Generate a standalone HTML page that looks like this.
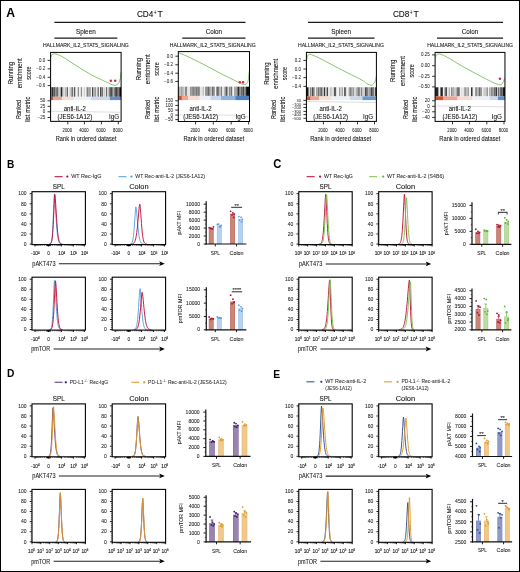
<!DOCTYPE html>
<html><head><meta charset="utf-8"><style>
html,body{margin:0;padding:0;background:#fff;}
body{width:520px;height:572px;overflow:hidden;position:relative;}
svg{display:block;font-family:"Liberation Sans", sans-serif;will-change:transform;}
#frame{position:absolute;left:0;top:0;width:520px;height:572px;box-sizing:border-box;border:1px solid #000;pointer-events:none;}
</style></head><body>
<svg width="520" height="572" viewBox="0 0 520 572" font-family="Liberation Sans, sans-serif">
<rect x="0.00" y="0.00" width="520.00" height="572.00" fill="#fff"/>
<text x="6.20" y="16.59" font-size="12.2" font-weight="bold" fill="#000">A</text>
<line x1="54.40" y1="22.30" x2="245.50" y2="22.30" stroke="#1a1a1a" stroke-width="1.25"/>
<line x1="308.00" y1="22.30" x2="503.00" y2="22.30" stroke="#1a1a1a" stroke-width="1.25"/>
<text x="136.90" y="17.43" font-size="9.40" fill="#111" textLength="16.40" lengthAdjust="spacingAndGlyphs" stroke="#111" stroke-width="0.11">CD4</text>
<text x="155.20" y="14.88" font-size="7.20" text-anchor="middle" fill="#111" textLength="2.80" lengthAdjust="spacingAndGlyphs" stroke="#111" stroke-width="0.09">+</text>
<text x="157.40" y="17.43" font-size="9.40" fill="#111" textLength="5.30" lengthAdjust="spacingAndGlyphs" stroke="#111" stroke-width="0.11">T</text>
<text x="392.90" y="17.43" font-size="9.40" fill="#111" textLength="16.40" lengthAdjust="spacingAndGlyphs" stroke="#111" stroke-width="0.11">CD8</text>
<text x="411.10" y="14.88" font-size="7.20" text-anchor="middle" fill="#111" textLength="2.80" lengthAdjust="spacingAndGlyphs" stroke="#111" stroke-width="0.09">+</text>
<text x="413.40" y="17.43" font-size="9.40" fill="#111" textLength="5.30" lengthAdjust="spacingAndGlyphs" stroke="#111" stroke-width="0.11">T</text>
<text x="85.85" y="46.78" font-size="4.60" text-anchor="middle" fill="#111" textLength="85.90" lengthAdjust="spacingAndGlyphs" stroke="#111" stroke-width="0.06">HALLMARK_IL2_STAT5_SIGNALING</text>
<line x1="54.40" y1="38.10" x2="117.30" y2="38.10" stroke="#1a1a1a" stroke-width="1.15"/>
<text x="85.85" y="33.54" font-size="6.50" text-anchor="middle" fill="#111" textLength="19.80" lengthAdjust="spacingAndGlyphs" stroke="#111" stroke-width="0.08">Spleen</text>
<rect x="50.60" y="87.20" width="0.85" height="9.60" fill="rgb(19,19,19)"/>
<rect x="51.42" y="87.20" width="0.85" height="9.60" fill="rgb(107,107,107)"/>
<rect x="52.23" y="87.20" width="0.85" height="9.60" fill="rgb(0,0,0)"/>
<rect x="53.05" y="87.20" width="0.85" height="9.60" fill="rgb(111,111,111)"/>
<rect x="53.87" y="87.20" width="0.85" height="9.60" fill="rgb(17,17,17)"/>
<rect x="54.68" y="87.20" width="0.85" height="9.60" fill="rgb(106,106,106)"/>
<rect x="55.50" y="87.20" width="1.53" height="9.60" fill="rgb(127,127,127)"/>
<rect x="57.00" y="87.20" width="1.03" height="9.60" fill="rgb(107,107,107)"/>
<rect x="58.00" y="87.20" width="1.03" height="9.60" fill="rgb(185,185,185)"/>
<rect x="59.00" y="87.20" width="1.73" height="9.60" fill="rgb(204,204,204)"/>
<rect x="60.70" y="87.20" width="1.43" height="9.60" fill="rgb(38,38,38)"/>
<rect x="62.10" y="87.20" width="0.83" height="9.60" fill="rgb(140,140,140)"/>
<rect x="62.90" y="87.20" width="0.83" height="9.60" fill="rgb(225,225,225)"/>
<rect x="63.70" y="87.20" width="0.83" height="9.60" fill="rgb(161,161,161)"/>
<rect x="64.50" y="87.20" width="1.13" height="9.60" fill="rgb(242,242,242)"/>
<rect x="65.60" y="87.20" width="0.83" height="9.60" fill="rgb(89,89,89)"/>
<rect x="66.40" y="87.20" width="0.83" height="9.60" fill="rgb(190,190,190)"/>
<rect x="67.20" y="87.20" width="0.83" height="9.60" fill="rgb(68,68,68)"/>
<rect x="68.00" y="87.20" width="1.43" height="9.60" fill="rgb(242,242,242)"/>
<rect x="69.40" y="87.20" width="1.03" height="9.60" fill="rgb(204,204,204)"/>
<rect x="70.40" y="87.20" width="0.43" height="9.60" fill="rgb(242,242,242)"/>
<rect x="70.80" y="87.20" width="0.73" height="9.60" fill="rgb(60,60,60)"/>
<rect x="71.50" y="87.20" width="0.73" height="9.60" fill="rgb(179,179,179)"/>
<rect x="72.20" y="87.20" width="0.73" height="9.60" fill="rgb(49,49,49)"/>
<rect x="72.90" y="87.20" width="1.03" height="9.60" fill="rgb(242,242,242)"/>
<rect x="73.90" y="87.20" width="0.88" height="9.60" fill="rgb(24,24,24)"/>
<rect x="74.75" y="87.20" width="0.88" height="9.60" fill="rgb(128,128,128)"/>
<rect x="75.60" y="87.20" width="2.13" height="9.60" fill="rgb(242,242,242)"/>
<rect x="77.70" y="87.20" width="1.43" height="9.60" fill="rgb(140,140,140)"/>
<rect x="79.10" y="87.20" width="1.73" height="9.60" fill="rgb(242,242,242)"/>
<rect x="80.80" y="87.20" width="1.43" height="9.60" fill="rgb(140,140,140)"/>
<rect x="82.20" y="87.20" width="1.73" height="9.60" fill="rgb(242,242,242)"/>
<rect x="83.90" y="87.20" width="0.73" height="9.60" fill="rgb(153,153,153)"/>
<rect x="84.60" y="87.20" width="1.83" height="9.60" fill="rgb(242,242,242)"/>
<rect x="86.40" y="87.20" width="0.93" height="9.60" fill="rgb(153,153,153)"/>
<rect x="87.30" y="87.20" width="1.13" height="9.60" fill="rgb(89,89,89)"/>
<rect x="88.40" y="87.20" width="1.23" height="9.60" fill="rgb(165,165,165)"/>
<rect x="89.60" y="87.20" width="1.13" height="9.60" fill="rgb(102,102,102)"/>
<rect x="90.70" y="87.20" width="1.43" height="9.60" fill="rgb(242,242,242)"/>
<rect x="92.10" y="87.20" width="0.93" height="9.60" fill="rgb(51,51,51)"/>
<rect x="93.00" y="87.20" width="0.93" height="9.60" fill="rgb(161,161,161)"/>
<rect x="93.90" y="87.20" width="0.73" height="9.60" fill="rgb(242,242,242)"/>
<rect x="94.60" y="87.20" width="0.93" height="9.60" fill="rgb(75,75,75)"/>
<rect x="95.50" y="87.20" width="0.93" height="9.60" fill="rgb(146,146,146)"/>
<rect x="96.40" y="87.20" width="1.13" height="9.60" fill="rgb(242,242,242)"/>
<rect x="97.50" y="87.20" width="1.43" height="9.60" fill="rgb(102,102,102)"/>
<rect x="98.90" y="87.20" width="1.13" height="9.60" fill="rgb(242,242,242)"/>
<rect x="100.00" y="87.20" width="0.96" height="9.60" fill="rgb(61,61,61)"/>
<rect x="100.93" y="87.20" width="0.96" height="9.60" fill="rgb(147,147,147)"/>
<rect x="101.87" y="87.20" width="0.96" height="9.60" fill="rgb(53,53,53)"/>
<rect x="102.80" y="87.20" width="0.73" height="9.60" fill="rgb(229,229,229)"/>
<rect x="103.50" y="87.20" width="2.13" height="9.60" fill="rgb(204,204,204)"/>
<rect x="105.60" y="87.20" width="0.43" height="9.60" fill="rgb(242,242,242)"/>
<rect x="106.00" y="87.20" width="1.03" height="9.60" fill="rgb(102,102,102)"/>
<rect x="107.00" y="87.20" width="0.83" height="9.60" fill="rgb(242,242,242)"/>
<rect x="107.80" y="87.20" width="0.73" height="9.60" fill="rgb(126,126,126)"/>
<rect x="108.50" y="87.20" width="0.73" height="9.60" fill="rgb(200,200,200)"/>
<rect x="109.20" y="87.20" width="0.73" height="9.60" fill="rgb(109,109,109)"/>
<rect x="109.90" y="87.20" width="0.75" height="9.60" fill="rgb(3,3,3)"/>
<rect x="110.62" y="87.20" width="0.75" height="9.60" fill="rgb(108,108,108)"/>
<rect x="111.35" y="87.20" width="0.75" height="9.60" fill="rgb(12,12,12)"/>
<rect x="112.08" y="87.20" width="0.75" height="9.60" fill="rgb(109,109,109)"/>
<rect x="112.80" y="87.20" width="0.73" height="9.60" fill="rgb(87,87,87)"/>
<rect x="113.50" y="87.20" width="0.73" height="9.60" fill="rgb(187,187,187)"/>
<rect x="114.20" y="87.20" width="0.73" height="9.60" fill="rgb(103,103,103)"/>
<rect x="114.90" y="87.20" width="0.74" height="9.60" fill="rgb(0,0,0)"/>
<rect x="115.61" y="87.20" width="0.74" height="9.60" fill="rgb(89,89,89)"/>
<rect x="116.33" y="87.20" width="0.74" height="9.60" fill="rgb(3,3,3)"/>
<rect x="117.04" y="87.20" width="0.74" height="9.60" fill="rgb(101,101,101)"/>
<rect x="117.76" y="87.20" width="0.74" height="9.60" fill="rgb(25,25,25)"/>
<rect x="118.47" y="87.20" width="0.74" height="9.60" fill="rgb(120,120,120)"/>
<rect x="119.19" y="87.20" width="0.74" height="9.60" fill="rgb(26,26,26)"/>
<rect x="119.90" y="87.20" width="1.23" height="9.60" fill="rgb(12,12,12)"/>
<rect x="50.60" y="96.80" width="2.87" height="3.30" fill="#d4502e"/>
<rect x="53.42" y="96.80" width="8.51" height="3.30" fill="#eaa58f"/>
<rect x="61.88" y="96.80" width="12.04" height="3.30" fill="#f6ddd2"/>
<rect x="73.87" y="96.80" width="16.97" height="3.30" fill="#eef0f8"/>
<rect x="90.78" y="96.80" width="19.09" height="3.30" fill="#c9d9ee"/>
<rect x="109.82" y="96.80" width="11.33" height="3.30" fill="#5d8fcc"/>
<path d="M50.70,57.50 C50.92,57.05 51.42,55.40 52.00,54.80 C52.58,54.20 53.37,53.98 54.20,53.90 C55.03,53.82 55.38,53.68 57.00,54.30 C58.62,54.92 60.45,55.55 63.90,57.60 C67.35,59.65 73.10,63.72 77.70,66.60 C82.30,69.48 86.88,72.40 91.50,74.90 C96.12,77.40 102.15,80.05 105.40,81.60 C108.65,83.15 109.50,83.58 111.00,84.20 C112.50,84.82 113.40,85.23 114.40,85.30 C115.40,85.37 116.27,85.02 117.00,84.60 C117.73,84.18 118.27,83.73 118.80,82.80 C119.33,81.87 119.83,80.72 120.20,79.00 C120.57,77.28 120.87,73.58 121.00,72.50" stroke="#74b852" fill="none" stroke-width="0.85"/>
<circle cx="110.80" cy="80.70" r="1.25" fill="#c82a52"/>
<circle cx="115.20" cy="80.70" r="1.25" fill="#c82a52"/>
<path d="M51,111.2 Q70,111.6 90,111.8 T120,112.4" stroke="#c8c8c8" fill="none" stroke-width="0.6"/>
<rect x="50.60" y="52.40" width="70.50" height="68.95" fill="none" stroke="#000" stroke-width="1.0"/>
<path d="M47.60,60.40H50.60M47.60,68.90H50.60M47.60,77.30H50.60M47.60,85.60H50.60M47.60,100.80H50.60M47.60,106.30H50.60M47.60,111.80H50.60M47.60,117.50H50.60M67.80,121.35V124.35M84.40,121.35V124.35M101.40,121.35V124.35M118.30,121.35V124.35" stroke="#111" fill="none" stroke-width="0.85"/>
<text x="45.20" y="61.95" font-size="4.50" text-anchor="end" fill="#2a2a2a" stroke="#2a2a2a" stroke-width="0.04">0.0</text>
<text x="45.20" y="70.45" font-size="4.50" text-anchor="end" fill="#2a2a2a" stroke="#2a2a2a" stroke-width="0.04">−0.2</text>
<text x="45.20" y="78.85" font-size="4.50" text-anchor="end" fill="#2a2a2a" stroke="#2a2a2a" stroke-width="0.04">−0.4</text>
<text x="45.20" y="87.15" font-size="4.50" text-anchor="end" fill="#2a2a2a" stroke="#2a2a2a" stroke-width="0.04">−0.6</text>
<text x="45.20" y="102.35" font-size="4.50" text-anchor="end" fill="#2a2a2a" stroke="#2a2a2a" stroke-width="0.04">50</text>
<text x="45.20" y="107.85" font-size="4.50" text-anchor="end" fill="#2a2a2a" stroke="#2a2a2a" stroke-width="0.04">25</text>
<text x="45.20" y="113.35" font-size="4.50" text-anchor="end" fill="#2a2a2a" stroke="#2a2a2a" stroke-width="0.04">0</text>
<text x="45.20" y="119.05" font-size="4.50" text-anchor="end" fill="#2a2a2a" stroke="#2a2a2a" stroke-width="0.04">−25</text>
<text x="67.30" y="131.69" font-size="4.90" text-anchor="middle" fill="#1a1a1a" textLength="9.40" lengthAdjust="spacingAndGlyphs" stroke="#1a1a1a" stroke-width="0.06">2000</text>
<text x="83.90" y="131.69" font-size="4.90" text-anchor="middle" fill="#1a1a1a" textLength="9.40" lengthAdjust="spacingAndGlyphs" stroke="#1a1a1a" stroke-width="0.06">4000</text>
<text x="100.90" y="131.69" font-size="4.90" text-anchor="middle" fill="#1a1a1a" textLength="9.40" lengthAdjust="spacingAndGlyphs" stroke="#1a1a1a" stroke-width="0.06">6000</text>
<text x="117.80" y="131.69" font-size="4.90" text-anchor="middle" fill="#1a1a1a" textLength="9.40" lengthAdjust="spacingAndGlyphs" stroke="#1a1a1a" stroke-width="0.06">8000</text>
<text x="74.80" y="110.74" font-size="6.80" text-anchor="middle" fill="#111" textLength="22.30" lengthAdjust="spacingAndGlyphs" stroke="#111" stroke-width="0.08">anti-IL-2</text>
<text x="74.80" y="118.64" font-size="6.80" text-anchor="middle" fill="#111" textLength="34.80" lengthAdjust="spacingAndGlyphs" stroke="#111" stroke-width="0.08">(JES6-1A12)</text>
<text x="114.10" y="118.94" font-size="6.80" text-anchor="middle" fill="#111" textLength="10.20" lengthAdjust="spacingAndGlyphs" stroke="#111" stroke-width="0.08">IgG</text>
<text x="86.20" y="141.41" font-size="7.00" text-anchor="middle" fill="#111" textLength="60.90" lengthAdjust="spacingAndGlyphs" stroke="#111" stroke-width="0.08">Rank in ordered dataset</text>
<text transform="translate(10.50,73.10) rotate(-90)" x="0" y="2.20" font-size="6.40" text-anchor="middle" fill="#111" textLength="22.30" lengthAdjust="spacingAndGlyphs" stroke="#111" stroke-width="0.08">Running</text>
<text transform="translate(19.70,73.30) rotate(-90)" x="0" y="2.20" font-size="6.40" text-anchor="middle" fill="#111" textLength="30.00" lengthAdjust="spacingAndGlyphs" stroke="#111" stroke-width="0.08">enrichment</text>
<text transform="translate(28.90,73.10) rotate(-90)" x="0" y="2.20" font-size="6.40" text-anchor="middle" fill="#111" textLength="13.50" lengthAdjust="spacingAndGlyphs" stroke="#111" stroke-width="0.08">score</text>
<text transform="translate(19.00,109.40) rotate(-90)" x="0" y="2.20" font-size="6.40" text-anchor="middle" fill="#111" textLength="19.20" lengthAdjust="spacingAndGlyphs" stroke="#111" stroke-width="0.08">Ranked</text>
<text transform="translate(28.20,109.20) rotate(-90)" x="0" y="2.20" font-size="6.40" text-anchor="middle" fill="#111" textLength="25.20" lengthAdjust="spacingAndGlyphs" stroke="#111" stroke-width="0.08">list metric</text>
<text x="212.80" y="46.78" font-size="4.60" text-anchor="middle" fill="#111" textLength="85.90" lengthAdjust="spacingAndGlyphs" stroke="#111" stroke-width="0.06">HALLMARK_IL2_STAT5_SIGNALING</text>
<line x1="182.30" y1="38.10" x2="245.50" y2="38.10" stroke="#1a1a1a" stroke-width="1.15"/>
<text x="213.90" y="33.54" font-size="6.50" text-anchor="middle" fill="#111" textLength="16.30" lengthAdjust="spacingAndGlyphs" stroke="#111" stroke-width="0.08">Colon</text>
<rect x="178.30" y="86.70" width="0.75" height="9.20" fill="rgb(108,108,108)"/>
<rect x="179.03" y="86.70" width="0.75" height="9.20" fill="rgb(192,192,192)"/>
<rect x="179.75" y="86.70" width="0.75" height="9.20" fill="rgb(100,100,100)"/>
<rect x="180.47" y="86.70" width="0.75" height="9.20" fill="rgb(213,213,213)"/>
<rect x="181.20" y="86.70" width="0.75" height="9.20" fill="rgb(127,127,127)"/>
<rect x="181.93" y="86.70" width="0.75" height="9.20" fill="rgb(204,204,204)"/>
<rect x="182.65" y="86.70" width="0.75" height="9.20" fill="rgb(116,116,116)"/>
<rect x="183.38" y="86.70" width="0.75" height="9.20" fill="rgb(186,186,186)"/>
<rect x="184.10" y="86.70" width="1.43" height="9.20" fill="rgb(216,216,216)"/>
<rect x="185.50" y="86.70" width="0.93" height="9.20" fill="rgb(35,35,35)"/>
<rect x="186.40" y="86.70" width="0.93" height="9.20" fill="rgb(131,131,131)"/>
<rect x="187.30" y="86.70" width="3.23" height="9.20" fill="rgb(229,229,229)"/>
<rect x="190.50" y="86.70" width="0.75" height="9.20" fill="rgb(66,66,66)"/>
<rect x="191.22" y="86.70" width="0.75" height="9.20" fill="rgb(154,154,154)"/>
<rect x="191.94" y="86.70" width="0.75" height="9.20" fill="rgb(83,83,83)"/>
<rect x="192.65" y="86.70" width="0.75" height="9.20" fill="rgb(163,163,163)"/>
<rect x="193.37" y="86.70" width="0.75" height="9.20" fill="rgb(82,82,82)"/>
<rect x="194.09" y="86.70" width="0.75" height="9.20" fill="rgb(144,144,144)"/>
<rect x="194.81" y="86.70" width="0.75" height="9.20" fill="rgb(86,86,86)"/>
<rect x="195.53" y="86.70" width="0.75" height="9.20" fill="rgb(147,147,147)"/>
<rect x="196.25" y="86.70" width="0.75" height="9.20" fill="rgb(86,86,86)"/>
<rect x="196.96" y="86.70" width="0.75" height="9.20" fill="rgb(153,153,153)"/>
<rect x="197.68" y="86.70" width="0.75" height="9.20" fill="rgb(75,75,75)"/>
<rect x="198.40" y="86.70" width="1.43" height="9.20" fill="rgb(102,102,102)"/>
<rect x="199.80" y="86.70" width="2.83" height="9.20" fill="rgb(229,229,229)"/>
<rect x="202.60" y="86.70" width="1.43" height="9.20" fill="rgb(191,191,191)"/>
<rect x="204.00" y="86.70" width="1.53" height="9.20" fill="rgb(242,242,242)"/>
<rect x="205.50" y="86.70" width="0.74" height="9.20" fill="rgb(59,59,59)"/>
<rect x="206.21" y="86.70" width="0.74" height="9.20" fill="rgb(133,133,133)"/>
<rect x="206.93" y="86.70" width="0.74" height="9.20" fill="rgb(75,75,75)"/>
<rect x="207.64" y="86.70" width="0.74" height="9.20" fill="rgb(165,165,165)"/>
<rect x="208.36" y="86.70" width="0.74" height="9.20" fill="rgb(39,39,39)"/>
<rect x="209.07" y="86.70" width="0.74" height="9.20" fill="rgb(147,147,147)"/>
<rect x="209.79" y="86.70" width="0.74" height="9.20" fill="rgb(72,72,72)"/>
<rect x="210.50" y="86.70" width="1.43" height="9.20" fill="rgb(204,204,204)"/>
<rect x="211.90" y="86.70" width="0.86" height="9.20" fill="rgb(48,48,48)"/>
<rect x="212.73" y="86.70" width="0.86" height="9.20" fill="rgb(142,142,142)"/>
<rect x="213.57" y="86.70" width="0.86" height="9.20" fill="rgb(84,84,84)"/>
<rect x="214.40" y="86.70" width="0.86" height="9.20" fill="rgb(148,148,148)"/>
<rect x="215.23" y="86.70" width="0.86" height="9.20" fill="rgb(252,252,252)"/>
<rect x="216.07" y="86.70" width="0.86" height="9.20" fill="rgb(152,152,152)"/>
<rect x="216.90" y="86.70" width="0.86" height="9.20" fill="rgb(38,38,38)"/>
<rect x="217.73" y="86.70" width="0.86" height="9.20" fill="rgb(148,148,148)"/>
<rect x="218.57" y="86.70" width="0.86" height="9.20" fill="rgb(35,35,35)"/>
<rect x="219.40" y="86.70" width="1.43" height="9.20" fill="rgb(204,204,204)"/>
<rect x="220.80" y="86.70" width="1.13" height="9.20" fill="rgb(102,102,102)"/>
<rect x="221.90" y="86.70" width="2.83" height="9.20" fill="rgb(229,229,229)"/>
<rect x="224.70" y="86.70" width="0.83" height="9.20" fill="rgb(61,61,61)"/>
<rect x="225.50" y="86.70" width="0.83" height="9.20" fill="rgb(148,148,148)"/>
<rect x="226.30" y="86.70" width="0.83" height="9.20" fill="rgb(30,30,30)"/>
<rect x="227.10" y="86.70" width="0.83" height="9.20" fill="rgb(139,139,139)"/>
<rect x="227.90" y="86.70" width="1.53" height="9.20" fill="rgb(216,216,216)"/>
<rect x="229.40" y="86.70" width="0.83" height="9.20" fill="rgb(72,72,72)"/>
<rect x="230.20" y="86.70" width="0.83" height="9.20" fill="rgb(156,156,156)"/>
<rect x="231.00" y="86.70" width="0.83" height="9.20" fill="rgb(69,69,69)"/>
<rect x="231.80" y="86.70" width="0.83" height="9.20" fill="rgb(165,165,165)"/>
<rect x="232.60" y="86.70" width="1.83" height="9.20" fill="rgb(242,242,242)"/>
<rect x="234.40" y="86.70" width="0.73" height="9.20" fill="rgb(113,113,113)"/>
<rect x="235.10" y="86.70" width="0.73" height="9.20" fill="rgb(176,176,176)"/>
<rect x="235.80" y="86.70" width="0.73" height="9.20" fill="rgb(75,75,75)"/>
<rect x="236.50" y="86.70" width="0.73" height="9.20" fill="rgb(166,166,166)"/>
<rect x="237.20" y="86.70" width="0.73" height="9.20" fill="rgb(87,87,87)"/>
<rect x="237.90" y="86.70" width="1.08" height="9.20" fill="rgb(36,36,36)"/>
<rect x="238.95" y="86.70" width="1.08" height="9.20" fill="rgb(127,127,127)"/>
<rect x="240.00" y="86.70" width="1.53" height="9.20" fill="rgb(153,153,153)"/>
<rect x="241.50" y="86.70" width="0.83" height="9.20" fill="rgb(10,10,10)"/>
<rect x="242.30" y="86.70" width="0.83" height="9.20" fill="rgb(102,102,102)"/>
<rect x="243.10" y="86.70" width="0.83" height="9.20" fill="rgb(33,33,33)"/>
<rect x="243.90" y="86.70" width="0.83" height="9.20" fill="rgb(120,120,120)"/>
<rect x="244.70" y="86.70" width="1.43" height="9.20" fill="rgb(127,127,127)"/>
<rect x="246.10" y="86.70" width="3.43" height="9.20" fill="rgb(12,12,12)"/>
<rect x="178.30" y="95.90" width="3.61" height="4.20" fill="#d4502e"/>
<rect x="181.86" y="95.90" width="6.46" height="4.20" fill="#eba592"/>
<rect x="188.27" y="95.90" width="11.44" height="4.20" fill="#f6ddd4"/>
<rect x="199.66" y="95.90" width="10.73" height="4.20" fill="#eef0f8"/>
<rect x="210.34" y="95.90" width="10.73" height="4.20" fill="#c8d8ee"/>
<rect x="221.02" y="95.90" width="14.29" height="4.20" fill="#8fb2de"/>
<rect x="235.26" y="95.90" width="14.29" height="4.20" fill="#4d7fc2"/>
<path d="M178.60,52.80 C179.65,53.22 182.68,54.33 184.90,55.30 C187.12,56.27 188.43,56.90 191.90,58.60 C195.37,60.30 201.10,63.12 205.70,65.50 C210.30,67.88 214.88,70.52 219.50,72.90 C224.12,75.28 229.93,78.08 233.40,79.80 C236.87,81.52 238.68,82.43 240.30,83.20 C241.92,83.97 242.17,84.23 243.10,84.40 C244.03,84.57 245.08,84.73 245.90,84.20 C246.72,83.67 247.43,83.43 248.00,81.20 C248.57,78.97 249.08,72.53 249.30,70.80" stroke="#74b852" fill="none" stroke-width="0.85"/>
<circle cx="239.80" cy="82.20" r="1.25" fill="#c82a52"/>
<circle cx="243.10" cy="82.20" r="1.25" fill="#c82a52"/>
<path d="M179,115 L235,115.2 Q245,115.5 249,117" stroke="#c8c8c8" fill="none" stroke-width="0.6"/>
<rect x="178.30" y="51.60" width="71.20" height="69.90" fill="none" stroke="#000" stroke-width="1.0"/>
<path d="M175.30,56.20H178.30M175.30,64.80H178.30M175.30,73.20H178.30M175.30,81.40H178.30M175.30,100.80H178.30M175.30,105.40H178.30M175.30,110.10H178.30M175.30,115.10H178.30M175.30,119.60H178.30M195.60,121.50V124.50M213.30,121.50V124.50M231.20,121.50V124.50M248.60,121.50V124.50" stroke="#111" fill="none" stroke-width="0.85"/>
<text x="172.90" y="57.75" font-size="4.50" text-anchor="end" fill="#2a2a2a" stroke="#2a2a2a" stroke-width="0.04">0.0</text>
<text x="172.90" y="66.35" font-size="4.50" text-anchor="end" fill="#2a2a2a" stroke="#2a2a2a" stroke-width="0.04">−0.2</text>
<text x="172.90" y="74.75" font-size="4.50" text-anchor="end" fill="#2a2a2a" stroke="#2a2a2a" stroke-width="0.04">−0.4</text>
<text x="172.90" y="82.95" font-size="4.50" text-anchor="end" fill="#2a2a2a" stroke="#2a2a2a" stroke-width="0.04">−0.6</text>
<text x="172.90" y="102.35" font-size="4.50" text-anchor="end" fill="#2a2a2a" stroke="#2a2a2a" stroke-width="0.04">150</text>
<text x="172.90" y="106.95" font-size="4.50" text-anchor="end" fill="#2a2a2a" stroke="#2a2a2a" stroke-width="0.04">100</text>
<text x="172.90" y="111.65" font-size="4.50" text-anchor="end" fill="#2a2a2a" stroke="#2a2a2a" stroke-width="0.04">50</text>
<text x="172.90" y="116.65" font-size="4.50" text-anchor="end" fill="#2a2a2a" stroke="#2a2a2a" stroke-width="0.04">0</text>
<text x="172.90" y="121.15" font-size="4.50" text-anchor="end" fill="#2a2a2a" stroke="#2a2a2a" stroke-width="0.04">−50</text>
<text x="195.10" y="131.69" font-size="4.90" text-anchor="middle" fill="#1a1a1a" textLength="9.40" lengthAdjust="spacingAndGlyphs" stroke="#1a1a1a" stroke-width="0.06">2000</text>
<text x="212.80" y="131.69" font-size="4.90" text-anchor="middle" fill="#1a1a1a" textLength="9.40" lengthAdjust="spacingAndGlyphs" stroke="#1a1a1a" stroke-width="0.06">4000</text>
<text x="230.70" y="131.69" font-size="4.90" text-anchor="middle" fill="#1a1a1a" textLength="9.40" lengthAdjust="spacingAndGlyphs" stroke="#1a1a1a" stroke-width="0.06">6000</text>
<text x="248.10" y="131.69" font-size="4.90" text-anchor="middle" fill="#1a1a1a" textLength="9.40" lengthAdjust="spacingAndGlyphs" stroke="#1a1a1a" stroke-width="0.06">8000</text>
<text x="200.60" y="110.74" font-size="6.80" text-anchor="middle" fill="#111" textLength="22.30" lengthAdjust="spacingAndGlyphs" stroke="#111" stroke-width="0.08">anti-IL-2</text>
<text x="200.60" y="118.64" font-size="6.80" text-anchor="middle" fill="#111" textLength="34.80" lengthAdjust="spacingAndGlyphs" stroke="#111" stroke-width="0.08">(JES6-1A12)</text>
<text x="240.70" y="118.94" font-size="6.80" text-anchor="middle" fill="#111" textLength="10.20" lengthAdjust="spacingAndGlyphs" stroke="#111" stroke-width="0.08">IgG</text>
<text x="213.90" y="141.41" font-size="7.00" text-anchor="middle" fill="#111" textLength="60.90" lengthAdjust="spacingAndGlyphs" stroke="#111" stroke-width="0.08">Rank in ordered dataset</text>
<text transform="translate(138.50,69.00) rotate(-90)" x="0" y="2.20" font-size="6.40" text-anchor="middle" fill="#111" textLength="22.30" lengthAdjust="spacingAndGlyphs" stroke="#111" stroke-width="0.08">Running</text>
<text transform="translate(147.70,69.20) rotate(-90)" x="0" y="2.20" font-size="6.40" text-anchor="middle" fill="#111" textLength="30.00" lengthAdjust="spacingAndGlyphs" stroke="#111" stroke-width="0.08">enrichment</text>
<text transform="translate(156.90,69.00) rotate(-90)" x="0" y="2.20" font-size="6.40" text-anchor="middle" fill="#111" textLength="13.50" lengthAdjust="spacingAndGlyphs" stroke="#111" stroke-width="0.08">score</text>
<text transform="translate(147.70,109.40) rotate(-90)" x="0" y="2.20" font-size="6.40" text-anchor="middle" fill="#111" textLength="19.20" lengthAdjust="spacingAndGlyphs" stroke="#111" stroke-width="0.08">Ranked</text>
<text transform="translate(156.90,109.20) rotate(-90)" x="0" y="2.20" font-size="6.40" text-anchor="middle" fill="#111" textLength="25.20" lengthAdjust="spacingAndGlyphs" stroke="#111" stroke-width="0.08">list metric</text>
<text x="341.00" y="46.78" font-size="4.60" text-anchor="middle" fill="#111" textLength="85.90" lengthAdjust="spacingAndGlyphs" stroke="#111" stroke-width="0.06">HALLMARK_IL2_STAT5_SIGNALING</text>
<line x1="308.00" y1="38.10" x2="374.50" y2="38.10" stroke="#1a1a1a" stroke-width="1.15"/>
<text x="341.25" y="33.54" font-size="6.50" text-anchor="middle" fill="#111" textLength="19.80" lengthAdjust="spacingAndGlyphs" stroke="#111" stroke-width="0.08">Spleen</text>
<rect x="306.40" y="87.30" width="2.23" height="9.10" fill="rgb(25,25,25)"/>
<rect x="308.60" y="87.30" width="0.88" height="9.10" fill="rgb(155,155,155)"/>
<rect x="309.45" y="87.30" width="0.88" height="9.10" fill="rgb(229,229,229)"/>
<rect x="310.30" y="87.30" width="0.93" height="9.10" fill="rgb(86,86,86)"/>
<rect x="311.20" y="87.30" width="0.93" height="9.10" fill="rgb(171,171,171)"/>
<rect x="312.10" y="87.30" width="0.86" height="9.10" fill="rgb(43,43,43)"/>
<rect x="312.93" y="87.30" width="0.86" height="9.10" fill="rgb(133,133,133)"/>
<rect x="313.77" y="87.30" width="0.86" height="9.10" fill="rgb(44,44,44)"/>
<rect x="314.60" y="87.30" width="1.83" height="9.10" fill="rgb(242,242,242)"/>
<rect x="316.40" y="87.30" width="0.73" height="9.10" fill="rgb(105,105,105)"/>
<rect x="317.10" y="87.30" width="0.73" height="9.10" fill="rgb(176,176,176)"/>
<rect x="317.80" y="87.30" width="0.73" height="9.10" fill="rgb(109,109,109)"/>
<rect x="318.50" y="87.30" width="0.75" height="9.10" fill="rgb(54,54,54)"/>
<rect x="319.22" y="87.30" width="0.75" height="9.10" fill="rgb(159,159,159)"/>
<rect x="319.93" y="87.30" width="0.75" height="9.10" fill="rgb(64,64,64)"/>
<rect x="320.65" y="87.30" width="0.75" height="9.10" fill="rgb(150,150,150)"/>
<rect x="321.37" y="87.30" width="0.75" height="9.10" fill="rgb(42,42,42)"/>
<rect x="322.08" y="87.30" width="0.75" height="9.10" fill="rgb(143,143,143)"/>
<rect x="322.80" y="87.30" width="1.13" height="9.10" fill="rgb(204,204,204)"/>
<rect x="323.90" y="87.30" width="1.43" height="9.10" fill="rgb(50,50,50)"/>
<rect x="325.30" y="87.30" width="1.43" height="9.10" fill="rgb(204,204,204)"/>
<rect x="326.70" y="87.30" width="1.43" height="9.10" fill="rgb(76,76,76)"/>
<rect x="328.10" y="87.30" width="2.53" height="9.10" fill="rgb(229,229,229)"/>
<rect x="330.60" y="87.30" width="0.93" height="9.10" fill="rgb(139,139,139)"/>
<rect x="331.50" y="87.30" width="0.93" height="9.10" fill="rgb(220,220,220)"/>
<rect x="332.40" y="87.30" width="1.83" height="9.10" fill="rgb(216,216,216)"/>
<rect x="334.20" y="87.30" width="0.73" height="9.10" fill="rgb(32,32,32)"/>
<rect x="334.90" y="87.30" width="0.73" height="9.10" fill="rgb(94,94,94)"/>
<rect x="335.60" y="87.30" width="0.73" height="9.10" fill="rgb(5,5,5)"/>
<rect x="336.30" y="87.30" width="2.93" height="9.10" fill="rgb(242,242,242)"/>
<rect x="339.20" y="87.30" width="0.81" height="9.10" fill="rgb(132,132,132)"/>
<rect x="339.98" y="87.30" width="0.81" height="9.10" fill="rgb(223,223,223)"/>
<rect x="340.76" y="87.30" width="0.81" height="9.10" fill="rgb(135,135,135)"/>
<rect x="341.54" y="87.30" width="0.81" height="9.10" fill="rgb(218,218,218)"/>
<rect x="342.32" y="87.30" width="0.81" height="9.10" fill="rgb(133,133,133)"/>
<rect x="343.10" y="87.30" width="1.13" height="9.10" fill="rgb(242,242,242)"/>
<rect x="344.20" y="87.30" width="0.73" height="9.10" fill="rgb(40,40,40)"/>
<rect x="344.90" y="87.30" width="0.73" height="9.10" fill="rgb(108,108,108)"/>
<rect x="345.60" y="87.30" width="0.73" height="9.10" fill="rgb(31,31,31)"/>
<rect x="346.30" y="87.30" width="2.53" height="9.10" fill="rgb(242,242,242)"/>
<rect x="348.80" y="87.30" width="0.74" height="9.10" fill="rgb(71,71,71)"/>
<rect x="349.51" y="87.30" width="0.74" height="9.10" fill="rgb(170,170,170)"/>
<rect x="350.23" y="87.30" width="0.74" height="9.10" fill="rgb(84,84,84)"/>
<rect x="350.94" y="87.30" width="0.74" height="9.10" fill="rgb(178,178,178)"/>
<rect x="351.66" y="87.30" width="0.74" height="9.10" fill="rgb(84,84,84)"/>
<rect x="352.37" y="87.30" width="0.74" height="9.10" fill="rgb(180,180,180)"/>
<rect x="353.09" y="87.30" width="0.74" height="9.10" fill="rgb(97,97,97)"/>
<rect x="353.80" y="87.30" width="2.93" height="9.10" fill="rgb(216,216,216)"/>
<rect x="356.70" y="87.30" width="0.73" height="9.10" fill="rgb(68,68,68)"/>
<rect x="357.40" y="87.30" width="0.73" height="9.10" fill="rgb(161,161,161)"/>
<rect x="358.10" y="87.30" width="0.73" height="9.10" fill="rgb(61,61,61)"/>
<rect x="358.80" y="87.30" width="0.73" height="9.10" fill="rgb(165,165,165)"/>
<rect x="359.50" y="87.30" width="0.73" height="9.10" fill="rgb(79,79,79)"/>
<rect x="360.20" y="87.30" width="1.13" height="9.10" fill="rgb(204,204,204)"/>
<rect x="361.30" y="87.30" width="0.93" height="9.10" fill="rgb(84,84,84)"/>
<rect x="362.20" y="87.30" width="0.93" height="9.10" fill="rgb(201,201,201)"/>
<rect x="363.10" y="87.30" width="2.13" height="9.10" fill="rgb(204,204,204)"/>
<rect x="365.20" y="87.30" width="0.73" height="9.10" fill="rgb(10,10,10)"/>
<rect x="365.90" y="87.30" width="0.73" height="9.10" fill="rgb(111,111,111)"/>
<rect x="366.60" y="87.30" width="0.73" height="9.10" fill="rgb(31,31,31)"/>
<rect x="367.30" y="87.30" width="0.81" height="9.10" fill="rgb(106,106,106)"/>
<rect x="368.08" y="87.30" width="0.81" height="9.10" fill="rgb(185,185,185)"/>
<rect x="368.86" y="87.30" width="0.81" height="9.10" fill="rgb(104,104,104)"/>
<rect x="369.64" y="87.30" width="0.81" height="9.10" fill="rgb(187,187,187)"/>
<rect x="370.42" y="87.30" width="0.81" height="9.10" fill="rgb(90,90,90)"/>
<rect x="371.20" y="87.30" width="0.76" height="9.10" fill="rgb(22,22,22)"/>
<rect x="371.93" y="87.30" width="0.76" height="9.10" fill="rgb(124,124,124)"/>
<rect x="372.67" y="87.30" width="0.76" height="9.10" fill="rgb(18,18,18)"/>
<rect x="373.40" y="87.30" width="0.93" height="9.10" fill="rgb(105,105,105)"/>
<rect x="374.30" y="87.30" width="0.93" height="9.10" fill="rgb(196,196,196)"/>
<rect x="375.20" y="87.30" width="1.23" height="9.10" fill="rgb(25,25,25)"/>
<rect x="306.40" y="96.40" width="4.25" height="3.70" fill="#d4502e"/>
<rect x="310.60" y="96.40" width="8.45" height="3.70" fill="#eaa58f"/>
<rect x="319.00" y="96.40" width="11.95" height="3.70" fill="#f6ddd2"/>
<rect x="330.90" y="96.40" width="18.95" height="3.70" fill="#eef0f8"/>
<rect x="349.80" y="96.40" width="12.65" height="3.70" fill="#c9d9ee"/>
<rect x="362.40" y="96.40" width="14.05" height="3.70" fill="#6a98d0"/>
<path d="M306.60,60.50 C306.75,59.75 307.10,57.03 307.50,56.00 C307.90,54.97 308.42,54.55 309.00,54.30 C309.58,54.05 310.35,54.33 311.00,54.50 C311.65,54.67 311.42,54.67 312.90,55.30 C314.38,55.93 316.43,56.57 319.90,58.30 C323.37,60.03 329.08,63.27 333.70,65.70 C338.32,68.13 342.98,70.55 347.60,72.90 C352.22,75.25 358.18,78.02 361.40,79.80 C364.62,81.58 365.28,82.68 366.90,83.60 C368.52,84.52 370.05,85.23 371.10,85.30 C372.15,85.37 372.62,84.47 373.20,84.00 C373.78,83.53 374.15,83.33 374.60,82.50 C375.05,81.67 375.62,80.08 375.90,79.00 C376.18,77.92 376.23,76.50 376.30,76.00" stroke="#74b852" fill="none" stroke-width="0.85"/>
<path d="M307,101.5 L376,102.5" stroke="#c8c8c8" fill="none" stroke-width="0.6"/>
<rect x="306.40" y="52.40" width="70.00" height="69.00" fill="none" stroke="#000" stroke-width="1.0"/>
<path d="M303.40,60.40H306.40M303.40,69.00H306.40M303.40,77.60H306.40M303.40,86.40H306.40M303.40,100.40H306.40M303.40,104.30H306.40M303.40,107.50H306.40M303.40,111.40H306.40M303.40,114.60H306.40M303.40,118.30H306.40M323.40,121.40V124.40M340.40,121.40V124.40M357.50,121.40V124.40M374.50,121.40V124.40" stroke="#111" fill="none" stroke-width="0.85"/>
<text x="301.00" y="61.95" font-size="4.50" text-anchor="end" fill="#2a2a2a" stroke="#2a2a2a" stroke-width="0.04">0.2</text>
<text x="301.00" y="70.55" font-size="4.50" text-anchor="end" fill="#2a2a2a" stroke="#2a2a2a" stroke-width="0.04">0.0</text>
<text x="301.00" y="79.15" font-size="4.50" text-anchor="end" fill="#2a2a2a" stroke="#2a2a2a" stroke-width="0.04">−0.2</text>
<text x="301.00" y="87.95" font-size="4.50" text-anchor="end" fill="#2a2a2a" stroke="#2a2a2a" stroke-width="0.04">−0.4</text>
<text x="300.80" y="101.74" font-size="3.90" text-anchor="end" fill="#444" stroke="#444" stroke-width="0.05">30</text>
<text x="300.80" y="105.64" font-size="3.90" text-anchor="end" fill="#444" stroke="#444" stroke-width="0.05">−100</text>
<text x="300.80" y="108.84" font-size="3.90" text-anchor="end" fill="#444" stroke="#444" stroke-width="0.05">−200</text>
<text x="300.80" y="112.74" font-size="3.90" text-anchor="end" fill="#444" stroke="#444" stroke-width="0.05">−300</text>
<text x="300.80" y="115.94" font-size="3.90" text-anchor="end" fill="#444" stroke="#444" stroke-width="0.05">−400</text>
<text x="300.80" y="119.64" font-size="3.90" text-anchor="end" fill="#444" stroke="#444" stroke-width="0.05">−500</text>
<text x="322.90" y="131.69" font-size="4.90" text-anchor="middle" fill="#1a1a1a" textLength="9.40" lengthAdjust="spacingAndGlyphs" stroke="#1a1a1a" stroke-width="0.06">2000</text>
<text x="339.90" y="131.69" font-size="4.90" text-anchor="middle" fill="#1a1a1a" textLength="9.40" lengthAdjust="spacingAndGlyphs" stroke="#1a1a1a" stroke-width="0.06">4000</text>
<text x="357.00" y="131.69" font-size="4.90" text-anchor="middle" fill="#1a1a1a" textLength="9.40" lengthAdjust="spacingAndGlyphs" stroke="#1a1a1a" stroke-width="0.06">6000</text>
<text x="374.00" y="131.69" font-size="4.90" text-anchor="middle" fill="#1a1a1a" textLength="9.40" lengthAdjust="spacingAndGlyphs" stroke="#1a1a1a" stroke-width="0.06">8000</text>
<text x="330.70" y="110.74" font-size="6.80" text-anchor="middle" fill="#111" textLength="22.30" lengthAdjust="spacingAndGlyphs" stroke="#111" stroke-width="0.08">anti-IL-2</text>
<text x="330.70" y="118.64" font-size="6.80" text-anchor="middle" fill="#111" textLength="34.80" lengthAdjust="spacingAndGlyphs" stroke="#111" stroke-width="0.08">(JES6-1A12)</text>
<text x="368.10" y="118.94" font-size="6.80" text-anchor="middle" fill="#111" textLength="10.20" lengthAdjust="spacingAndGlyphs" stroke="#111" stroke-width="0.08">IgG</text>
<text x="340.70" y="141.41" font-size="7.00" text-anchor="middle" fill="#111" textLength="60.90" lengthAdjust="spacingAndGlyphs" stroke="#111" stroke-width="0.08">Rank in ordered dataset</text>
<text transform="translate(266.50,73.60) rotate(-90)" x="0" y="2.20" font-size="6.40" text-anchor="middle" fill="#111" textLength="22.30" lengthAdjust="spacingAndGlyphs" stroke="#111" stroke-width="0.08">Running</text>
<text transform="translate(275.70,73.80) rotate(-90)" x="0" y="2.20" font-size="6.40" text-anchor="middle" fill="#111" textLength="30.00" lengthAdjust="spacingAndGlyphs" stroke="#111" stroke-width="0.08">enrichment</text>
<text transform="translate(284.90,73.60) rotate(-90)" x="0" y="2.20" font-size="6.40" text-anchor="middle" fill="#111" textLength="13.50" lengthAdjust="spacingAndGlyphs" stroke="#111" stroke-width="0.08">score</text>
<text transform="translate(273.70,109.40) rotate(-90)" x="0" y="2.20" font-size="6.40" text-anchor="middle" fill="#111" textLength="19.20" lengthAdjust="spacingAndGlyphs" stroke="#111" stroke-width="0.08">Ranked</text>
<text transform="translate(282.90,109.20) rotate(-90)" x="0" y="2.20" font-size="6.40" text-anchor="middle" fill="#111" textLength="25.20" lengthAdjust="spacingAndGlyphs" stroke="#111" stroke-width="0.08">list metric</text>
<text x="470.10" y="46.78" font-size="4.60" text-anchor="middle" fill="#111" textLength="85.90" lengthAdjust="spacingAndGlyphs" stroke="#111" stroke-width="0.06">HALLMARK_IL2_STAT5_SIGNALING</text>
<line x1="437.00" y1="38.10" x2="503.00" y2="38.10" stroke="#1a1a1a" stroke-width="1.15"/>
<text x="470.00" y="33.54" font-size="6.50" text-anchor="middle" fill="#111" textLength="16.30" lengthAdjust="spacingAndGlyphs" stroke="#111" stroke-width="0.08">Colon</text>
<rect x="435.10" y="87.30" width="3.53" height="9.10" fill="rgb(38,38,38)"/>
<rect x="438.60" y="87.30" width="1.83" height="9.10" fill="rgb(242,242,242)"/>
<rect x="440.40" y="87.30" width="2.53" height="9.10" fill="rgb(38,38,38)"/>
<rect x="442.90" y="87.30" width="1.83" height="9.10" fill="rgb(242,242,242)"/>
<rect x="444.70" y="87.30" width="0.86" height="9.10" fill="rgb(33,33,33)"/>
<rect x="445.53" y="87.30" width="0.86" height="9.10" fill="rgb(101,101,101)"/>
<rect x="446.37" y="87.30" width="0.86" height="9.10" fill="rgb(11,11,11)"/>
<rect x="447.20" y="87.30" width="1.43" height="9.10" fill="rgb(242,242,242)"/>
<rect x="448.60" y="87.30" width="1.43" height="9.10" fill="rgb(178,178,178)"/>
<rect x="450.00" y="87.30" width="1.43" height="9.10" fill="rgb(242,242,242)"/>
<rect x="451.40" y="87.30" width="0.76" height="9.10" fill="rgb(63,63,63)"/>
<rect x="452.13" y="87.30" width="0.76" height="9.10" fill="rgb(182,182,182)"/>
<rect x="452.87" y="87.30" width="0.76" height="9.10" fill="rgb(91,91,91)"/>
<rect x="453.60" y="87.30" width="3.23" height="9.10" fill="rgb(204,204,204)"/>
<rect x="456.80" y="87.30" width="0.83" height="9.10" fill="rgb(33,33,33)"/>
<rect x="457.60" y="87.30" width="0.83" height="9.10" fill="rgb(128,128,128)"/>
<rect x="458.40" y="87.30" width="0.83" height="9.10" fill="rgb(51,51,51)"/>
<rect x="459.20" y="87.30" width="0.83" height="9.10" fill="rgb(127,127,127)"/>
<rect x="460.00" y="87.30" width="1.43" height="9.10" fill="rgb(242,242,242)"/>
<rect x="461.40" y="87.30" width="1.13" height="9.10" fill="rgb(204,204,204)"/>
<rect x="462.50" y="87.30" width="1.43" height="9.10" fill="rgb(242,242,242)"/>
<rect x="463.90" y="87.30" width="0.74" height="9.10" fill="rgb(111,111,111)"/>
<rect x="464.61" y="87.30" width="0.74" height="9.10" fill="rgb(187,187,187)"/>
<rect x="465.33" y="87.30" width="0.74" height="9.10" fill="rgb(122,122,122)"/>
<rect x="466.04" y="87.30" width="0.74" height="9.10" fill="rgb(210,210,210)"/>
<rect x="466.76" y="87.30" width="0.74" height="9.10" fill="rgb(90,90,90)"/>
<rect x="467.47" y="87.30" width="0.74" height="9.10" fill="rgb(204,204,204)"/>
<rect x="468.19" y="87.30" width="0.74" height="9.10" fill="rgb(116,116,116)"/>
<rect x="468.90" y="87.30" width="2.23" height="9.10" fill="rgb(242,242,242)"/>
<rect x="471.10" y="87.30" width="1.08" height="9.10" fill="rgb(30,30,30)"/>
<rect x="472.15" y="87.30" width="1.08" height="9.10" fill="rgb(129,129,129)"/>
<rect x="473.20" y="87.30" width="1.83" height="9.10" fill="rgb(242,242,242)"/>
<rect x="475.00" y="87.30" width="0.75" height="9.10" fill="rgb(108,108,108)"/>
<rect x="475.72" y="87.30" width="0.75" height="9.10" fill="rgb(184,184,184)"/>
<rect x="476.43" y="87.30" width="0.75" height="9.10" fill="rgb(87,87,87)"/>
<rect x="477.15" y="87.30" width="0.75" height="9.10" fill="rgb(199,199,199)"/>
<rect x="477.87" y="87.30" width="0.75" height="9.10" fill="rgb(88,88,88)"/>
<rect x="478.58" y="87.30" width="0.75" height="9.10" fill="rgb(201,201,201)"/>
<rect x="479.30" y="87.30" width="0.83" height="9.10" fill="rgb(49,49,49)"/>
<rect x="480.10" y="87.30" width="0.83" height="9.10" fill="rgb(152,152,152)"/>
<rect x="480.90" y="87.30" width="0.83" height="9.10" fill="rgb(55,55,55)"/>
<rect x="481.70" y="87.30" width="1.53" height="9.10" fill="rgb(242,242,242)"/>
<rect x="483.20" y="87.30" width="3.53" height="9.10" fill="rgb(204,204,204)"/>
<rect x="486.70" y="87.30" width="1.13" height="9.10" fill="rgb(102,102,102)"/>
<rect x="487.80" y="87.30" width="1.83" height="9.10" fill="rgb(242,242,242)"/>
<rect x="489.60" y="87.30" width="0.74" height="9.10" fill="rgb(74,74,74)"/>
<rect x="490.31" y="87.30" width="0.74" height="9.10" fill="rgb(190,190,190)"/>
<rect x="491.03" y="87.30" width="0.74" height="9.10" fill="rgb(74,74,74)"/>
<rect x="491.74" y="87.30" width="0.74" height="9.10" fill="rgb(188,188,188)"/>
<rect x="492.46" y="87.30" width="0.74" height="9.10" fill="rgb(89,89,89)"/>
<rect x="493.17" y="87.30" width="0.74" height="9.10" fill="rgb(170,170,170)"/>
<rect x="493.89" y="87.30" width="0.74" height="9.10" fill="rgb(86,86,86)"/>
<rect x="494.60" y="87.30" width="0.83" height="9.10" fill="rgb(33,33,33)"/>
<rect x="495.40" y="87.30" width="0.83" height="9.10" fill="rgb(106,106,106)"/>
<rect x="496.20" y="87.30" width="0.83" height="9.10" fill="rgb(12,12,12)"/>
<rect x="497.00" y="87.30" width="1.13" height="9.10" fill="rgb(204,204,204)"/>
<rect x="498.10" y="87.30" width="0.93" height="9.10" fill="rgb(94,94,94)"/>
<rect x="499.00" y="87.30" width="0.93" height="9.10" fill="rgb(189,189,189)"/>
<rect x="499.90" y="87.30" width="0.73" height="9.10" fill="rgb(15,15,15)"/>
<rect x="500.60" y="87.30" width="0.73" height="9.10" fill="rgb(121,121,121)"/>
<rect x="501.30" y="87.30" width="0.73" height="9.10" fill="rgb(43,43,43)"/>
<rect x="502.00" y="87.30" width="0.73" height="9.10" fill="rgb(124,124,124)"/>
<rect x="502.70" y="87.30" width="2.28" height="9.10" fill="rgb(25,25,25)"/>
<rect x="435.10" y="96.40" width="8.43" height="3.70" fill="#d4502e"/>
<rect x="443.48" y="96.40" width="14.02" height="3.70" fill="#eba592"/>
<rect x="457.45" y="96.40" width="14.72" height="3.70" fill="#f6ddd2"/>
<rect x="472.12" y="96.40" width="17.51" height="3.70" fill="#eef0f8"/>
<rect x="489.58" y="96.40" width="8.43" height="3.70" fill="#c9d9ee"/>
<rect x="497.96" y="96.40" width="7.03" height="3.70" fill="#5d8fcc"/>
<path d="M435.40,57.60 C435.55,57.20 435.95,55.78 436.30,55.20 C436.65,54.62 437.08,54.32 437.50,54.10 C437.92,53.88 438.00,53.78 438.80,53.90 C439.60,54.02 440.78,54.18 442.30,54.80 C443.82,55.42 444.67,55.75 447.90,57.60 C451.13,59.45 457.08,63.25 461.70,65.90 C466.32,68.55 470.98,71.03 475.60,73.50 C480.22,75.97 485.95,78.97 489.40,80.70 C492.85,82.43 494.45,83.20 496.30,83.90 C498.15,84.60 499.45,85.02 500.50,84.90 C501.55,84.78 501.92,84.28 502.60,83.20 C503.28,82.12 504.27,79.20 504.60,78.40" stroke="#74b852" fill="none" stroke-width="0.85"/>
<circle cx="499.90" cy="78.70" r="1.25" fill="#c82a52"/>
<path d="M436,106 L504,106.8" stroke="#c8c8c8" fill="none" stroke-width="0.6"/>
<rect x="435.10" y="52.40" width="69.85" height="69.00" fill="none" stroke="#000" stroke-width="1.0"/>
<path d="M432.10,54.90H435.10M432.10,65.70H435.10M432.10,76.30H435.10M432.10,86.90H435.10M432.10,100.80H435.10M432.10,106.30H435.10M432.10,111.80H435.10M432.10,117.40H435.10M452.50,121.40V124.40M469.40,121.40V124.40M486.80,121.40V124.40M504.00,121.40V124.40" stroke="#111" fill="none" stroke-width="0.85"/>
<text x="429.70" y="56.45" font-size="4.50" text-anchor="end" fill="#2a2a2a" stroke="#2a2a2a" stroke-width="0.04">0.25</text>
<text x="429.70" y="67.25" font-size="4.50" text-anchor="end" fill="#2a2a2a" stroke="#2a2a2a" stroke-width="0.04">0.00</text>
<text x="429.70" y="77.85" font-size="4.50" text-anchor="end" fill="#2a2a2a" stroke="#2a2a2a" stroke-width="0.04">−0.25</text>
<text x="429.70" y="88.45" font-size="4.50" text-anchor="end" fill="#2a2a2a" stroke="#2a2a2a" stroke-width="0.04">−0.50</text>
<text x="429.70" y="102.35" font-size="4.50" text-anchor="end" fill="#2a2a2a" stroke="#2a2a2a" stroke-width="0.04">20</text>
<text x="429.70" y="107.85" font-size="4.50" text-anchor="end" fill="#2a2a2a" stroke="#2a2a2a" stroke-width="0.04">0</text>
<text x="429.70" y="113.35" font-size="4.50" text-anchor="end" fill="#2a2a2a" stroke="#2a2a2a" stroke-width="0.04">−20</text>
<text x="429.70" y="118.95" font-size="4.50" text-anchor="end" fill="#2a2a2a" stroke="#2a2a2a" stroke-width="0.04">−40</text>
<text x="452.00" y="131.69" font-size="4.90" text-anchor="middle" fill="#1a1a1a" textLength="9.40" lengthAdjust="spacingAndGlyphs" stroke="#1a1a1a" stroke-width="0.06">2000</text>
<text x="468.90" y="131.69" font-size="4.90" text-anchor="middle" fill="#1a1a1a" textLength="9.40" lengthAdjust="spacingAndGlyphs" stroke="#1a1a1a" stroke-width="0.06">4000</text>
<text x="486.30" y="131.69" font-size="4.90" text-anchor="middle" fill="#1a1a1a" textLength="9.40" lengthAdjust="spacingAndGlyphs" stroke="#1a1a1a" stroke-width="0.06">6000</text>
<text x="503.50" y="131.69" font-size="4.90" text-anchor="middle" fill="#1a1a1a" textLength="9.40" lengthAdjust="spacingAndGlyphs" stroke="#1a1a1a" stroke-width="0.06">8000</text>
<text x="459.80" y="110.74" font-size="6.80" text-anchor="middle" fill="#111" textLength="22.30" lengthAdjust="spacingAndGlyphs" stroke="#111" stroke-width="0.08">anti-IL-2</text>
<text x="459.80" y="118.64" font-size="6.80" text-anchor="middle" fill="#111" textLength="34.80" lengthAdjust="spacingAndGlyphs" stroke="#111" stroke-width="0.08">(JES6-1A12)</text>
<text x="496.80" y="118.94" font-size="6.80" text-anchor="middle" fill="#111" textLength="10.20" lengthAdjust="spacingAndGlyphs" stroke="#111" stroke-width="0.08">IgG</text>
<text x="469.80" y="141.41" font-size="7.00" text-anchor="middle" fill="#111" textLength="60.90" lengthAdjust="spacingAndGlyphs" stroke="#111" stroke-width="0.08">Rank in ordered dataset</text>
<text transform="translate(393.20,70.80) rotate(-90)" x="0" y="2.20" font-size="6.40" text-anchor="middle" fill="#111" textLength="22.30" lengthAdjust="spacingAndGlyphs" stroke="#111" stroke-width="0.08">Running</text>
<text transform="translate(402.40,71.00) rotate(-90)" x="0" y="2.20" font-size="6.40" text-anchor="middle" fill="#111" textLength="30.00" lengthAdjust="spacingAndGlyphs" stroke="#111" stroke-width="0.08">enrichment</text>
<text transform="translate(411.60,70.80) rotate(-90)" x="0" y="2.20" font-size="6.40" text-anchor="middle" fill="#111" textLength="13.50" lengthAdjust="spacingAndGlyphs" stroke="#111" stroke-width="0.08">score</text>
<text transform="translate(405.70,109.40) rotate(-90)" x="0" y="2.20" font-size="6.40" text-anchor="middle" fill="#111" textLength="19.20" lengthAdjust="spacingAndGlyphs" stroke="#111" stroke-width="0.08">Ranked</text>
<text transform="translate(414.90,109.20) rotate(-90)" x="0" y="2.20" font-size="6.40" text-anchor="middle" fill="#111" textLength="25.20" lengthAdjust="spacingAndGlyphs" stroke="#111" stroke-width="0.08">list metric</text>
<text x="7.10" y="167.61" font-size="11.2" font-weight="bold" fill="#000" textLength="7.3" lengthAdjust="spacingAndGlyphs">B</text>
<text x="273.20" y="167.96" font-size="12.0" font-weight="bold" fill="#000" textLength="8.1" lengthAdjust="spacingAndGlyphs">C</text>
<text x="6.90" y="377.41" font-size="11.2" font-weight="bold" fill="#000" textLength="7.4" lengthAdjust="spacingAndGlyphs">D</text>
<text x="273.20" y="377.71" font-size="11.2" font-weight="bold" fill="#000" textLength="6.9" lengthAdjust="spacingAndGlyphs">E</text>
<line x1="54.60" y1="176.60" x2="62.60" y2="176.60" stroke="#c0123c" stroke-width="1.25" stroke-opacity="0.85"/>
<circle cx="67.30" cy="176.60" r="1.15" fill="#b3103a"/>
<text x="71.20" y="178.22" font-size="4.70" fill="#2a2a2a" textLength="30.30" lengthAdjust="spacingAndGlyphs" stroke="#2a2a2a" stroke-width="0.05">WT  Rec-IgG</text>
<line x1="118.50" y1="176.60" x2="126.50" y2="176.60" stroke="#5aa2e4" stroke-width="1.25" stroke-opacity="0.85"/>
<circle cx="131.40" cy="176.60" r="1.15" fill="#5a9ee0"/>
<text x="135.30" y="178.22" font-size="4.70" fill="#2a2a2a" textLength="69.70" lengthAdjust="spacingAndGlyphs" stroke="#2a2a2a" stroke-width="0.05">WT Rec-anti-IL-2 (JES6-1A12)</text>
<line x1="306.60" y1="176.60" x2="314.60" y2="176.60" stroke="#c0123c" stroke-width="1.25" stroke-opacity="0.85"/>
<circle cx="320.10" cy="176.60" r="1.15" fill="#b3103a"/>
<text x="324.00" y="178.22" font-size="4.70" fill="#2a2a2a" textLength="28.90" lengthAdjust="spacingAndGlyphs" stroke="#2a2a2a" stroke-width="0.05">WT Rec-IgG</text>
<line x1="369.20" y1="176.60" x2="377.20" y2="176.60" stroke="#7cc350" stroke-width="1.25" stroke-opacity="0.85"/>
<circle cx="383.20" cy="176.60" r="1.15" fill="#62b040"/>
<text x="387.10" y="178.22" font-size="4.70" fill="#2a2a2a" textLength="56.90" lengthAdjust="spacingAndGlyphs" stroke="#2a2a2a" stroke-width="0.05">WT Rec-anti-IL-2 (S4B6)</text>
<line x1="54.60" y1="382.30" x2="62.60" y2="382.30" stroke="#5b3a8a" stroke-width="1.25" stroke-opacity="0.85"/>
<circle cx="65.80" cy="382.30" r="1.15" fill="#3d1a6a"/>
<text x="69.70" y="383.92" font-size="4.70" fill="#2a2a2a" textLength="38.40" lengthAdjust="spacingAndGlyphs" stroke="#2a2a2a" stroke-width="0.05">PD-L1<tspan font-size="2.9" dy="-1.6">−/−</tspan><tspan dy="1.6"> Rec-IgG</tspan></text>
<line x1="131.40" y1="382.30" x2="139.40" y2="382.30" stroke="#e09a2a" stroke-width="1.25" stroke-opacity="0.85"/>
<circle cx="144.20" cy="382.30" r="1.15" fill="#e0982a"/>
<text x="148.10" y="383.92" font-size="4.70" fill="#2a2a2a" textLength="78.50" lengthAdjust="spacingAndGlyphs" stroke="#2a2a2a" stroke-width="0.05">PD-L1<tspan font-size="2.9" dy="-1.6">−/−</tspan><tspan dy="1.6"> Rec-anti-IL-2 (JES6-1A12)</tspan></text>
<line x1="306.40" y1="381.80" x2="314.40" y2="381.80" stroke="#2f4f9c" stroke-width="1.25" stroke-opacity="0.85"/>
<circle cx="321.30" cy="381.80" r="1.15" fill="#2a4a9a"/>
<text x="325.20" y="383.42" font-size="4.70" fill="#2a2a2a" textLength="41.00" lengthAdjust="spacingAndGlyphs" stroke="#2a2a2a" stroke-width="0.05">WT Rec-anti-IL-2</text>
<text x="325.20" y="389.82" font-size="4.70" fill="#2a2a2a" textLength="26.50" lengthAdjust="spacingAndGlyphs" stroke="#2a2a2a" stroke-width="0.05">(JES6-1A12)</text>
<line x1="383.90" y1="381.80" x2="391.90" y2="381.80" stroke="#e09a2a" stroke-width="1.25" stroke-opacity="0.85"/>
<circle cx="397.60" cy="381.80" r="1.15" fill="#e0982a"/>
<text x="401.50" y="383.42" font-size="4.70" fill="#2a2a2a" textLength="48.70" lengthAdjust="spacingAndGlyphs" stroke="#2a2a2a" stroke-width="0.05">PD-L1<tspan font-size="2.9" dy="-1.6">−/−</tspan><tspan dy="1.6"> Rec-anti-IL-2</tspan></text>
<text x="401.50" y="389.82" font-size="4.70" fill="#2a2a2a" textLength="27.10" lengthAdjust="spacingAndGlyphs" stroke="#2a2a2a" stroke-width="0.05">(JES6-1A12)</text>
<path d="M49.40,244.05 L49.68,244.00 L49.96,243.93 L50.24,243.80 L50.52,243.58 L50.81,243.23 L51.09,242.67 L51.37,241.80 L51.65,240.51 L51.93,238.65 L52.21,236.04 L52.49,232.52 L52.77,227.96 L53.06,222.35 L53.34,215.80 L53.62,208.68 L53.90,201.70 L54.18,195.97 L54.46,193.87 L54.74,196.20 L55.02,199.96 L55.31,204.46 L55.59,209.29 L55.87,214.14 L56.15,218.78 L56.43,223.07 L56.71,226.91 L56.99,230.26 L57.27,233.12 L57.56,235.51 L57.84,237.47 L58.12,239.05 L58.40,240.30 L58.68,241.27 L58.96,242.02 L59.24,242.59 L59.52,243.02 L59.81,243.33 L60.09,243.56 L60.37,243.73 L60.65,243.84 L60.93,243.93 L61.21,243.98 L61.49,244.02 L61.77,244.05" stroke="#5aa2e4" fill="none" stroke-width="0.95" stroke-linejoin="round"/>
<path d="M49.42,244.05 L49.72,244.01 L50.02,243.93 L50.31,243.81 L50.61,243.61 L50.90,243.28 L51.20,242.77 L51.49,241.99 L51.79,240.82 L52.08,239.13 L52.38,236.78 L52.67,233.60 L52.97,229.46 L53.27,224.32 L53.56,218.23 L53.86,211.47 L54.15,204.57 L54.45,198.40 L54.74,194.44 L55.04,195.53 L55.33,198.85 L55.63,203.16 L55.92,207.94 L56.22,212.84 L56.52,217.59 L56.81,222.03 L57.11,226.03 L57.40,229.54 L57.70,232.54 L57.99,235.06 L58.29,237.13 L58.58,238.80 L58.88,240.12 L59.17,241.15 L59.47,241.94 L59.77,242.54 L60.06,242.98 L60.36,243.31 L60.65,243.55 L60.95,243.72 L61.24,243.84 L61.54,243.92 L61.83,243.98 L62.13,244.02 L62.42,244.05" stroke="#c0123c" fill="none" stroke-width="0.95" stroke-linejoin="round"/>
<rect x="32.00" y="191.70" width="53.40" height="52.90" fill="none" stroke="#000" stroke-width="1.1"/>
<text x="26.60" y="245.82" font-size="5.00" text-anchor="end" fill="#1a1a1a" textLength="2.80" lengthAdjust="spacingAndGlyphs" stroke="#1a1a1a" stroke-width="0.06">0</text>
<text x="26.60" y="235.74" font-size="5.00" text-anchor="end" fill="#1a1a1a" textLength="5.60" lengthAdjust="spacingAndGlyphs" stroke="#1a1a1a" stroke-width="0.06">20</text>
<text x="26.60" y="225.66" font-size="5.00" text-anchor="end" fill="#1a1a1a" textLength="5.60" lengthAdjust="spacingAndGlyphs" stroke="#1a1a1a" stroke-width="0.06">40</text>
<text x="26.60" y="215.58" font-size="5.00" text-anchor="end" fill="#1a1a1a" textLength="5.60" lengthAdjust="spacingAndGlyphs" stroke="#1a1a1a" stroke-width="0.06">60</text>
<text x="26.60" y="205.50" font-size="5.00" text-anchor="end" fill="#1a1a1a" textLength="5.60" lengthAdjust="spacingAndGlyphs" stroke="#1a1a1a" stroke-width="0.06">80</text>
<text x="26.60" y="195.42" font-size="5.00" text-anchor="end" fill="#1a1a1a" textLength="8.30" lengthAdjust="spacingAndGlyphs" stroke="#1a1a1a" stroke-width="0.06">100</text>
<rect x="46.42" y="244.60" width="4.27" height="1.50" fill="#000"/>
<path d="M29.70,244.10H32.00M29.70,234.02H32.00M29.70,223.94H32.00M29.70,213.86H32.00M29.70,203.78H32.00M29.70,193.70H32.00M34.94,244.60V246.50M48.55,244.60V246.50M61.37,244.60V246.50M73.39,244.60V246.50M84.33,244.60V246.50" stroke="#000" fill="none" stroke-width="0.9"/>
<path d="M30.70,242.08H32.00M30.70,240.07H32.00M30.70,238.05H32.00M30.70,236.04H32.00M30.70,232.00H32.00M30.70,229.99H32.00M30.70,227.97H32.00M30.70,225.96H32.00M30.70,221.92H32.00M30.70,219.91H32.00M30.70,217.89H32.00M30.70,215.88H32.00M30.70,211.84H32.00M30.70,209.83H32.00M30.70,207.81H32.00M30.70,205.80H32.00M30.70,201.76H32.00M30.70,199.75H32.00M30.70,197.73H32.00M30.70,195.72H32.00M64.99,244.60V245.80M67.10,244.60V245.80M68.60,244.60V245.80M69.77,244.60V245.80M70.72,244.60V245.80M71.52,244.60V245.80M72.22,244.60V245.80M72.84,244.60V245.80M76.68,244.60V245.80M78.61,244.60V245.80M79.98,244.60V245.80M81.04,244.60V245.80M81.90,244.60V245.80M82.64,244.60V245.80M83.27,244.60V245.80M83.83,244.60V245.80M44.45,244.60V245.80M42.06,244.60V245.80M40.36,244.60V245.80M39.04,244.60V245.80M37.96,244.60V245.80M37.05,244.60V245.80M36.26,244.60V245.80M35.56,244.60V245.80M52.41,244.60V245.80M54.67,244.60V245.80M56.27,244.60V245.80M57.51,244.60V245.80M58.53,244.60V245.80M59.38,244.60V245.80M60.13,244.60V245.80M60.78,244.60V245.80" stroke="#111" fill="none" stroke-width="0.55"/>
<text x="31.04" y="255.45" font-size="4.8" fill="#1a1a1a" stroke="#1a1a1a" stroke-width="0.12">-10<tspan font-size="2.9" dy="-1.7">4</tspan></text>
<text x="48.55" y="255.45" font-size="4.80" text-anchor="middle" fill="#1a1a1a" stroke="#1a1a1a" stroke-width="0.06">0</text>
<text x="58.22" y="255.45" font-size="4.8" fill="#1a1a1a" stroke="#1a1a1a" stroke-width="0.12">10<tspan font-size="2.9" dy="-1.7">4</tspan></text>
<text x="70.23" y="255.45" font-size="4.8" fill="#1a1a1a" stroke="#1a1a1a" stroke-width="0.12">10<tspan font-size="2.9" dy="-1.7">5</tspan></text>
<text x="81.08" y="255.45" font-size="4.8" fill="#1a1a1a" stroke="#1a1a1a" stroke-width="0.12">10<tspan font-size="2.9" dy="-1.7">6</tspan></text>
<text x="58.70" y="188.91" font-size="7.00" text-anchor="middle" fill="#111" textLength="12.00" lengthAdjust="spacingAndGlyphs" stroke="#111" stroke-width="0.08">SPL</text>
<path d="M129.65,244.06 L129.97,244.03 L130.30,243.98 L130.62,243.90 L130.95,243.77 L131.27,243.57 L131.59,243.25 L131.92,242.78 L132.24,242.08 L132.56,241.07 L132.89,239.68 L133.21,237.78 L133.54,235.30 L133.86,232.17 L134.18,228.36 L134.51,223.95 L134.83,219.11 L135.16,214.22 L135.48,209.84 L135.80,206.88 L136.13,207.41 L136.45,209.96 L136.78,213.34 L137.10,217.11 L137.42,220.96 L137.75,224.67 L138.07,228.10 L138.39,231.17 L138.72,233.82 L139.04,236.07 L139.37,237.92 L139.69,239.41 L140.01,240.60 L140.34,241.52 L140.66,242.23 L140.99,242.76 L141.31,243.15 L141.63,243.44 L141.96,243.64 L142.28,243.79 L142.60,243.89 L142.93,243.96 L143.25,244.01 L143.58,244.04 L143.90,244.06" stroke="#5aa2e4" fill="none" stroke-width="0.95" stroke-linejoin="round"/>
<path d="M130.93,244.06 L131.29,244.04 L131.65,244.00 L132.02,243.95 L132.38,243.87 L132.74,243.76 L133.11,243.59 L133.47,243.37 L133.83,243.04 L134.20,242.60 L134.56,242.01 L134.93,241.22 L135.29,240.18 L135.65,238.84 L136.02,237.15 L136.38,235.07 L136.74,232.55 L137.11,229.57 L137.47,226.15 L137.83,222.34 L138.20,218.25 L138.56,214.07 L138.93,210.05 L139.29,206.56 L139.65,204.17 L140.02,204.80 L140.38,208.49 L140.74,213.34 L141.11,218.54 L141.47,223.58 L141.83,228.12 L142.20,232.01 L142.56,235.19 L142.93,237.70 L143.29,239.61 L143.65,241.02 L144.02,242.03 L144.38,242.74 L144.74,243.23 L145.11,243.55 L145.47,243.76 L145.83,243.89 L146.20,243.98 L146.56,244.03 L146.93,244.06" stroke="#c0123c" fill="none" stroke-width="0.95" stroke-linejoin="round"/>
<rect x="112.20" y="191.70" width="53.40" height="52.90" fill="none" stroke="#000" stroke-width="1.1"/>
<text x="106.80" y="245.82" font-size="5.00" text-anchor="end" fill="#1a1a1a" textLength="2.80" lengthAdjust="spacingAndGlyphs" stroke="#1a1a1a" stroke-width="0.06">0</text>
<text x="106.80" y="235.74" font-size="5.00" text-anchor="end" fill="#1a1a1a" textLength="5.60" lengthAdjust="spacingAndGlyphs" stroke="#1a1a1a" stroke-width="0.06">20</text>
<text x="106.80" y="225.66" font-size="5.00" text-anchor="end" fill="#1a1a1a" textLength="5.60" lengthAdjust="spacingAndGlyphs" stroke="#1a1a1a" stroke-width="0.06">40</text>
<text x="106.80" y="215.58" font-size="5.00" text-anchor="end" fill="#1a1a1a" textLength="5.60" lengthAdjust="spacingAndGlyphs" stroke="#1a1a1a" stroke-width="0.06">60</text>
<text x="106.80" y="205.50" font-size="5.00" text-anchor="end" fill="#1a1a1a" textLength="5.60" lengthAdjust="spacingAndGlyphs" stroke="#1a1a1a" stroke-width="0.06">80</text>
<text x="106.80" y="195.42" font-size="5.00" text-anchor="end" fill="#1a1a1a" textLength="8.30" lengthAdjust="spacingAndGlyphs" stroke="#1a1a1a" stroke-width="0.06">100</text>
<rect x="126.62" y="244.60" width="4.27" height="1.50" fill="#000"/>
<path d="M109.90,244.10H112.20M109.90,234.02H112.20M109.90,223.94H112.20M109.90,213.86H112.20M109.90,203.78H112.20M109.90,193.70H112.20M115.14,244.60V246.50M128.75,244.60V246.50M141.57,244.60V246.50M153.59,244.60V246.50M164.53,244.60V246.50" stroke="#000" fill="none" stroke-width="0.9"/>
<path d="M110.90,242.08H112.20M110.90,240.07H112.20M110.90,238.05H112.20M110.90,236.04H112.20M110.90,232.00H112.20M110.90,229.99H112.20M110.90,227.97H112.20M110.90,225.96H112.20M110.90,221.92H112.20M110.90,219.91H112.20M110.90,217.89H112.20M110.90,215.88H112.20M110.90,211.84H112.20M110.90,209.83H112.20M110.90,207.81H112.20M110.90,205.80H112.20M110.90,201.76H112.20M110.90,199.75H112.20M110.90,197.73H112.20M110.90,195.72H112.20M145.19,244.60V245.80M147.30,244.60V245.80M148.80,244.60V245.80M149.97,244.60V245.80M150.92,244.60V245.80M151.72,244.60V245.80M152.42,244.60V245.80M153.04,244.60V245.80M156.88,244.60V245.80M158.81,244.60V245.80M160.18,244.60V245.80M161.24,244.60V245.80M162.10,244.60V245.80M162.84,244.60V245.80M163.47,244.60V245.80M164.03,244.60V245.80M124.65,244.60V245.80M122.26,244.60V245.80M120.56,244.60V245.80M119.24,244.60V245.80M118.16,244.60V245.80M117.25,244.60V245.80M116.46,244.60V245.80M115.76,244.60V245.80M132.61,244.60V245.80M134.87,244.60V245.80M136.47,244.60V245.80M137.71,244.60V245.80M138.73,244.60V245.80M139.58,244.60V245.80M140.33,244.60V245.80M140.98,244.60V245.80" stroke="#111" fill="none" stroke-width="0.55"/>
<text x="111.24" y="255.45" font-size="4.8" fill="#1a1a1a" stroke="#1a1a1a" stroke-width="0.12">-10<tspan font-size="2.9" dy="-1.7">4</tspan></text>
<text x="128.75" y="255.45" font-size="4.80" text-anchor="middle" fill="#1a1a1a" stroke="#1a1a1a" stroke-width="0.06">0</text>
<text x="138.42" y="255.45" font-size="4.8" fill="#1a1a1a" stroke="#1a1a1a" stroke-width="0.12">10<tspan font-size="2.9" dy="-1.7">4</tspan></text>
<text x="150.44" y="255.45" font-size="4.8" fill="#1a1a1a" stroke="#1a1a1a" stroke-width="0.12">10<tspan font-size="2.9" dy="-1.7">5</tspan></text>
<text x="161.28" y="255.45" font-size="4.8" fill="#1a1a1a" stroke="#1a1a1a" stroke-width="0.12">10<tspan font-size="2.9" dy="-1.7">6</tspan></text>
<text x="138.90" y="188.91" font-size="7.00" text-anchor="middle" fill="#111" textLength="19.50" lengthAdjust="spacingAndGlyphs" stroke="#111" stroke-width="0.08">Colon</text>
<path d="M49.50,329.55 L49.77,329.51 L50.05,329.44 L50.32,329.32 L50.59,329.12 L50.86,328.80 L51.14,328.30 L51.41,327.54 L51.68,326.40 L51.95,324.77 L52.23,322.49 L52.50,319.40 L52.77,315.39 L53.05,310.38 L53.32,304.43 L53.59,297.77 L53.86,290.90 L54.14,284.62 L54.41,280.26 L54.68,280.69 L54.95,283.84 L55.23,288.08 L55.50,292.85 L55.77,297.77 L56.05,302.58 L56.32,307.08 L56.59,311.15 L56.86,314.73 L57.14,317.80 L57.41,320.37 L57.68,322.49 L57.95,324.19 L58.23,325.54 L58.50,326.59 L58.77,327.40 L59.05,328.01 L59.32,328.47 L59.59,328.80 L59.86,329.04 L60.14,329.21 L60.41,329.34 L60.68,329.42 L60.95,329.48 L61.23,329.52 L61.50,329.55" stroke="#5aa2e4" fill="none" stroke-width="0.95" stroke-linejoin="round"/>
<path d="M49.75,329.55 L50.04,329.51 L50.33,329.45 L50.62,329.35 L50.91,329.20 L51.20,328.95 L51.49,328.58 L51.78,328.02 L52.07,327.19 L52.36,326.02 L52.65,324.40 L52.94,322.20 L53.23,319.30 L53.52,315.63 L53.81,311.12 L54.10,305.81 L54.39,299.87 L54.68,293.64 L54.97,287.67 L55.26,282.81 L55.55,280.82 L55.84,283.24 L56.12,287.27 L56.41,292.10 L56.70,297.21 L56.99,302.26 L57.28,307.01 L57.57,311.29 L57.86,315.03 L58.15,318.21 L58.44,320.84 L58.73,322.97 L59.02,324.66 L59.31,325.97 L59.60,326.98 L59.89,327.73 L60.18,328.28 L60.47,328.69 L60.76,328.97 L61.05,329.18 L61.34,329.32 L61.63,329.41 L61.92,329.48 L62.21,329.52 L62.50,329.55" stroke="#c0123c" fill="none" stroke-width="0.95" stroke-linejoin="round"/>
<rect x="32.00" y="277.20" width="53.40" height="52.90" fill="none" stroke="#000" stroke-width="1.1"/>
<text x="26.60" y="331.32" font-size="5.00" text-anchor="end" fill="#1a1a1a" textLength="2.80" lengthAdjust="spacingAndGlyphs" stroke="#1a1a1a" stroke-width="0.06">0</text>
<text x="26.60" y="321.24" font-size="5.00" text-anchor="end" fill="#1a1a1a" textLength="5.60" lengthAdjust="spacingAndGlyphs" stroke="#1a1a1a" stroke-width="0.06">20</text>
<text x="26.60" y="311.16" font-size="5.00" text-anchor="end" fill="#1a1a1a" textLength="5.60" lengthAdjust="spacingAndGlyphs" stroke="#1a1a1a" stroke-width="0.06">40</text>
<text x="26.60" y="301.08" font-size="5.00" text-anchor="end" fill="#1a1a1a" textLength="5.60" lengthAdjust="spacingAndGlyphs" stroke="#1a1a1a" stroke-width="0.06">60</text>
<text x="26.60" y="291.00" font-size="5.00" text-anchor="end" fill="#1a1a1a" textLength="5.60" lengthAdjust="spacingAndGlyphs" stroke="#1a1a1a" stroke-width="0.06">80</text>
<text x="26.60" y="280.92" font-size="5.00" text-anchor="end" fill="#1a1a1a" textLength="8.30" lengthAdjust="spacingAndGlyphs" stroke="#1a1a1a" stroke-width="0.06">100</text>
<rect x="46.42" y="330.10" width="4.27" height="1.50" fill="#000"/>
<path d="M29.70,329.60H32.00M29.70,319.52H32.00M29.70,309.44H32.00M29.70,299.36H32.00M29.70,289.28H32.00M29.70,279.20H32.00M34.94,330.10V332.00M48.55,330.10V332.00M61.37,330.10V332.00M73.39,330.10V332.00M84.33,330.10V332.00" stroke="#000" fill="none" stroke-width="0.9"/>
<path d="M30.70,327.58H32.00M30.70,325.57H32.00M30.70,323.55H32.00M30.70,321.54H32.00M30.70,317.50H32.00M30.70,315.49H32.00M30.70,313.47H32.00M30.70,311.46H32.00M30.70,307.42H32.00M30.70,305.41H32.00M30.70,303.39H32.00M30.70,301.38H32.00M30.70,297.34H32.00M30.70,295.33H32.00M30.70,293.31H32.00M30.70,291.30H32.00M30.70,287.26H32.00M30.70,285.25H32.00M30.70,283.23H32.00M30.70,281.22H32.00M64.99,330.10V331.30M67.10,330.10V331.30M68.60,330.10V331.30M69.77,330.10V331.30M70.72,330.10V331.30M71.52,330.10V331.30M72.22,330.10V331.30M72.84,330.10V331.30M76.68,330.10V331.30M78.61,330.10V331.30M79.98,330.10V331.30M81.04,330.10V331.30M81.90,330.10V331.30M82.64,330.10V331.30M83.27,330.10V331.30M83.83,330.10V331.30M44.45,330.10V331.30M42.06,330.10V331.30M40.36,330.10V331.30M39.04,330.10V331.30M37.96,330.10V331.30M37.05,330.10V331.30M36.26,330.10V331.30M35.56,330.10V331.30M52.41,330.10V331.30M54.67,330.10V331.30M56.27,330.10V331.30M57.51,330.10V331.30M58.53,330.10V331.30M59.38,330.10V331.30M60.13,330.10V331.30M60.78,330.10V331.30" stroke="#111" fill="none" stroke-width="0.55"/>
<text x="31.04" y="340.95" font-size="4.8" fill="#1a1a1a" stroke="#1a1a1a" stroke-width="0.12">-10<tspan font-size="2.9" dy="-1.7">4</tspan></text>
<text x="48.55" y="340.95" font-size="4.80" text-anchor="middle" fill="#1a1a1a" stroke="#1a1a1a" stroke-width="0.06">0</text>
<text x="58.22" y="340.95" font-size="4.8" fill="#1a1a1a" stroke="#1a1a1a" stroke-width="0.12">10<tspan font-size="2.9" dy="-1.7">4</tspan></text>
<text x="70.23" y="340.95" font-size="4.8" fill="#1a1a1a" stroke="#1a1a1a" stroke-width="0.12">10<tspan font-size="2.9" dy="-1.7">5</tspan></text>
<text x="81.08" y="340.95" font-size="4.8" fill="#1a1a1a" stroke="#1a1a1a" stroke-width="0.12">10<tspan font-size="2.9" dy="-1.7">6</tspan></text>
<path d="M133.50,329.56 L133.82,329.53 L134.13,329.48 L134.45,329.40 L134.76,329.28 L135.08,329.10 L135.39,328.82 L135.71,328.40 L136.02,327.80 L136.34,326.95 L136.65,325.77 L136.97,324.17 L137.28,322.07 L137.60,319.38 L137.91,316.05 L138.23,312.08 L138.55,307.52 L138.86,302.55 L139.18,297.49 L139.49,292.82 L139.81,289.28 L140.12,288.67 L140.44,291.26 L140.75,295.03 L141.07,299.36 L141.38,303.84 L141.70,308.17 L142.01,312.15 L142.33,315.68 L142.64,318.70 L142.96,321.23 L143.28,323.28 L143.59,324.90 L143.91,326.17 L144.22,327.13 L144.54,327.85 L144.85,328.38 L145.17,328.76 L145.48,329.03 L145.80,329.22 L146.11,329.35 L146.43,329.43 L146.74,329.49 L147.06,329.53 L147.38,329.56" stroke="#5aa2e4" fill="none" stroke-width="0.95" stroke-linejoin="round"/>
<path d="M134.47,329.56 L134.86,329.53 L135.24,329.49 L135.62,329.41 L136.00,329.30 L136.38,329.12 L136.76,328.84 L137.14,328.42 L137.52,327.82 L137.90,326.96 L138.28,325.76 L138.66,324.15 L139.04,322.02 L139.42,319.31 L139.80,315.98 L140.19,312.05 L140.57,307.62 L140.95,302.92 L141.33,298.34 L141.71,294.46 L142.09,292.31 L142.47,293.79 L142.85,296.73 L143.23,300.36 L143.61,304.28 L143.99,308.19 L144.37,311.88 L144.75,315.22 L145.13,318.15 L145.51,320.65 L145.90,322.72 L146.28,324.40 L146.66,325.73 L147.04,326.76 L147.42,327.55 L147.80,328.14 L148.18,328.57 L148.56,328.89 L148.94,329.11 L149.32,329.27 L149.70,329.38 L150.08,329.46 L150.46,329.51 L150.84,329.54 L151.22,329.56" stroke="#c0123c" fill="none" stroke-width="0.95" stroke-linejoin="round"/>
<rect x="112.20" y="277.20" width="53.40" height="52.90" fill="none" stroke="#000" stroke-width="1.1"/>
<text x="106.80" y="331.32" font-size="5.00" text-anchor="end" fill="#1a1a1a" textLength="2.80" lengthAdjust="spacingAndGlyphs" stroke="#1a1a1a" stroke-width="0.06">0</text>
<text x="106.80" y="321.24" font-size="5.00" text-anchor="end" fill="#1a1a1a" textLength="5.60" lengthAdjust="spacingAndGlyphs" stroke="#1a1a1a" stroke-width="0.06">20</text>
<text x="106.80" y="311.16" font-size="5.00" text-anchor="end" fill="#1a1a1a" textLength="5.60" lengthAdjust="spacingAndGlyphs" stroke="#1a1a1a" stroke-width="0.06">40</text>
<text x="106.80" y="301.08" font-size="5.00" text-anchor="end" fill="#1a1a1a" textLength="5.60" lengthAdjust="spacingAndGlyphs" stroke="#1a1a1a" stroke-width="0.06">60</text>
<text x="106.80" y="291.00" font-size="5.00" text-anchor="end" fill="#1a1a1a" textLength="5.60" lengthAdjust="spacingAndGlyphs" stroke="#1a1a1a" stroke-width="0.06">80</text>
<text x="106.80" y="280.92" font-size="5.00" text-anchor="end" fill="#1a1a1a" textLength="8.30" lengthAdjust="spacingAndGlyphs" stroke="#1a1a1a" stroke-width="0.06">100</text>
<rect x="126.62" y="330.10" width="4.27" height="1.50" fill="#000"/>
<path d="M109.90,329.60H112.20M109.90,319.52H112.20M109.90,309.44H112.20M109.90,299.36H112.20M109.90,289.28H112.20M109.90,279.20H112.20M115.14,330.10V332.00M128.75,330.10V332.00M141.57,330.10V332.00M153.59,330.10V332.00M164.53,330.10V332.00" stroke="#000" fill="none" stroke-width="0.9"/>
<path d="M110.90,327.58H112.20M110.90,325.57H112.20M110.90,323.55H112.20M110.90,321.54H112.20M110.90,317.50H112.20M110.90,315.49H112.20M110.90,313.47H112.20M110.90,311.46H112.20M110.90,307.42H112.20M110.90,305.41H112.20M110.90,303.39H112.20M110.90,301.38H112.20M110.90,297.34H112.20M110.90,295.33H112.20M110.90,293.31H112.20M110.90,291.30H112.20M110.90,287.26H112.20M110.90,285.25H112.20M110.90,283.23H112.20M110.90,281.22H112.20M145.19,330.10V331.30M147.30,330.10V331.30M148.80,330.10V331.30M149.97,330.10V331.30M150.92,330.10V331.30M151.72,330.10V331.30M152.42,330.10V331.30M153.04,330.10V331.30M156.88,330.10V331.30M158.81,330.10V331.30M160.18,330.10V331.30M161.24,330.10V331.30M162.10,330.10V331.30M162.84,330.10V331.30M163.47,330.10V331.30M164.03,330.10V331.30M124.65,330.10V331.30M122.26,330.10V331.30M120.56,330.10V331.30M119.24,330.10V331.30M118.16,330.10V331.30M117.25,330.10V331.30M116.46,330.10V331.30M115.76,330.10V331.30M132.61,330.10V331.30M134.87,330.10V331.30M136.47,330.10V331.30M137.71,330.10V331.30M138.73,330.10V331.30M139.58,330.10V331.30M140.33,330.10V331.30M140.98,330.10V331.30" stroke="#111" fill="none" stroke-width="0.55"/>
<text x="111.24" y="340.95" font-size="4.8" fill="#1a1a1a" stroke="#1a1a1a" stroke-width="0.12">-10<tspan font-size="2.9" dy="-1.7">4</tspan></text>
<text x="128.75" y="340.95" font-size="4.80" text-anchor="middle" fill="#1a1a1a" stroke="#1a1a1a" stroke-width="0.06">0</text>
<text x="138.42" y="340.95" font-size="4.8" fill="#1a1a1a" stroke="#1a1a1a" stroke-width="0.12">10<tspan font-size="2.9" dy="-1.7">4</tspan></text>
<text x="150.44" y="340.95" font-size="4.8" fill="#1a1a1a" stroke="#1a1a1a" stroke-width="0.12">10<tspan font-size="2.9" dy="-1.7">5</tspan></text>
<text x="161.28" y="340.95" font-size="4.8" fill="#1a1a1a" stroke="#1a1a1a" stroke-width="0.12">10<tspan font-size="2.9" dy="-1.7">6</tspan></text>
<path d="M319.18,244.05 L319.44,244.02 L319.71,243.98 L319.98,243.91 L320.25,243.81 L320.52,243.68 L320.79,243.48 L321.06,243.19 L321.33,242.80 L321.60,242.26 L321.87,241.53 L322.14,240.56 L322.41,239.30 L322.68,237.66 L322.95,235.60 L323.22,233.06 L323.49,229.97 L323.76,226.32 L324.03,222.13 L324.30,217.44 L324.57,212.39 L324.84,207.19 L325.11,202.14 L325.38,197.69 L325.65,194.48 L325.92,194.54 L326.19,198.87 L326.46,204.86 L326.73,211.40 L327.00,217.79 L327.27,223.58 L327.54,228.56 L327.81,232.65 L328.08,235.87 L328.35,238.33 L328.62,240.15 L328.89,241.45 L329.16,242.37 L329.43,242.99 L329.70,243.40 L329.97,243.67 L330.24,243.84 L330.51,243.94 L330.78,244.01 L331.05,244.05" stroke="#c0123c" fill="none" stroke-width="0.95" stroke-linejoin="round"/>
<path d="M320.23,244.05 L320.51,244.02 L320.79,243.97 L321.07,243.89 L321.35,243.78 L321.63,243.61 L321.91,243.36 L322.19,242.99 L322.48,242.48 L322.76,241.76 L323.04,240.78 L323.32,239.47 L323.60,237.74 L323.88,235.51 L324.16,232.71 L324.44,229.28 L324.73,225.20 L325.01,220.49 L325.29,215.27 L325.57,209.74 L325.85,204.22 L326.13,199.21 L326.41,195.41 L326.69,194.64 L326.98,198.11 L327.26,203.22 L327.54,209.04 L327.82,214.93 L328.10,220.49 L328.38,225.47 L328.66,229.74 L328.94,233.28 L329.23,236.12 L329.51,238.33 L329.79,240.00 L330.07,241.25 L330.35,242.15 L330.63,242.79 L330.91,243.24 L331.19,243.54 L331.48,243.74 L331.76,243.87 L332.04,243.96 L332.32,244.01 L332.60,244.05" stroke="#7cc350" fill="none" stroke-width="0.95" stroke-linejoin="round"/>
<rect x="298.80" y="191.70" width="53.40" height="52.90" fill="none" stroke="#000" stroke-width="1.1"/>
<text x="293.40" y="245.82" font-size="5.00" text-anchor="end" fill="#1a1a1a" textLength="2.80" lengthAdjust="spacingAndGlyphs" stroke="#1a1a1a" stroke-width="0.06">0</text>
<text x="293.40" y="235.74" font-size="5.00" text-anchor="end" fill="#1a1a1a" textLength="5.60" lengthAdjust="spacingAndGlyphs" stroke="#1a1a1a" stroke-width="0.06">20</text>
<text x="293.40" y="225.66" font-size="5.00" text-anchor="end" fill="#1a1a1a" textLength="5.60" lengthAdjust="spacingAndGlyphs" stroke="#1a1a1a" stroke-width="0.06">40</text>
<text x="293.40" y="215.58" font-size="5.00" text-anchor="end" fill="#1a1a1a" textLength="5.60" lengthAdjust="spacingAndGlyphs" stroke="#1a1a1a" stroke-width="0.06">60</text>
<text x="293.40" y="205.50" font-size="5.00" text-anchor="end" fill="#1a1a1a" textLength="5.60" lengthAdjust="spacingAndGlyphs" stroke="#1a1a1a" stroke-width="0.06">80</text>
<text x="293.40" y="195.42" font-size="5.00" text-anchor="end" fill="#1a1a1a" textLength="8.30" lengthAdjust="spacingAndGlyphs" stroke="#1a1a1a" stroke-width="0.06">100</text>
<path d="M296.50,244.10H298.80M296.50,234.02H298.80M296.50,223.94H298.80M296.50,213.86H298.80M296.50,203.78H298.80M296.50,193.70H298.80M298.80,244.60V246.50M307.70,244.60V246.50M316.60,244.60V246.50M325.50,244.60V246.50M334.40,244.60V246.50M343.30,244.60V246.50M352.20,244.60V246.50" stroke="#000" fill="none" stroke-width="0.9"/>
<path d="M297.50,242.08H298.80M297.50,240.07H298.80M297.50,238.05H298.80M297.50,236.04H298.80M297.50,232.00H298.80M297.50,229.99H298.80M297.50,227.97H298.80M297.50,225.96H298.80M297.50,221.92H298.80M297.50,219.91H298.80M297.50,217.89H298.80M297.50,215.88H298.80M297.50,211.84H298.80M297.50,209.83H298.80M297.50,207.81H298.80M297.50,205.80H298.80M297.50,201.76H298.80M297.50,199.75H298.80M297.50,197.73H298.80M297.50,195.72H298.80M301.48,244.60V245.80M303.05,244.60V245.80M304.16,244.60V245.80M305.02,244.60V245.80M305.73,244.60V245.80M306.32,244.60V245.80M306.84,244.60V245.80M307.29,244.60V245.80M310.38,244.60V245.80M311.95,244.60V245.80M313.06,244.60V245.80M313.92,244.60V245.80M314.63,244.60V245.80M315.22,244.60V245.80M315.74,244.60V245.80M316.19,244.60V245.80M319.28,244.60V245.80M320.85,244.60V245.80M321.96,244.60V245.80M322.82,244.60V245.80M323.53,244.60V245.80M324.12,244.60V245.80M324.64,244.60V245.80M325.09,244.60V245.80M328.18,244.60V245.80M329.75,244.60V245.80M330.86,244.60V245.80M331.72,244.60V245.80M332.43,244.60V245.80M333.02,244.60V245.80M333.54,244.60V245.80M333.99,244.60V245.80M337.08,244.60V245.80M338.65,244.60V245.80M339.76,244.60V245.80M340.62,244.60V245.80M341.33,244.60V245.80M341.92,244.60V245.80M342.44,244.60V245.80M342.89,244.60V245.80M345.98,244.60V245.80M347.55,244.60V245.80M348.66,244.60V245.80M349.52,244.60V245.80M350.23,244.60V245.80M350.82,244.60V245.80M351.34,244.60V245.80M351.79,244.60V245.80" stroke="#111" fill="none" stroke-width="0.55"/>
<text x="294.80" y="255.45" font-size="4.8" fill="#1a1a1a" stroke="#1a1a1a" stroke-width="0.12">10<tspan font-size="2.9" dy="-1.7">0</tspan></text>
<text x="303.70" y="255.45" font-size="4.8" fill="#1a1a1a" stroke="#1a1a1a" stroke-width="0.12">10<tspan font-size="2.9" dy="-1.7">1</tspan></text>
<text x="312.60" y="255.45" font-size="4.8" fill="#1a1a1a" stroke="#1a1a1a" stroke-width="0.12">10<tspan font-size="2.9" dy="-1.7">2</tspan></text>
<text x="321.50" y="255.45" font-size="4.8" fill="#1a1a1a" stroke="#1a1a1a" stroke-width="0.12">10<tspan font-size="2.9" dy="-1.7">3</tspan></text>
<text x="330.40" y="255.45" font-size="4.8" fill="#1a1a1a" stroke="#1a1a1a" stroke-width="0.12">10<tspan font-size="2.9" dy="-1.7">4</tspan></text>
<text x="339.30" y="255.45" font-size="4.8" fill="#1a1a1a" stroke="#1a1a1a" stroke-width="0.12">10<tspan font-size="2.9" dy="-1.7">5</tspan></text>
<text x="348.20" y="255.45" font-size="4.8" fill="#1a1a1a" stroke="#1a1a1a" stroke-width="0.12">10<tspan font-size="2.9" dy="-1.7">6</tspan></text>
<text x="325.50" y="188.91" font-size="7.00" text-anchor="middle" fill="#111" textLength="12.00" lengthAdjust="spacingAndGlyphs" stroke="#111" stroke-width="0.08">SPL</text>
<path d="M398.25,244.05 L398.51,244.02 L398.76,243.98 L399.02,243.91 L399.27,243.81 L399.53,243.67 L399.78,243.47 L400.04,243.19 L400.30,242.79 L400.55,242.24 L400.81,241.50 L401.06,240.51 L401.32,239.22 L401.57,237.56 L401.83,235.47 L402.09,232.88 L402.34,229.74 L402.60,226.04 L402.85,221.79 L403.11,217.05 L403.36,211.95 L403.62,206.73 L403.88,201.70 L404.13,197.32 L404.39,194.27 L404.64,194.85 L404.90,199.39 L405.15,205.44 L405.41,211.95 L405.66,218.27 L405.92,223.98 L406.18,228.87 L406.43,232.88 L406.69,236.04 L406.94,238.44 L407.20,240.22 L407.45,241.50 L407.71,242.39 L407.97,243.00 L408.22,243.41 L408.48,243.67 L408.73,243.84 L408.99,243.95 L409.24,244.01 L409.50,244.05" stroke="#c0123c" fill="none" stroke-width="0.95" stroke-linejoin="round"/>
<path d="M400.88,244.05 L401.13,244.02 L401.39,243.97 L401.64,243.90 L401.90,243.78 L402.15,243.61 L402.41,243.36 L402.66,242.98 L402.92,242.45 L403.18,241.71 L403.43,240.68 L403.69,239.30 L403.94,237.49 L404.20,235.16 L404.45,232.24 L404.71,228.68 L404.97,224.48 L405.22,219.71 L405.48,214.52 L405.73,209.19 L405.99,204.12 L406.24,199.95 L406.50,197.73 L406.76,199.95 L407.01,204.12 L407.27,209.19 L407.52,214.52 L407.78,219.71 L408.03,224.48 L408.29,228.68 L408.55,232.24 L408.80,235.16 L409.06,237.49 L409.31,239.30 L409.57,240.68 L409.82,241.71 L410.08,242.45 L410.34,242.98 L410.59,243.36 L410.85,243.61 L411.10,243.78 L411.36,243.90 L411.61,243.97 L411.87,244.02 L412.12,244.05" stroke="#7cc350" fill="none" stroke-width="0.95" stroke-linejoin="round"/>
<rect x="378.70" y="191.70" width="53.40" height="52.90" fill="none" stroke="#000" stroke-width="1.1"/>
<text x="373.30" y="245.82" font-size="5.00" text-anchor="end" fill="#1a1a1a" textLength="2.80" lengthAdjust="spacingAndGlyphs" stroke="#1a1a1a" stroke-width="0.06">0</text>
<text x="373.30" y="235.74" font-size="5.00" text-anchor="end" fill="#1a1a1a" textLength="5.60" lengthAdjust="spacingAndGlyphs" stroke="#1a1a1a" stroke-width="0.06">20</text>
<text x="373.30" y="225.66" font-size="5.00" text-anchor="end" fill="#1a1a1a" textLength="5.60" lengthAdjust="spacingAndGlyphs" stroke="#1a1a1a" stroke-width="0.06">40</text>
<text x="373.30" y="215.58" font-size="5.00" text-anchor="end" fill="#1a1a1a" textLength="5.60" lengthAdjust="spacingAndGlyphs" stroke="#1a1a1a" stroke-width="0.06">60</text>
<text x="373.30" y="205.50" font-size="5.00" text-anchor="end" fill="#1a1a1a" textLength="5.60" lengthAdjust="spacingAndGlyphs" stroke="#1a1a1a" stroke-width="0.06">80</text>
<text x="373.30" y="195.42" font-size="5.00" text-anchor="end" fill="#1a1a1a" textLength="8.30" lengthAdjust="spacingAndGlyphs" stroke="#1a1a1a" stroke-width="0.06">100</text>
<path d="M376.40,244.10H378.70M376.40,234.02H378.70M376.40,223.94H378.70M376.40,213.86H378.70M376.40,203.78H378.70M376.40,193.70H378.70M378.70,244.60V246.50M387.60,244.60V246.50M396.50,244.60V246.50M405.40,244.60V246.50M414.30,244.60V246.50M423.20,244.60V246.50M432.10,244.60V246.50" stroke="#000" fill="none" stroke-width="0.9"/>
<path d="M377.40,242.08H378.70M377.40,240.07H378.70M377.40,238.05H378.70M377.40,236.04H378.70M377.40,232.00H378.70M377.40,229.99H378.70M377.40,227.97H378.70M377.40,225.96H378.70M377.40,221.92H378.70M377.40,219.91H378.70M377.40,217.89H378.70M377.40,215.88H378.70M377.40,211.84H378.70M377.40,209.83H378.70M377.40,207.81H378.70M377.40,205.80H378.70M377.40,201.76H378.70M377.40,199.75H378.70M377.40,197.73H378.70M377.40,195.72H378.70M381.38,244.60V245.80M382.95,244.60V245.80M384.06,244.60V245.80M384.92,244.60V245.80M385.63,244.60V245.80M386.22,244.60V245.80M386.74,244.60V245.80M387.19,244.60V245.80M390.28,244.60V245.80M391.85,244.60V245.80M392.96,244.60V245.80M393.82,244.60V245.80M394.53,244.60V245.80M395.12,244.60V245.80M395.64,244.60V245.80M396.09,244.60V245.80M399.18,244.60V245.80M400.75,244.60V245.80M401.86,244.60V245.80M402.72,244.60V245.80M403.43,244.60V245.80M404.02,244.60V245.80M404.54,244.60V245.80M404.99,244.60V245.80M408.08,244.60V245.80M409.65,244.60V245.80M410.76,244.60V245.80M411.62,244.60V245.80M412.33,244.60V245.80M412.92,244.60V245.80M413.44,244.60V245.80M413.89,244.60V245.80M416.98,244.60V245.80M418.55,244.60V245.80M419.66,244.60V245.80M420.52,244.60V245.80M421.23,244.60V245.80M421.82,244.60V245.80M422.34,244.60V245.80M422.79,244.60V245.80M425.88,244.60V245.80M427.45,244.60V245.80M428.56,244.60V245.80M429.42,244.60V245.80M430.13,244.60V245.80M430.72,244.60V245.80M431.24,244.60V245.80M431.69,244.60V245.80" stroke="#111" fill="none" stroke-width="0.55"/>
<text x="374.70" y="255.45" font-size="4.8" fill="#1a1a1a" stroke="#1a1a1a" stroke-width="0.12">10<tspan font-size="2.9" dy="-1.7">0</tspan></text>
<text x="383.60" y="255.45" font-size="4.8" fill="#1a1a1a" stroke="#1a1a1a" stroke-width="0.12">10<tspan font-size="2.9" dy="-1.7">1</tspan></text>
<text x="392.50" y="255.45" font-size="4.8" fill="#1a1a1a" stroke="#1a1a1a" stroke-width="0.12">10<tspan font-size="2.9" dy="-1.7">2</tspan></text>
<text x="401.40" y="255.45" font-size="4.8" fill="#1a1a1a" stroke="#1a1a1a" stroke-width="0.12">10<tspan font-size="2.9" dy="-1.7">3</tspan></text>
<text x="410.30" y="255.45" font-size="4.8" fill="#1a1a1a" stroke="#1a1a1a" stroke-width="0.12">10<tspan font-size="2.9" dy="-1.7">4</tspan></text>
<text x="419.20" y="255.45" font-size="4.8" fill="#1a1a1a" stroke="#1a1a1a" stroke-width="0.12">10<tspan font-size="2.9" dy="-1.7">5</tspan></text>
<text x="428.10" y="255.45" font-size="4.8" fill="#1a1a1a" stroke="#1a1a1a" stroke-width="0.12">10<tspan font-size="2.9" dy="-1.7">6</tspan></text>
<text x="405.40" y="188.91" font-size="7.00" text-anchor="middle" fill="#111" textLength="19.50" lengthAdjust="spacingAndGlyphs" stroke="#111" stroke-width="0.08">Colon</text>
<path d="M321.95,329.55 L322.22,329.52 L322.49,329.49 L322.76,329.44 L323.03,329.37 L323.30,329.28 L323.57,329.15 L323.84,328.98 L324.11,328.75 L324.38,328.44 L324.65,328.03 L324.92,327.50 L325.19,326.81 L325.46,325.94 L325.73,324.84 L326.00,323.48 L326.27,321.82 L326.54,319.81 L326.81,317.43 L327.08,314.64 L327.35,311.44 L327.62,307.84 L327.89,303.88 L328.16,299.63 L328.43,295.21 L328.70,290.78 L328.97,286.57 L329.24,282.88 L329.51,280.13 L329.78,279.79 L330.05,285.38 L330.32,293.32 L330.59,301.59 L330.86,309.08 L331.13,315.27 L331.40,320.01 L331.67,323.44 L331.94,325.79 L332.21,327.32 L332.48,328.29 L332.75,328.87 L333.02,329.21 L333.29,329.39 L333.56,329.49 L333.82,329.55" stroke="#c0123c" fill="none" stroke-width="0.95" stroke-linejoin="round"/>
<path d="M323.70,329.55 L323.97,329.52 L324.23,329.48 L324.50,329.41 L324.77,329.31 L325.04,329.17 L325.30,328.97 L325.57,328.68 L325.84,328.28 L326.10,327.73 L326.37,326.99 L326.64,326.00 L326.90,324.70 L327.17,323.02 L327.44,320.91 L327.71,318.31 L327.97,315.15 L328.24,311.43 L328.51,307.17 L328.77,302.42 L329.04,297.33 L329.31,292.14 L329.57,287.18 L329.84,282.91 L330.11,280.07 L330.38,281.18 L330.64,285.86 L330.91,291.90 L331.18,298.32 L331.44,304.50 L331.71,310.07 L331.98,314.82 L332.25,318.71 L332.51,321.77 L332.78,324.11 L333.05,325.83 L333.31,327.07 L333.58,327.94 L333.85,328.53 L334.11,328.92 L334.38,329.18 L334.65,329.35 L334.92,329.45 L335.18,329.51 L335.45,329.55" stroke="#7cc350" fill="none" stroke-width="0.95" stroke-linejoin="round"/>
<rect x="298.80" y="277.20" width="53.40" height="52.90" fill="none" stroke="#000" stroke-width="1.1"/>
<text x="293.40" y="331.32" font-size="5.00" text-anchor="end" fill="#1a1a1a" textLength="2.80" lengthAdjust="spacingAndGlyphs" stroke="#1a1a1a" stroke-width="0.06">0</text>
<text x="293.40" y="321.24" font-size="5.00" text-anchor="end" fill="#1a1a1a" textLength="5.60" lengthAdjust="spacingAndGlyphs" stroke="#1a1a1a" stroke-width="0.06">20</text>
<text x="293.40" y="311.16" font-size="5.00" text-anchor="end" fill="#1a1a1a" textLength="5.60" lengthAdjust="spacingAndGlyphs" stroke="#1a1a1a" stroke-width="0.06">40</text>
<text x="293.40" y="301.08" font-size="5.00" text-anchor="end" fill="#1a1a1a" textLength="5.60" lengthAdjust="spacingAndGlyphs" stroke="#1a1a1a" stroke-width="0.06">60</text>
<text x="293.40" y="291.00" font-size="5.00" text-anchor="end" fill="#1a1a1a" textLength="5.60" lengthAdjust="spacingAndGlyphs" stroke="#1a1a1a" stroke-width="0.06">80</text>
<text x="293.40" y="280.92" font-size="5.00" text-anchor="end" fill="#1a1a1a" textLength="8.30" lengthAdjust="spacingAndGlyphs" stroke="#1a1a1a" stroke-width="0.06">100</text>
<path d="M296.50,329.60H298.80M296.50,319.52H298.80M296.50,309.44H298.80M296.50,299.36H298.80M296.50,289.28H298.80M296.50,279.20H298.80M298.80,330.10V332.00M307.70,330.10V332.00M316.60,330.10V332.00M325.50,330.10V332.00M334.40,330.10V332.00M343.30,330.10V332.00M352.20,330.10V332.00" stroke="#000" fill="none" stroke-width="0.9"/>
<path d="M297.50,327.58H298.80M297.50,325.57H298.80M297.50,323.55H298.80M297.50,321.54H298.80M297.50,317.50H298.80M297.50,315.49H298.80M297.50,313.47H298.80M297.50,311.46H298.80M297.50,307.42H298.80M297.50,305.41H298.80M297.50,303.39H298.80M297.50,301.38H298.80M297.50,297.34H298.80M297.50,295.33H298.80M297.50,293.31H298.80M297.50,291.30H298.80M297.50,287.26H298.80M297.50,285.25H298.80M297.50,283.23H298.80M297.50,281.22H298.80M301.48,330.10V331.30M303.05,330.10V331.30M304.16,330.10V331.30M305.02,330.10V331.30M305.73,330.10V331.30M306.32,330.10V331.30M306.84,330.10V331.30M307.29,330.10V331.30M310.38,330.10V331.30M311.95,330.10V331.30M313.06,330.10V331.30M313.92,330.10V331.30M314.63,330.10V331.30M315.22,330.10V331.30M315.74,330.10V331.30M316.19,330.10V331.30M319.28,330.10V331.30M320.85,330.10V331.30M321.96,330.10V331.30M322.82,330.10V331.30M323.53,330.10V331.30M324.12,330.10V331.30M324.64,330.10V331.30M325.09,330.10V331.30M328.18,330.10V331.30M329.75,330.10V331.30M330.86,330.10V331.30M331.72,330.10V331.30M332.43,330.10V331.30M333.02,330.10V331.30M333.54,330.10V331.30M333.99,330.10V331.30M337.08,330.10V331.30M338.65,330.10V331.30M339.76,330.10V331.30M340.62,330.10V331.30M341.33,330.10V331.30M341.92,330.10V331.30M342.44,330.10V331.30M342.89,330.10V331.30M345.98,330.10V331.30M347.55,330.10V331.30M348.66,330.10V331.30M349.52,330.10V331.30M350.23,330.10V331.30M350.82,330.10V331.30M351.34,330.10V331.30M351.79,330.10V331.30" stroke="#111" fill="none" stroke-width="0.55"/>
<text x="294.80" y="340.95" font-size="4.8" fill="#1a1a1a" stroke="#1a1a1a" stroke-width="0.12">10<tspan font-size="2.9" dy="-1.7">0</tspan></text>
<text x="303.70" y="340.95" font-size="4.8" fill="#1a1a1a" stroke="#1a1a1a" stroke-width="0.12">10<tspan font-size="2.9" dy="-1.7">1</tspan></text>
<text x="312.60" y="340.95" font-size="4.8" fill="#1a1a1a" stroke="#1a1a1a" stroke-width="0.12">10<tspan font-size="2.9" dy="-1.7">2</tspan></text>
<text x="321.50" y="340.95" font-size="4.8" fill="#1a1a1a" stroke="#1a1a1a" stroke-width="0.12">10<tspan font-size="2.9" dy="-1.7">3</tspan></text>
<text x="330.40" y="340.95" font-size="4.8" fill="#1a1a1a" stroke="#1a1a1a" stroke-width="0.12">10<tspan font-size="2.9" dy="-1.7">4</tspan></text>
<text x="339.30" y="340.95" font-size="4.8" fill="#1a1a1a" stroke="#1a1a1a" stroke-width="0.12">10<tspan font-size="2.9" dy="-1.7">5</tspan></text>
<text x="348.20" y="340.95" font-size="4.8" fill="#1a1a1a" stroke="#1a1a1a" stroke-width="0.12">10<tspan font-size="2.9" dy="-1.7">6</tspan></text>
<path d="M398.88,329.55 L399.20,329.53 L399.53,329.50 L399.86,329.46 L400.18,329.41 L400.51,329.34 L400.84,329.25 L401.16,329.13 L401.49,328.97 L401.82,328.77 L402.14,328.51 L402.47,328.17 L402.80,327.75 L403.12,327.21 L403.45,326.55 L403.78,325.73 L404.10,324.73 L404.43,323.53 L404.76,322.09 L405.08,320.38 L405.41,318.40 L405.74,316.10 L406.06,313.49 L406.39,310.57 L406.72,307.34 L407.04,303.83 L407.37,300.11 L407.70,296.25 L408.02,292.37 L408.35,288.60 L408.68,285.12 L409.00,282.20 L409.33,280.16 L409.66,281.78 L409.98,291.09 L410.31,302.00 L410.64,311.58 L410.96,318.75 L411.29,323.53 L411.62,326.42 L411.94,328.04 L412.27,328.88 L412.60,329.28 L412.92,329.47 L413.25,329.55" stroke="#c0123c" fill="none" stroke-width="0.95" stroke-linejoin="round"/>
<path d="M401.12,329.55 L401.42,329.53 L401.72,329.50 L402.02,329.46 L402.32,329.41 L402.62,329.34 L402.91,329.24 L403.21,329.12 L403.51,328.95 L403.81,328.73 L404.11,328.45 L404.41,328.08 L404.70,327.62 L405.00,327.04 L405.30,326.31 L405.60,325.41 L405.90,324.31 L406.20,322.98 L406.49,321.40 L406.79,319.53 L407.09,317.35 L407.39,314.85 L407.69,312.02 L407.99,308.88 L408.28,305.45 L408.58,301.78 L408.88,297.96 L409.18,294.10 L409.48,290.34 L409.78,286.89 L410.07,284.01 L410.37,282.06 L410.67,284.01 L410.97,292.20 L411.27,301.78 L411.57,310.49 L411.86,317.35 L412.16,322.23 L412.46,325.41 L412.76,327.35 L413.06,328.45 L413.36,329.04 L413.65,329.34 L413.95,329.48 L414.25,329.55" stroke="#7cc350" fill="none" stroke-width="0.95" stroke-linejoin="round"/>
<rect x="378.70" y="277.20" width="53.40" height="52.90" fill="none" stroke="#000" stroke-width="1.1"/>
<text x="373.30" y="331.32" font-size="5.00" text-anchor="end" fill="#1a1a1a" textLength="2.80" lengthAdjust="spacingAndGlyphs" stroke="#1a1a1a" stroke-width="0.06">0</text>
<text x="373.30" y="321.24" font-size="5.00" text-anchor="end" fill="#1a1a1a" textLength="5.60" lengthAdjust="spacingAndGlyphs" stroke="#1a1a1a" stroke-width="0.06">20</text>
<text x="373.30" y="311.16" font-size="5.00" text-anchor="end" fill="#1a1a1a" textLength="5.60" lengthAdjust="spacingAndGlyphs" stroke="#1a1a1a" stroke-width="0.06">40</text>
<text x="373.30" y="301.08" font-size="5.00" text-anchor="end" fill="#1a1a1a" textLength="5.60" lengthAdjust="spacingAndGlyphs" stroke="#1a1a1a" stroke-width="0.06">60</text>
<text x="373.30" y="291.00" font-size="5.00" text-anchor="end" fill="#1a1a1a" textLength="5.60" lengthAdjust="spacingAndGlyphs" stroke="#1a1a1a" stroke-width="0.06">80</text>
<text x="373.30" y="280.92" font-size="5.00" text-anchor="end" fill="#1a1a1a" textLength="8.30" lengthAdjust="spacingAndGlyphs" stroke="#1a1a1a" stroke-width="0.06">100</text>
<path d="M376.40,329.60H378.70M376.40,319.52H378.70M376.40,309.44H378.70M376.40,299.36H378.70M376.40,289.28H378.70M376.40,279.20H378.70M378.70,330.10V332.00M387.60,330.10V332.00M396.50,330.10V332.00M405.40,330.10V332.00M414.30,330.10V332.00M423.20,330.10V332.00M432.10,330.10V332.00" stroke="#000" fill="none" stroke-width="0.9"/>
<path d="M377.40,327.58H378.70M377.40,325.57H378.70M377.40,323.55H378.70M377.40,321.54H378.70M377.40,317.50H378.70M377.40,315.49H378.70M377.40,313.47H378.70M377.40,311.46H378.70M377.40,307.42H378.70M377.40,305.41H378.70M377.40,303.39H378.70M377.40,301.38H378.70M377.40,297.34H378.70M377.40,295.33H378.70M377.40,293.31H378.70M377.40,291.30H378.70M377.40,287.26H378.70M377.40,285.25H378.70M377.40,283.23H378.70M377.40,281.22H378.70M381.38,330.10V331.30M382.95,330.10V331.30M384.06,330.10V331.30M384.92,330.10V331.30M385.63,330.10V331.30M386.22,330.10V331.30M386.74,330.10V331.30M387.19,330.10V331.30M390.28,330.10V331.30M391.85,330.10V331.30M392.96,330.10V331.30M393.82,330.10V331.30M394.53,330.10V331.30M395.12,330.10V331.30M395.64,330.10V331.30M396.09,330.10V331.30M399.18,330.10V331.30M400.75,330.10V331.30M401.86,330.10V331.30M402.72,330.10V331.30M403.43,330.10V331.30M404.02,330.10V331.30M404.54,330.10V331.30M404.99,330.10V331.30M408.08,330.10V331.30M409.65,330.10V331.30M410.76,330.10V331.30M411.62,330.10V331.30M412.33,330.10V331.30M412.92,330.10V331.30M413.44,330.10V331.30M413.89,330.10V331.30M416.98,330.10V331.30M418.55,330.10V331.30M419.66,330.10V331.30M420.52,330.10V331.30M421.23,330.10V331.30M421.82,330.10V331.30M422.34,330.10V331.30M422.79,330.10V331.30M425.88,330.10V331.30M427.45,330.10V331.30M428.56,330.10V331.30M429.42,330.10V331.30M430.13,330.10V331.30M430.72,330.10V331.30M431.24,330.10V331.30M431.69,330.10V331.30" stroke="#111" fill="none" stroke-width="0.55"/>
<text x="374.70" y="340.95" font-size="4.8" fill="#1a1a1a" stroke="#1a1a1a" stroke-width="0.12">10<tspan font-size="2.9" dy="-1.7">0</tspan></text>
<text x="383.60" y="340.95" font-size="4.8" fill="#1a1a1a" stroke="#1a1a1a" stroke-width="0.12">10<tspan font-size="2.9" dy="-1.7">1</tspan></text>
<text x="392.50" y="340.95" font-size="4.8" fill="#1a1a1a" stroke="#1a1a1a" stroke-width="0.12">10<tspan font-size="2.9" dy="-1.7">2</tspan></text>
<text x="401.40" y="340.95" font-size="4.8" fill="#1a1a1a" stroke="#1a1a1a" stroke-width="0.12">10<tspan font-size="2.9" dy="-1.7">3</tspan></text>
<text x="410.30" y="340.95" font-size="4.8" fill="#1a1a1a" stroke="#1a1a1a" stroke-width="0.12">10<tspan font-size="2.9" dy="-1.7">4</tspan></text>
<text x="419.20" y="340.95" font-size="4.8" fill="#1a1a1a" stroke="#1a1a1a" stroke-width="0.12">10<tspan font-size="2.9" dy="-1.7">5</tspan></text>
<text x="428.10" y="340.95" font-size="4.8" fill="#1a1a1a" stroke="#1a1a1a" stroke-width="0.12">10<tspan font-size="2.9" dy="-1.7">6</tspan></text>
<path d="M48.38,456.25 L48.64,456.21 L48.90,456.13 L49.16,456.00 L49.42,455.79 L49.68,455.44 L49.94,454.89 L50.20,454.04 L50.47,452.76 L50.73,450.92 L50.99,448.34 L51.25,444.86 L51.51,440.37 L51.77,434.84 L52.03,428.41 L52.30,421.46 L52.56,414.70 L52.82,409.27 L53.08,407.68 L53.34,410.09 L53.60,413.79 L53.86,418.18 L54.12,422.86 L54.39,427.54 L54.65,432.01 L54.91,436.13 L55.17,439.82 L55.43,443.03 L55.69,445.77 L55.95,448.06 L56.22,449.94 L56.48,451.45 L56.74,452.65 L57.00,453.59 L57.26,454.31 L57.52,454.85 L57.78,455.26 L58.05,455.56 L58.31,455.78 L58.57,455.94 L58.83,456.05 L59.09,456.13 L59.35,456.19 L59.61,456.22 L59.88,456.25" stroke="#5b3a8a" fill="none" stroke-width="0.95" stroke-linejoin="round"/>
<path d="M48.88,456.25 L49.14,456.21 L49.40,456.13 L49.66,456.00 L49.92,455.78 L50.18,455.42 L50.44,454.86 L50.70,453.99 L50.97,452.69 L51.23,450.81 L51.49,448.18 L51.75,444.63 L52.01,440.04 L52.27,434.40 L52.53,427.84 L52.80,420.74 L53.06,413.84 L53.32,408.30 L53.58,406.68 L53.84,409.13 L54.10,412.91 L54.36,417.40 L54.62,422.18 L54.89,426.95 L55.15,431.51 L55.41,435.72 L55.67,439.48 L55.93,442.76 L56.19,445.56 L56.45,447.89 L56.72,449.81 L56.98,451.35 L57.24,452.58 L57.50,453.53 L57.76,454.27 L58.02,454.82 L58.28,455.24 L58.55,455.55 L58.81,455.77 L59.07,455.93 L59.33,456.05 L59.59,456.13 L59.85,456.18 L60.11,456.22 L60.38,456.25" stroke="#e09a2a" fill="none" stroke-width="0.95" stroke-linejoin="round"/>
<rect x="32.00" y="403.90" width="53.40" height="52.90" fill="none" stroke="#000" stroke-width="1.1"/>
<text x="26.60" y="458.02" font-size="5.00" text-anchor="end" fill="#1a1a1a" textLength="2.80" lengthAdjust="spacingAndGlyphs" stroke="#1a1a1a" stroke-width="0.06">0</text>
<text x="26.60" y="447.94" font-size="5.00" text-anchor="end" fill="#1a1a1a" textLength="5.60" lengthAdjust="spacingAndGlyphs" stroke="#1a1a1a" stroke-width="0.06">20</text>
<text x="26.60" y="437.86" font-size="5.00" text-anchor="end" fill="#1a1a1a" textLength="5.60" lengthAdjust="spacingAndGlyphs" stroke="#1a1a1a" stroke-width="0.06">40</text>
<text x="26.60" y="427.78" font-size="5.00" text-anchor="end" fill="#1a1a1a" textLength="5.60" lengthAdjust="spacingAndGlyphs" stroke="#1a1a1a" stroke-width="0.06">60</text>
<text x="26.60" y="417.70" font-size="5.00" text-anchor="end" fill="#1a1a1a" textLength="5.60" lengthAdjust="spacingAndGlyphs" stroke="#1a1a1a" stroke-width="0.06">80</text>
<text x="26.60" y="407.62" font-size="5.00" text-anchor="end" fill="#1a1a1a" textLength="8.30" lengthAdjust="spacingAndGlyphs" stroke="#1a1a1a" stroke-width="0.06">100</text>
<rect x="46.42" y="456.80" width="4.27" height="1.50" fill="#000"/>
<path d="M29.70,456.30H32.00M29.70,446.22H32.00M29.70,436.14H32.00M29.70,426.06H32.00M29.70,415.98H32.00M29.70,405.90H32.00M34.94,456.80V458.70M48.55,456.80V458.70M61.37,456.80V458.70M73.39,456.80V458.70M84.33,456.80V458.70" stroke="#000" fill="none" stroke-width="0.9"/>
<path d="M30.70,454.28H32.00M30.70,452.27H32.00M30.70,450.25H32.00M30.70,448.24H32.00M30.70,444.20H32.00M30.70,442.19H32.00M30.70,440.17H32.00M30.70,438.16H32.00M30.70,434.12H32.00M30.70,432.11H32.00M30.70,430.09H32.00M30.70,428.08H32.00M30.70,424.04H32.00M30.70,422.03H32.00M30.70,420.01H32.00M30.70,418.00H32.00M30.70,413.96H32.00M30.70,411.95H32.00M30.70,409.93H32.00M30.70,407.92H32.00M64.99,456.80V458.00M67.10,456.80V458.00M68.60,456.80V458.00M69.77,456.80V458.00M70.72,456.80V458.00M71.52,456.80V458.00M72.22,456.80V458.00M72.84,456.80V458.00M76.68,456.80V458.00M78.61,456.80V458.00M79.98,456.80V458.00M81.04,456.80V458.00M81.90,456.80V458.00M82.64,456.80V458.00M83.27,456.80V458.00M83.83,456.80V458.00M44.45,456.80V458.00M42.06,456.80V458.00M40.36,456.80V458.00M39.04,456.80V458.00M37.96,456.80V458.00M37.05,456.80V458.00M36.26,456.80V458.00M35.56,456.80V458.00M52.41,456.80V458.00M54.67,456.80V458.00M56.27,456.80V458.00M57.51,456.80V458.00M58.53,456.80V458.00M59.38,456.80V458.00M60.13,456.80V458.00M60.78,456.80V458.00" stroke="#111" fill="none" stroke-width="0.55"/>
<text x="31.04" y="467.65" font-size="4.8" fill="#1a1a1a" stroke="#1a1a1a" stroke-width="0.12">-10<tspan font-size="2.9" dy="-1.7">4</tspan></text>
<text x="48.55" y="467.65" font-size="4.80" text-anchor="middle" fill="#1a1a1a" stroke="#1a1a1a" stroke-width="0.06">0</text>
<text x="58.22" y="467.65" font-size="4.8" fill="#1a1a1a" stroke="#1a1a1a" stroke-width="0.12">10<tspan font-size="2.9" dy="-1.7">4</tspan></text>
<text x="70.23" y="467.65" font-size="4.8" fill="#1a1a1a" stroke="#1a1a1a" stroke-width="0.12">10<tspan font-size="2.9" dy="-1.7">5</tspan></text>
<text x="81.08" y="467.65" font-size="4.8" fill="#1a1a1a" stroke="#1a1a1a" stroke-width="0.12">10<tspan font-size="2.9" dy="-1.7">6</tspan></text>
<text x="58.70" y="401.11" font-size="7.00" text-anchor="middle" fill="#111" textLength="12.00" lengthAdjust="spacingAndGlyphs" stroke="#111" stroke-width="0.08">SPL</text>
<path d="M132.38,456.26 L132.67,456.23 L132.97,456.17 L133.26,456.09 L133.56,455.94 L133.85,455.72 L134.15,455.37 L134.44,454.84 L134.74,454.05 L135.03,452.93 L135.33,451.37 L135.62,449.25 L135.92,446.48 L136.22,442.98 L136.51,438.76 L136.81,433.91 L137.10,428.66 L137.40,423.46 L137.69,419.01 L137.99,416.50 L138.28,417.95 L138.58,420.90 L138.88,424.57 L139.17,428.57 L139.47,432.60 L139.76,436.44 L140.06,439.98 L140.35,443.11 L140.65,445.83 L140.94,448.11 L141.24,450.00 L141.53,451.52 L141.83,452.73 L142.12,453.66 L142.42,454.38 L142.72,454.92 L143.01,455.32 L143.31,455.61 L143.60,455.83 L143.90,455.98 L144.19,456.08 L144.49,456.15 L144.78,456.20 L145.08,456.24 L145.38,456.26" stroke="#5b3a8a" fill="none" stroke-width="0.95" stroke-linejoin="round"/>
<path d="M132.38,456.26 L132.67,456.23 L132.97,456.18 L133.26,456.09 L133.56,455.95 L133.85,455.72 L134.15,455.38 L134.44,454.86 L134.74,454.08 L135.03,452.98 L135.33,451.43 L135.62,449.34 L135.92,446.60 L136.22,443.15 L136.51,438.98 L136.81,434.19 L137.10,429.01 L137.40,423.88 L137.69,419.48 L137.99,417.00 L138.28,418.44 L138.58,421.35 L138.88,424.98 L139.17,428.92 L139.47,432.90 L139.76,436.69 L140.06,440.18 L140.35,443.28 L140.65,445.96 L140.94,448.22 L141.24,450.08 L141.53,451.58 L141.83,452.77 L142.12,453.70 L142.42,454.41 L142.72,454.94 L143.01,455.33 L143.31,455.62 L143.60,455.83 L143.90,455.98 L144.19,456.08 L144.49,456.16 L144.78,456.20 L145.08,456.24 L145.38,456.26" stroke="#e09a2a" fill="none" stroke-width="0.95" stroke-linejoin="round"/>
<rect x="112.20" y="403.90" width="53.40" height="52.90" fill="none" stroke="#000" stroke-width="1.1"/>
<text x="106.80" y="458.02" font-size="5.00" text-anchor="end" fill="#1a1a1a" textLength="2.80" lengthAdjust="spacingAndGlyphs" stroke="#1a1a1a" stroke-width="0.06">0</text>
<text x="106.80" y="447.94" font-size="5.00" text-anchor="end" fill="#1a1a1a" textLength="5.60" lengthAdjust="spacingAndGlyphs" stroke="#1a1a1a" stroke-width="0.06">20</text>
<text x="106.80" y="437.86" font-size="5.00" text-anchor="end" fill="#1a1a1a" textLength="5.60" lengthAdjust="spacingAndGlyphs" stroke="#1a1a1a" stroke-width="0.06">40</text>
<text x="106.80" y="427.78" font-size="5.00" text-anchor="end" fill="#1a1a1a" textLength="5.60" lengthAdjust="spacingAndGlyphs" stroke="#1a1a1a" stroke-width="0.06">60</text>
<text x="106.80" y="417.70" font-size="5.00" text-anchor="end" fill="#1a1a1a" textLength="5.60" lengthAdjust="spacingAndGlyphs" stroke="#1a1a1a" stroke-width="0.06">80</text>
<text x="106.80" y="407.62" font-size="5.00" text-anchor="end" fill="#1a1a1a" textLength="8.30" lengthAdjust="spacingAndGlyphs" stroke="#1a1a1a" stroke-width="0.06">100</text>
<rect x="126.62" y="456.80" width="4.27" height="1.50" fill="#000"/>
<path d="M109.90,456.30H112.20M109.90,446.22H112.20M109.90,436.14H112.20M109.90,426.06H112.20M109.90,415.98H112.20M109.90,405.90H112.20M115.14,456.80V458.70M128.75,456.80V458.70M141.57,456.80V458.70M153.59,456.80V458.70M164.53,456.80V458.70" stroke="#000" fill="none" stroke-width="0.9"/>
<path d="M110.90,454.28H112.20M110.90,452.27H112.20M110.90,450.25H112.20M110.90,448.24H112.20M110.90,444.20H112.20M110.90,442.19H112.20M110.90,440.17H112.20M110.90,438.16H112.20M110.90,434.12H112.20M110.90,432.11H112.20M110.90,430.09H112.20M110.90,428.08H112.20M110.90,424.04H112.20M110.90,422.03H112.20M110.90,420.01H112.20M110.90,418.00H112.20M110.90,413.96H112.20M110.90,411.95H112.20M110.90,409.93H112.20M110.90,407.92H112.20M145.19,456.80V458.00M147.30,456.80V458.00M148.80,456.80V458.00M149.97,456.80V458.00M150.92,456.80V458.00M151.72,456.80V458.00M152.42,456.80V458.00M153.04,456.80V458.00M156.88,456.80V458.00M158.81,456.80V458.00M160.18,456.80V458.00M161.24,456.80V458.00M162.10,456.80V458.00M162.84,456.80V458.00M163.47,456.80V458.00M164.03,456.80V458.00M124.65,456.80V458.00M122.26,456.80V458.00M120.56,456.80V458.00M119.24,456.80V458.00M118.16,456.80V458.00M117.25,456.80V458.00M116.46,456.80V458.00M115.76,456.80V458.00M132.61,456.80V458.00M134.87,456.80V458.00M136.47,456.80V458.00M137.71,456.80V458.00M138.73,456.80V458.00M139.58,456.80V458.00M140.33,456.80V458.00M140.98,456.80V458.00" stroke="#111" fill="none" stroke-width="0.55"/>
<text x="111.24" y="467.65" font-size="4.8" fill="#1a1a1a" stroke="#1a1a1a" stroke-width="0.12">-10<tspan font-size="2.9" dy="-1.7">4</tspan></text>
<text x="128.75" y="467.65" font-size="4.80" text-anchor="middle" fill="#1a1a1a" stroke="#1a1a1a" stroke-width="0.06">0</text>
<text x="138.42" y="467.65" font-size="4.8" fill="#1a1a1a" stroke="#1a1a1a" stroke-width="0.12">10<tspan font-size="2.9" dy="-1.7">4</tspan></text>
<text x="150.44" y="467.65" font-size="4.8" fill="#1a1a1a" stroke="#1a1a1a" stroke-width="0.12">10<tspan font-size="2.9" dy="-1.7">5</tspan></text>
<text x="161.28" y="467.65" font-size="4.8" fill="#1a1a1a" stroke="#1a1a1a" stroke-width="0.12">10<tspan font-size="2.9" dy="-1.7">6</tspan></text>
<text x="138.90" y="401.11" font-size="7.00" text-anchor="middle" fill="#111" textLength="19.50" lengthAdjust="spacingAndGlyphs" stroke="#111" stroke-width="0.08">Colon</text>
<path d="M55.80,541.75 L56.01,541.72 L56.21,541.66 L56.42,541.58 L56.63,541.46 L56.84,541.26 L57.04,540.98 L57.25,540.56 L57.46,539.97 L57.67,539.13 L57.87,537.98 L58.08,536.43 L58.29,534.39 L58.50,531.76 L58.70,528.48 L58.91,524.50 L59.12,519.82 L59.33,514.55 L59.53,508.87 L59.74,503.14 L59.95,497.85 L60.16,493.78 L60.36,492.75 L60.57,495.88 L60.78,500.61 L60.98,506.06 L61.19,511.67 L61.40,517.04 L61.61,521.93 L61.81,526.20 L62.02,529.80 L62.23,532.75 L62.44,535.11 L62.64,536.94 L62.85,538.33 L63.06,539.36 L63.27,540.12 L63.47,540.66 L63.68,541.03 L63.89,541.29 L64.10,541.47 L64.30,541.59 L64.51,541.67 L64.72,541.72 L64.92,541.75" stroke="#5b3a8a" fill="none" stroke-width="0.95" stroke-linejoin="round"/>
<path d="M55.90,541.75 L56.11,541.72 L56.31,541.66 L56.52,541.58 L56.73,541.46 L56.94,541.26 L57.14,540.98 L57.35,540.56 L57.56,539.97 L57.77,539.13 L57.97,537.98 L58.18,536.43 L58.39,534.39 L58.60,531.76 L58.80,528.48 L59.01,524.50 L59.22,519.82 L59.43,514.55 L59.63,508.87 L59.84,503.14 L60.05,497.85 L60.26,493.78 L60.46,492.75 L60.67,495.88 L60.88,500.61 L61.08,506.06 L61.29,511.67 L61.50,517.04 L61.71,521.93 L61.91,526.20 L62.12,529.80 L62.33,532.75 L62.54,535.11 L62.74,536.94 L62.95,538.33 L63.16,539.36 L63.37,540.12 L63.57,540.66 L63.78,541.03 L63.99,541.29 L64.20,541.47 L64.40,541.59 L64.61,541.67 L64.82,541.72 L65.03,541.75" stroke="#e09a2a" fill="none" stroke-width="0.95" stroke-linejoin="round"/>
<rect x="32.00" y="489.40" width="53.40" height="52.90" fill="none" stroke="#000" stroke-width="1.1"/>
<text x="26.60" y="543.52" font-size="5.00" text-anchor="end" fill="#1a1a1a" textLength="2.80" lengthAdjust="spacingAndGlyphs" stroke="#1a1a1a" stroke-width="0.06">0</text>
<text x="26.60" y="533.44" font-size="5.00" text-anchor="end" fill="#1a1a1a" textLength="5.60" lengthAdjust="spacingAndGlyphs" stroke="#1a1a1a" stroke-width="0.06">20</text>
<text x="26.60" y="523.36" font-size="5.00" text-anchor="end" fill="#1a1a1a" textLength="5.60" lengthAdjust="spacingAndGlyphs" stroke="#1a1a1a" stroke-width="0.06">40</text>
<text x="26.60" y="513.28" font-size="5.00" text-anchor="end" fill="#1a1a1a" textLength="5.60" lengthAdjust="spacingAndGlyphs" stroke="#1a1a1a" stroke-width="0.06">60</text>
<text x="26.60" y="503.20" font-size="5.00" text-anchor="end" fill="#1a1a1a" textLength="5.60" lengthAdjust="spacingAndGlyphs" stroke="#1a1a1a" stroke-width="0.06">80</text>
<text x="26.60" y="493.12" font-size="5.00" text-anchor="end" fill="#1a1a1a" textLength="8.30" lengthAdjust="spacingAndGlyphs" stroke="#1a1a1a" stroke-width="0.06">100</text>
<path d="M29.70,541.80H32.00M29.70,531.72H32.00M29.70,521.64H32.00M29.70,511.56H32.00M29.70,501.48H32.00M29.70,491.40H32.00M32.00,542.30V544.20M40.90,542.30V544.20M49.80,542.30V544.20M58.70,542.30V544.20M67.60,542.30V544.20M76.50,542.30V544.20M85.40,542.30V544.20" stroke="#000" fill="none" stroke-width="0.9"/>
<path d="M30.70,539.78H32.00M30.70,537.77H32.00M30.70,535.75H32.00M30.70,533.74H32.00M30.70,529.70H32.00M30.70,527.69H32.00M30.70,525.67H32.00M30.70,523.66H32.00M30.70,519.62H32.00M30.70,517.61H32.00M30.70,515.59H32.00M30.70,513.58H32.00M30.70,509.54H32.00M30.70,507.53H32.00M30.70,505.51H32.00M30.70,503.50H32.00M30.70,499.46H32.00M30.70,497.45H32.00M30.70,495.43H32.00M30.70,493.42H32.00M34.68,542.30V543.50M36.25,542.30V543.50M37.36,542.30V543.50M38.22,542.30V543.50M38.93,542.30V543.50M39.52,542.30V543.50M40.04,542.30V543.50M40.49,542.30V543.50M43.58,542.30V543.50M45.15,542.30V543.50M46.26,542.30V543.50M47.12,542.30V543.50M47.83,542.30V543.50M48.42,542.30V543.50M48.94,542.30V543.50M49.39,542.30V543.50M52.48,542.30V543.50M54.05,542.30V543.50M55.16,542.30V543.50M56.02,542.30V543.50M56.73,542.30V543.50M57.32,542.30V543.50M57.84,542.30V543.50M58.29,542.30V543.50M61.38,542.30V543.50M62.95,542.30V543.50M64.06,542.30V543.50M64.92,542.30V543.50M65.63,542.30V543.50M66.22,542.30V543.50M66.74,542.30V543.50M67.19,542.30V543.50M70.28,542.30V543.50M71.85,542.30V543.50M72.96,542.30V543.50M73.82,542.30V543.50M74.53,542.30V543.50M75.12,542.30V543.50M75.64,542.30V543.50M76.09,542.30V543.50M79.18,542.30V543.50M80.75,542.30V543.50M81.86,542.30V543.50M82.72,542.30V543.50M83.43,542.30V543.50M84.02,542.30V543.50M84.54,542.30V543.50M84.99,542.30V543.50" stroke="#111" fill="none" stroke-width="0.55"/>
<text x="28.00" y="553.15" font-size="4.8" fill="#1a1a1a" stroke="#1a1a1a" stroke-width="0.12">10<tspan font-size="2.9" dy="-1.7">0</tspan></text>
<text x="36.90" y="553.15" font-size="4.8" fill="#1a1a1a" stroke="#1a1a1a" stroke-width="0.12">10<tspan font-size="2.9" dy="-1.7">1</tspan></text>
<text x="45.80" y="553.15" font-size="4.8" fill="#1a1a1a" stroke="#1a1a1a" stroke-width="0.12">10<tspan font-size="2.9" dy="-1.7">2</tspan></text>
<text x="54.70" y="553.15" font-size="4.8" fill="#1a1a1a" stroke="#1a1a1a" stroke-width="0.12">10<tspan font-size="2.9" dy="-1.7">3</tspan></text>
<text x="63.60" y="553.15" font-size="4.8" fill="#1a1a1a" stroke="#1a1a1a" stroke-width="0.12">10<tspan font-size="2.9" dy="-1.7">4</tspan></text>
<text x="72.50" y="553.15" font-size="4.8" fill="#1a1a1a" stroke="#1a1a1a" stroke-width="0.12">10<tspan font-size="2.9" dy="-1.7">5</tspan></text>
<text x="81.40" y="553.15" font-size="4.8" fill="#1a1a1a" stroke="#1a1a1a" stroke-width="0.12">10<tspan font-size="2.9" dy="-1.7">6</tspan></text>
<path d="M138.20,541.76 L138.40,541.73 L138.61,541.68 L138.81,541.61 L139.02,541.50 L139.22,541.34 L139.43,541.10 L139.63,540.76 L139.84,540.26 L140.04,539.56 L140.25,538.61 L140.45,537.32 L140.65,535.62 L140.86,533.44 L141.06,530.71 L141.27,527.39 L141.47,523.46 L141.68,519.00 L141.88,514.15 L142.09,509.17 L142.29,504.43 L142.50,500.53 L142.70,498.46 L142.90,500.53 L143.11,504.43 L143.31,509.17 L143.52,514.15 L143.72,519.00 L143.93,523.46 L144.13,527.39 L144.34,530.71 L144.54,533.44 L144.75,535.62 L144.95,537.32 L145.15,538.61 L145.36,539.56 L145.56,540.26 L145.77,540.76 L145.97,541.10 L146.18,541.34 L146.38,541.50 L146.59,541.61 L146.79,541.68 L147.00,541.73 L147.20,541.76" stroke="#5b3a8a" fill="none" stroke-width="0.95" stroke-linejoin="round"/>
<path d="M138.30,541.76 L138.50,541.73 L138.71,541.68 L138.91,541.61 L139.12,541.50 L139.32,541.34 L139.53,541.10 L139.73,540.76 L139.94,540.26 L140.14,539.56 L140.35,538.61 L140.55,537.32 L140.75,535.62 L140.96,533.44 L141.16,530.71 L141.37,527.39 L141.57,523.46 L141.78,519.00 L141.98,514.15 L142.19,509.17 L142.39,504.43 L142.60,500.53 L142.80,498.46 L143.00,500.53 L143.21,504.43 L143.41,509.17 L143.62,514.15 L143.82,519.00 L144.03,523.46 L144.23,527.39 L144.44,530.71 L144.64,533.44 L144.85,535.62 L145.05,537.32 L145.25,538.61 L145.46,539.56 L145.66,540.26 L145.87,540.76 L146.07,541.10 L146.28,541.34 L146.48,541.50 L146.69,541.61 L146.89,541.68 L147.10,541.73 L147.30,541.76" stroke="#e09a2a" fill="none" stroke-width="0.95" stroke-linejoin="round"/>
<rect x="112.20" y="489.40" width="53.40" height="52.90" fill="none" stroke="#000" stroke-width="1.1"/>
<text x="106.80" y="543.52" font-size="5.00" text-anchor="end" fill="#1a1a1a" textLength="2.80" lengthAdjust="spacingAndGlyphs" stroke="#1a1a1a" stroke-width="0.06">0</text>
<text x="106.80" y="533.44" font-size="5.00" text-anchor="end" fill="#1a1a1a" textLength="5.60" lengthAdjust="spacingAndGlyphs" stroke="#1a1a1a" stroke-width="0.06">20</text>
<text x="106.80" y="523.36" font-size="5.00" text-anchor="end" fill="#1a1a1a" textLength="5.60" lengthAdjust="spacingAndGlyphs" stroke="#1a1a1a" stroke-width="0.06">40</text>
<text x="106.80" y="513.28" font-size="5.00" text-anchor="end" fill="#1a1a1a" textLength="5.60" lengthAdjust="spacingAndGlyphs" stroke="#1a1a1a" stroke-width="0.06">60</text>
<text x="106.80" y="503.20" font-size="5.00" text-anchor="end" fill="#1a1a1a" textLength="5.60" lengthAdjust="spacingAndGlyphs" stroke="#1a1a1a" stroke-width="0.06">80</text>
<text x="106.80" y="493.12" font-size="5.00" text-anchor="end" fill="#1a1a1a" textLength="8.30" lengthAdjust="spacingAndGlyphs" stroke="#1a1a1a" stroke-width="0.06">100</text>
<path d="M109.90,541.80H112.20M109.90,531.72H112.20M109.90,521.64H112.20M109.90,511.56H112.20M109.90,501.48H112.20M109.90,491.40H112.20M112.20,542.30V544.20M121.10,542.30V544.20M130.00,542.30V544.20M138.90,542.30V544.20M147.80,542.30V544.20M156.70,542.30V544.20M165.60,542.30V544.20" stroke="#000" fill="none" stroke-width="0.9"/>
<path d="M110.90,539.78H112.20M110.90,537.77H112.20M110.90,535.75H112.20M110.90,533.74H112.20M110.90,529.70H112.20M110.90,527.69H112.20M110.90,525.67H112.20M110.90,523.66H112.20M110.90,519.62H112.20M110.90,517.61H112.20M110.90,515.59H112.20M110.90,513.58H112.20M110.90,509.54H112.20M110.90,507.53H112.20M110.90,505.51H112.20M110.90,503.50H112.20M110.90,499.46H112.20M110.90,497.45H112.20M110.90,495.43H112.20M110.90,493.42H112.20M114.88,542.30V543.50M116.45,542.30V543.50M117.56,542.30V543.50M118.42,542.30V543.50M119.13,542.30V543.50M119.72,542.30V543.50M120.24,542.30V543.50M120.69,542.30V543.50M123.78,542.30V543.50M125.35,542.30V543.50M126.46,542.30V543.50M127.32,542.30V543.50M128.03,542.30V543.50M128.62,542.30V543.50M129.14,542.30V543.50M129.59,542.30V543.50M132.68,542.30V543.50M134.25,542.30V543.50M135.36,542.30V543.50M136.22,542.30V543.50M136.93,542.30V543.50M137.52,542.30V543.50M138.04,542.30V543.50M138.49,542.30V543.50M141.58,542.30V543.50M143.15,542.30V543.50M144.26,542.30V543.50M145.12,542.30V543.50M145.83,542.30V543.50M146.42,542.30V543.50M146.94,542.30V543.50M147.39,542.30V543.50M150.48,542.30V543.50M152.05,542.30V543.50M153.16,542.30V543.50M154.02,542.30V543.50M154.73,542.30V543.50M155.32,542.30V543.50M155.84,542.30V543.50M156.29,542.30V543.50M159.38,542.30V543.50M160.95,542.30V543.50M162.06,542.30V543.50M162.92,542.30V543.50M163.63,542.30V543.50M164.22,542.30V543.50M164.74,542.30V543.50M165.19,542.30V543.50" stroke="#111" fill="none" stroke-width="0.55"/>
<text x="108.20" y="553.15" font-size="4.8" fill="#1a1a1a" stroke="#1a1a1a" stroke-width="0.12">10<tspan font-size="2.9" dy="-1.7">0</tspan></text>
<text x="117.10" y="553.15" font-size="4.8" fill="#1a1a1a" stroke="#1a1a1a" stroke-width="0.12">10<tspan font-size="2.9" dy="-1.7">1</tspan></text>
<text x="126.00" y="553.15" font-size="4.8" fill="#1a1a1a" stroke="#1a1a1a" stroke-width="0.12">10<tspan font-size="2.9" dy="-1.7">2</tspan></text>
<text x="134.90" y="553.15" font-size="4.8" fill="#1a1a1a" stroke="#1a1a1a" stroke-width="0.12">10<tspan font-size="2.9" dy="-1.7">3</tspan></text>
<text x="143.80" y="553.15" font-size="4.8" fill="#1a1a1a" stroke="#1a1a1a" stroke-width="0.12">10<tspan font-size="2.9" dy="-1.7">4</tspan></text>
<text x="152.70" y="553.15" font-size="4.8" fill="#1a1a1a" stroke="#1a1a1a" stroke-width="0.12">10<tspan font-size="2.9" dy="-1.7">5</tspan></text>
<text x="161.60" y="553.15" font-size="4.8" fill="#1a1a1a" stroke="#1a1a1a" stroke-width="0.12">10<tspan font-size="2.9" dy="-1.7">6</tspan></text>
<path d="M316.50,456.25 L316.78,456.20 L317.06,456.13 L317.34,456.00 L317.62,455.78 L317.91,455.43 L318.19,454.87 L318.47,454.00 L318.75,452.71 L319.03,450.85 L319.31,448.24 L319.59,444.72 L319.88,440.16 L320.16,434.55 L320.44,428.00 L320.72,420.88 L321.00,413.90 L321.28,408.17 L321.56,406.07 L321.84,408.40 L322.12,412.16 L322.41,416.66 L322.69,421.49 L322.97,426.34 L323.25,430.98 L323.53,435.27 L323.81,439.11 L324.09,442.46 L324.38,445.32 L324.66,447.71 L324.94,449.67 L325.22,451.25 L325.50,452.50 L325.78,453.47 L326.06,454.22 L326.34,454.79 L326.62,455.22 L326.91,455.53 L327.19,455.76 L327.47,455.93 L327.75,456.04 L328.03,456.13 L328.31,456.18 L328.59,456.22 L328.88,456.25" stroke="#2f4f9c" fill="none" stroke-width="0.95" stroke-linejoin="round"/>
<path d="M317.38,456.25 L317.68,456.21 L317.99,456.14 L318.30,456.02 L318.61,455.82 L318.92,455.51 L319.23,455.01 L319.54,454.24 L319.85,453.10 L320.16,451.46 L320.47,449.16 L320.78,446.06 L321.09,442.03 L321.40,437.01 L321.71,431.09 L322.02,424.51 L322.33,417.81 L322.64,411.85 L322.95,408.10 L323.26,409.27 L323.57,412.52 L323.88,416.70 L324.19,421.34 L324.50,426.09 L324.81,430.69 L325.12,434.98 L325.43,438.84 L325.74,442.24 L326.05,445.14 L326.36,447.57 L326.66,449.57 L326.97,451.18 L327.28,452.45 L327.59,453.45 L327.90,454.21 L328.21,454.79 L328.52,455.22 L328.83,455.54 L329.14,455.77 L329.45,455.93 L329.76,456.05 L330.07,456.13 L330.38,456.19 L330.69,456.22 L331.00,456.25" stroke="#e09a2a" fill="none" stroke-width="0.95" stroke-linejoin="round"/>
<rect x="298.80" y="403.90" width="53.40" height="52.90" fill="none" stroke="#000" stroke-width="1.1"/>
<text x="293.40" y="458.02" font-size="5.00" text-anchor="end" fill="#1a1a1a" textLength="2.80" lengthAdjust="spacingAndGlyphs" stroke="#1a1a1a" stroke-width="0.06">0</text>
<text x="293.40" y="447.94" font-size="5.00" text-anchor="end" fill="#1a1a1a" textLength="5.60" lengthAdjust="spacingAndGlyphs" stroke="#1a1a1a" stroke-width="0.06">20</text>
<text x="293.40" y="437.86" font-size="5.00" text-anchor="end" fill="#1a1a1a" textLength="5.60" lengthAdjust="spacingAndGlyphs" stroke="#1a1a1a" stroke-width="0.06">40</text>
<text x="293.40" y="427.78" font-size="5.00" text-anchor="end" fill="#1a1a1a" textLength="5.60" lengthAdjust="spacingAndGlyphs" stroke="#1a1a1a" stroke-width="0.06">60</text>
<text x="293.40" y="417.70" font-size="5.00" text-anchor="end" fill="#1a1a1a" textLength="5.60" lengthAdjust="spacingAndGlyphs" stroke="#1a1a1a" stroke-width="0.06">80</text>
<text x="293.40" y="407.62" font-size="5.00" text-anchor="end" fill="#1a1a1a" textLength="8.30" lengthAdjust="spacingAndGlyphs" stroke="#1a1a1a" stroke-width="0.06">100</text>
<rect x="313.22" y="456.80" width="4.27" height="1.50" fill="#000"/>
<path d="M296.50,456.30H298.80M296.50,446.22H298.80M296.50,436.14H298.80M296.50,426.06H298.80M296.50,415.98H298.80M296.50,405.90H298.80M301.74,456.80V458.70M315.35,456.80V458.70M328.17,456.80V458.70M340.19,456.80V458.70M351.13,456.80V458.70" stroke="#000" fill="none" stroke-width="0.9"/>
<path d="M297.50,454.28H298.80M297.50,452.27H298.80M297.50,450.25H298.80M297.50,448.24H298.80M297.50,444.20H298.80M297.50,442.19H298.80M297.50,440.17H298.80M297.50,438.16H298.80M297.50,434.12H298.80M297.50,432.11H298.80M297.50,430.09H298.80M297.50,428.08H298.80M297.50,424.04H298.80M297.50,422.03H298.80M297.50,420.01H298.80M297.50,418.00H298.80M297.50,413.96H298.80M297.50,411.95H298.80M297.50,409.93H298.80M297.50,407.92H298.80M331.79,456.80V458.00M333.90,456.80V458.00M335.40,456.80V458.00M336.57,456.80V458.00M337.52,456.80V458.00M338.32,456.80V458.00M339.02,456.80V458.00M339.64,456.80V458.00M343.48,456.80V458.00M345.41,456.80V458.00M346.78,456.80V458.00M347.84,456.80V458.00M348.70,456.80V458.00M349.44,456.80V458.00M350.07,456.80V458.00M350.63,456.80V458.00M311.25,456.80V458.00M308.86,456.80V458.00M307.16,456.80V458.00M305.84,456.80V458.00M304.76,456.80V458.00M303.85,456.80V458.00M303.06,456.80V458.00M302.36,456.80V458.00M319.21,456.80V458.00M321.47,456.80V458.00M323.07,456.80V458.00M324.31,456.80V458.00M325.33,456.80V458.00M326.18,456.80V458.00M326.93,456.80V458.00M327.58,456.80V458.00" stroke="#111" fill="none" stroke-width="0.55"/>
<text x="297.84" y="467.65" font-size="4.8" fill="#1a1a1a" stroke="#1a1a1a" stroke-width="0.12">-10<tspan font-size="2.9" dy="-1.7">4</tspan></text>
<text x="315.35" y="467.65" font-size="4.80" text-anchor="middle" fill="#1a1a1a" stroke="#1a1a1a" stroke-width="0.06">0</text>
<text x="325.02" y="467.65" font-size="4.8" fill="#1a1a1a" stroke="#1a1a1a" stroke-width="0.12">10<tspan font-size="2.9" dy="-1.7">4</tspan></text>
<text x="337.04" y="467.65" font-size="4.8" fill="#1a1a1a" stroke="#1a1a1a" stroke-width="0.12">10<tspan font-size="2.9" dy="-1.7">5</tspan></text>
<text x="347.88" y="467.65" font-size="4.8" fill="#1a1a1a" stroke="#1a1a1a" stroke-width="0.12">10<tspan font-size="2.9" dy="-1.7">6</tspan></text>
<text x="325.50" y="401.11" font-size="7.00" text-anchor="middle" fill="#111" textLength="12.00" lengthAdjust="spacingAndGlyphs" stroke="#111" stroke-width="0.08">SPL</text>
<path d="M397.88,456.26 L398.14,456.23 L398.41,456.19 L398.68,456.12 L398.95,456.00 L399.22,455.83 L399.49,455.58 L399.76,455.20 L400.03,454.65 L400.30,453.87 L400.57,452.80 L400.84,451.34 L401.11,449.43 L401.38,446.98 L401.65,443.94 L401.92,440.30 L402.19,436.10 L402.46,431.48 L402.73,426.70 L403.00,422.19 L403.27,418.55 L403.54,417.08 L403.81,419.17 L404.08,422.61 L404.35,426.70 L404.62,431.00 L404.89,435.20 L405.16,439.09 L405.43,442.56 L405.70,445.54 L405.97,448.03 L406.24,450.06 L406.51,451.67 L406.78,452.92 L407.05,453.87 L407.32,454.58 L407.59,455.10 L407.86,455.48 L408.13,455.74 L408.40,455.93 L408.67,456.06 L408.94,456.14 L409.21,456.20 L409.48,456.24 L409.75,456.26" stroke="#2f4f9c" fill="none" stroke-width="0.95" stroke-linejoin="round"/>
<path d="M398.50,456.26 L398.81,456.24 L399.12,456.20 L399.44,456.15 L399.75,456.08 L400.06,455.96 L400.38,455.80 L400.69,455.57 L401.00,455.25 L401.31,454.80 L401.62,454.20 L401.94,453.39 L402.25,452.34 L402.56,450.98 L402.88,449.27 L403.19,447.15 L403.50,444.60 L403.81,441.60 L404.12,438.18 L404.44,434.40 L404.75,430.40 L405.06,426.38 L405.38,422.63 L405.69,419.59 L406.00,418.00 L406.31,420.12 L406.62,424.07 L406.94,428.78 L407.25,433.61 L407.56,438.18 L407.88,442.24 L408.19,445.67 L408.50,448.47 L408.81,450.67 L409.12,452.34 L409.44,453.57 L409.75,454.46 L410.06,455.09 L410.38,455.51 L410.69,455.80 L411.00,455.99 L411.31,456.11 L411.62,456.19 L411.94,456.23 L412.25,456.26" stroke="#e09a2a" fill="none" stroke-width="0.95" stroke-linejoin="round"/>
<rect x="378.70" y="403.90" width="53.40" height="52.90" fill="none" stroke="#000" stroke-width="1.1"/>
<text x="373.30" y="458.02" font-size="5.00" text-anchor="end" fill="#1a1a1a" textLength="2.80" lengthAdjust="spacingAndGlyphs" stroke="#1a1a1a" stroke-width="0.06">0</text>
<text x="373.30" y="447.94" font-size="5.00" text-anchor="end" fill="#1a1a1a" textLength="5.60" lengthAdjust="spacingAndGlyphs" stroke="#1a1a1a" stroke-width="0.06">20</text>
<text x="373.30" y="437.86" font-size="5.00" text-anchor="end" fill="#1a1a1a" textLength="5.60" lengthAdjust="spacingAndGlyphs" stroke="#1a1a1a" stroke-width="0.06">40</text>
<text x="373.30" y="427.78" font-size="5.00" text-anchor="end" fill="#1a1a1a" textLength="5.60" lengthAdjust="spacingAndGlyphs" stroke="#1a1a1a" stroke-width="0.06">60</text>
<text x="373.30" y="417.70" font-size="5.00" text-anchor="end" fill="#1a1a1a" textLength="5.60" lengthAdjust="spacingAndGlyphs" stroke="#1a1a1a" stroke-width="0.06">80</text>
<text x="373.30" y="407.62" font-size="5.00" text-anchor="end" fill="#1a1a1a" textLength="8.30" lengthAdjust="spacingAndGlyphs" stroke="#1a1a1a" stroke-width="0.06">100</text>
<rect x="393.12" y="456.80" width="4.27" height="1.50" fill="#000"/>
<path d="M376.40,456.30H378.70M376.40,446.22H378.70M376.40,436.14H378.70M376.40,426.06H378.70M376.40,415.98H378.70M376.40,405.90H378.70M381.64,456.80V458.70M395.25,456.80V458.70M408.07,456.80V458.70M420.08,456.80V458.70M431.03,456.80V458.70" stroke="#000" fill="none" stroke-width="0.9"/>
<path d="M377.40,454.28H378.70M377.40,452.27H378.70M377.40,450.25H378.70M377.40,448.24H378.70M377.40,444.20H378.70M377.40,442.19H378.70M377.40,440.17H378.70M377.40,438.16H378.70M377.40,434.12H378.70M377.40,432.11H378.70M377.40,430.09H378.70M377.40,428.08H378.70M377.40,424.04H378.70M377.40,422.03H378.70M377.40,420.01H378.70M377.40,418.00H378.70M377.40,413.96H378.70M377.40,411.95H378.70M377.40,409.93H378.70M377.40,407.92H378.70M411.69,456.80V458.00M413.80,456.80V458.00M415.30,456.80V458.00M416.47,456.80V458.00M417.42,456.80V458.00M418.22,456.80V458.00M418.92,456.80V458.00M419.54,456.80V458.00M423.38,456.80V458.00M425.31,456.80V458.00M426.68,456.80V458.00M427.74,456.80V458.00M428.60,456.80V458.00M429.34,456.80V458.00M429.97,456.80V458.00M430.53,456.80V458.00M391.15,456.80V458.00M388.76,456.80V458.00M387.06,456.80V458.00M385.74,456.80V458.00M384.66,456.80V458.00M383.75,456.80V458.00M382.96,456.80V458.00M382.26,456.80V458.00M399.11,456.80V458.00M401.37,456.80V458.00M402.97,456.80V458.00M404.21,456.80V458.00M405.23,456.80V458.00M406.08,456.80V458.00M406.83,456.80V458.00M407.48,456.80V458.00" stroke="#111" fill="none" stroke-width="0.55"/>
<text x="377.74" y="467.65" font-size="4.8" fill="#1a1a1a" stroke="#1a1a1a" stroke-width="0.12">-10<tspan font-size="2.9" dy="-1.7">4</tspan></text>
<text x="395.25" y="467.65" font-size="4.80" text-anchor="middle" fill="#1a1a1a" stroke="#1a1a1a" stroke-width="0.06">0</text>
<text x="404.92" y="467.65" font-size="4.8" fill="#1a1a1a" stroke="#1a1a1a" stroke-width="0.12">10<tspan font-size="2.9" dy="-1.7">4</tspan></text>
<text x="416.94" y="467.65" font-size="4.8" fill="#1a1a1a" stroke="#1a1a1a" stroke-width="0.12">10<tspan font-size="2.9" dy="-1.7">5</tspan></text>
<text x="427.78" y="467.65" font-size="4.8" fill="#1a1a1a" stroke="#1a1a1a" stroke-width="0.12">10<tspan font-size="2.9" dy="-1.7">6</tspan></text>
<text x="405.40" y="401.11" font-size="7.00" text-anchor="middle" fill="#111" textLength="19.50" lengthAdjust="spacingAndGlyphs" stroke="#111" stroke-width="0.08">Colon</text>
<path d="M322.23,541.75 L322.45,541.72 L322.67,541.67 L322.90,541.61 L323.12,541.51 L323.35,541.36 L323.57,541.15 L323.80,540.84 L324.02,540.42 L324.24,539.84 L324.47,539.05 L324.69,537.99 L324.92,536.60 L325.14,534.82 L325.37,532.56 L325.59,529.79 L325.82,526.44 L326.04,522.50 L326.26,518.02 L326.49,513.07 L326.71,507.84 L326.94,502.59 L327.16,497.74 L327.39,493.83 L327.61,491.93 L327.84,494.88 L328.06,500.09 L328.28,506.22 L328.51,512.50 L328.73,518.41 L328.96,523.65 L329.18,528.09 L329.41,531.70 L329.63,534.53 L329.86,536.69 L330.08,538.28 L330.30,539.43 L330.53,540.23 L330.75,540.78 L330.98,541.15 L331.20,541.40 L331.43,541.55 L331.65,541.65 L331.88,541.71 L332.10,541.75" stroke="#2f4f9c" fill="none" stroke-width="0.95" stroke-linejoin="round"/>
<path d="M322.52,541.75 L322.75,541.72 L322.97,541.67 L323.20,541.60 L323.42,541.50 L323.65,541.35 L323.87,541.14 L324.10,540.84 L324.32,540.41 L324.54,539.82 L324.77,539.02 L324.99,537.95 L325.22,536.55 L325.44,534.74 L325.67,532.47 L325.89,529.66 L326.12,526.28 L326.34,522.31 L326.56,517.77 L326.79,512.78 L327.01,507.49 L327.24,502.20 L327.46,497.29 L327.69,493.34 L327.91,491.42 L328.14,494.40 L328.36,499.66 L328.58,505.86 L328.81,512.20 L329.03,518.17 L329.26,523.47 L329.48,527.95 L329.71,531.60 L329.93,534.46 L330.16,536.64 L330.38,538.24 L330.60,539.40 L330.83,540.22 L331.05,540.77 L331.28,541.15 L331.50,541.39 L331.73,541.55 L331.95,541.65 L332.18,541.71 L332.40,541.75" stroke="#e09a2a" fill="none" stroke-width="0.95" stroke-linejoin="round"/>
<rect x="298.80" y="489.40" width="53.40" height="52.90" fill="none" stroke="#000" stroke-width="1.1"/>
<text x="293.40" y="543.52" font-size="5.00" text-anchor="end" fill="#1a1a1a" textLength="2.80" lengthAdjust="spacingAndGlyphs" stroke="#1a1a1a" stroke-width="0.06">0</text>
<text x="293.40" y="533.44" font-size="5.00" text-anchor="end" fill="#1a1a1a" textLength="5.60" lengthAdjust="spacingAndGlyphs" stroke="#1a1a1a" stroke-width="0.06">20</text>
<text x="293.40" y="523.36" font-size="5.00" text-anchor="end" fill="#1a1a1a" textLength="5.60" lengthAdjust="spacingAndGlyphs" stroke="#1a1a1a" stroke-width="0.06">40</text>
<text x="293.40" y="513.28" font-size="5.00" text-anchor="end" fill="#1a1a1a" textLength="5.60" lengthAdjust="spacingAndGlyphs" stroke="#1a1a1a" stroke-width="0.06">60</text>
<text x="293.40" y="503.20" font-size="5.00" text-anchor="end" fill="#1a1a1a" textLength="5.60" lengthAdjust="spacingAndGlyphs" stroke="#1a1a1a" stroke-width="0.06">80</text>
<text x="293.40" y="493.12" font-size="5.00" text-anchor="end" fill="#1a1a1a" textLength="8.30" lengthAdjust="spacingAndGlyphs" stroke="#1a1a1a" stroke-width="0.06">100</text>
<path d="M296.50,541.80H298.80M296.50,531.72H298.80M296.50,521.64H298.80M296.50,511.56H298.80M296.50,501.48H298.80M296.50,491.40H298.80M298.80,542.30V544.20M307.70,542.30V544.20M316.60,542.30V544.20M325.50,542.30V544.20M334.40,542.30V544.20M343.30,542.30V544.20M352.20,542.30V544.20" stroke="#000" fill="none" stroke-width="0.9"/>
<path d="M297.50,539.78H298.80M297.50,537.77H298.80M297.50,535.75H298.80M297.50,533.74H298.80M297.50,529.70H298.80M297.50,527.69H298.80M297.50,525.67H298.80M297.50,523.66H298.80M297.50,519.62H298.80M297.50,517.61H298.80M297.50,515.59H298.80M297.50,513.58H298.80M297.50,509.54H298.80M297.50,507.53H298.80M297.50,505.51H298.80M297.50,503.50H298.80M297.50,499.46H298.80M297.50,497.45H298.80M297.50,495.43H298.80M297.50,493.42H298.80M301.48,542.30V543.50M303.05,542.30V543.50M304.16,542.30V543.50M305.02,542.30V543.50M305.73,542.30V543.50M306.32,542.30V543.50M306.84,542.30V543.50M307.29,542.30V543.50M310.38,542.30V543.50M311.95,542.30V543.50M313.06,542.30V543.50M313.92,542.30V543.50M314.63,542.30V543.50M315.22,542.30V543.50M315.74,542.30V543.50M316.19,542.30V543.50M319.28,542.30V543.50M320.85,542.30V543.50M321.96,542.30V543.50M322.82,542.30V543.50M323.53,542.30V543.50M324.12,542.30V543.50M324.64,542.30V543.50M325.09,542.30V543.50M328.18,542.30V543.50M329.75,542.30V543.50M330.86,542.30V543.50M331.72,542.30V543.50M332.43,542.30V543.50M333.02,542.30V543.50M333.54,542.30V543.50M333.99,542.30V543.50M337.08,542.30V543.50M338.65,542.30V543.50M339.76,542.30V543.50M340.62,542.30V543.50M341.33,542.30V543.50M341.92,542.30V543.50M342.44,542.30V543.50M342.89,542.30V543.50M345.98,542.30V543.50M347.55,542.30V543.50M348.66,542.30V543.50M349.52,542.30V543.50M350.23,542.30V543.50M350.82,542.30V543.50M351.34,542.30V543.50M351.79,542.30V543.50" stroke="#111" fill="none" stroke-width="0.55"/>
<text x="294.80" y="553.15" font-size="4.8" fill="#1a1a1a" stroke="#1a1a1a" stroke-width="0.12">10<tspan font-size="2.9" dy="-1.7">0</tspan></text>
<text x="303.70" y="553.15" font-size="4.8" fill="#1a1a1a" stroke="#1a1a1a" stroke-width="0.12">10<tspan font-size="2.9" dy="-1.7">1</tspan></text>
<text x="312.60" y="553.15" font-size="4.8" fill="#1a1a1a" stroke="#1a1a1a" stroke-width="0.12">10<tspan font-size="2.9" dy="-1.7">2</tspan></text>
<text x="321.50" y="553.15" font-size="4.8" fill="#1a1a1a" stroke="#1a1a1a" stroke-width="0.12">10<tspan font-size="2.9" dy="-1.7">3</tspan></text>
<text x="330.40" y="553.15" font-size="4.8" fill="#1a1a1a" stroke="#1a1a1a" stroke-width="0.12">10<tspan font-size="2.9" dy="-1.7">4</tspan></text>
<text x="339.30" y="553.15" font-size="4.8" fill="#1a1a1a" stroke="#1a1a1a" stroke-width="0.12">10<tspan font-size="2.9" dy="-1.7">5</tspan></text>
<text x="348.20" y="553.15" font-size="4.8" fill="#1a1a1a" stroke="#1a1a1a" stroke-width="0.12">10<tspan font-size="2.9" dy="-1.7">6</tspan></text>
<path d="M403.05,541.76 L403.25,541.74 L403.45,541.70 L403.65,541.65 L403.85,541.57 L404.04,541.45 L404.24,541.28 L404.44,541.04 L404.64,540.71 L404.84,540.24 L405.04,539.61 L405.24,538.77 L405.44,537.66 L405.64,536.24 L405.83,534.45 L406.03,532.24 L406.23,529.57 L406.43,526.45 L406.63,522.88 L406.83,518.96 L407.03,514.82 L407.23,510.68 L407.43,506.88 L407.62,503.85 L407.82,502.56 L408.02,505.04 L408.22,509.20 L408.42,514.03 L408.62,518.96 L408.82,523.58 L409.02,527.67 L409.21,531.13 L409.41,533.94 L409.61,536.14 L409.81,537.82 L410.01,539.06 L410.21,539.95 L410.41,540.58 L410.61,541.01 L410.81,541.29 L411.00,541.48 L411.20,541.61 L411.40,541.68 L411.60,541.73 L411.80,541.76" stroke="#2f4f9c" fill="none" stroke-width="0.95" stroke-linejoin="round"/>
<path d="M405.12,541.75 L405.30,541.73 L405.47,541.69 L405.64,541.64 L405.81,541.56 L405.98,541.45 L406.15,541.30 L406.32,541.08 L406.49,540.78 L406.66,540.37 L406.83,539.82 L407.00,539.10 L407.17,538.15 L407.34,536.94 L407.51,535.41 L407.68,533.51 L407.85,531.19 L408.02,528.43 L408.19,525.22 L408.36,521.56 L408.53,517.51 L408.70,513.19 L408.88,508.76 L409.05,504.47 L409.22,500.66 L409.39,497.83 L409.56,497.45 L409.73,501.37 L409.90,507.01 L410.07,513.19 L410.24,519.17 L410.41,524.52 L410.58,529.02 L410.75,532.63 L410.92,535.41 L411.09,537.46 L411.26,538.93 L411.43,539.95 L411.60,540.63 L411.77,541.08 L411.94,541.37 L412.11,541.54 L412.28,541.65 L412.45,541.72 L412.62,541.75" stroke="#e09a2a" fill="none" stroke-width="0.95" stroke-linejoin="round"/>
<rect x="378.70" y="489.40" width="53.40" height="52.90" fill="none" stroke="#000" stroke-width="1.1"/>
<text x="373.30" y="543.52" font-size="5.00" text-anchor="end" fill="#1a1a1a" textLength="2.80" lengthAdjust="spacingAndGlyphs" stroke="#1a1a1a" stroke-width="0.06">0</text>
<text x="373.30" y="533.44" font-size="5.00" text-anchor="end" fill="#1a1a1a" textLength="5.60" lengthAdjust="spacingAndGlyphs" stroke="#1a1a1a" stroke-width="0.06">20</text>
<text x="373.30" y="523.36" font-size="5.00" text-anchor="end" fill="#1a1a1a" textLength="5.60" lengthAdjust="spacingAndGlyphs" stroke="#1a1a1a" stroke-width="0.06">40</text>
<text x="373.30" y="513.28" font-size="5.00" text-anchor="end" fill="#1a1a1a" textLength="5.60" lengthAdjust="spacingAndGlyphs" stroke="#1a1a1a" stroke-width="0.06">60</text>
<text x="373.30" y="503.20" font-size="5.00" text-anchor="end" fill="#1a1a1a" textLength="5.60" lengthAdjust="spacingAndGlyphs" stroke="#1a1a1a" stroke-width="0.06">80</text>
<text x="373.30" y="493.12" font-size="5.00" text-anchor="end" fill="#1a1a1a" textLength="8.30" lengthAdjust="spacingAndGlyphs" stroke="#1a1a1a" stroke-width="0.06">100</text>
<path d="M376.40,541.80H378.70M376.40,531.72H378.70M376.40,521.64H378.70M376.40,511.56H378.70M376.40,501.48H378.70M376.40,491.40H378.70M378.70,542.30V544.20M387.60,542.30V544.20M396.50,542.30V544.20M405.40,542.30V544.20M414.30,542.30V544.20M423.20,542.30V544.20M432.10,542.30V544.20" stroke="#000" fill="none" stroke-width="0.9"/>
<path d="M377.40,539.78H378.70M377.40,537.77H378.70M377.40,535.75H378.70M377.40,533.74H378.70M377.40,529.70H378.70M377.40,527.69H378.70M377.40,525.67H378.70M377.40,523.66H378.70M377.40,519.62H378.70M377.40,517.61H378.70M377.40,515.59H378.70M377.40,513.58H378.70M377.40,509.54H378.70M377.40,507.53H378.70M377.40,505.51H378.70M377.40,503.50H378.70M377.40,499.46H378.70M377.40,497.45H378.70M377.40,495.43H378.70M377.40,493.42H378.70M381.38,542.30V543.50M382.95,542.30V543.50M384.06,542.30V543.50M384.92,542.30V543.50M385.63,542.30V543.50M386.22,542.30V543.50M386.74,542.30V543.50M387.19,542.30V543.50M390.28,542.30V543.50M391.85,542.30V543.50M392.96,542.30V543.50M393.82,542.30V543.50M394.53,542.30V543.50M395.12,542.30V543.50M395.64,542.30V543.50M396.09,542.30V543.50M399.18,542.30V543.50M400.75,542.30V543.50M401.86,542.30V543.50M402.72,542.30V543.50M403.43,542.30V543.50M404.02,542.30V543.50M404.54,542.30V543.50M404.99,542.30V543.50M408.08,542.30V543.50M409.65,542.30V543.50M410.76,542.30V543.50M411.62,542.30V543.50M412.33,542.30V543.50M412.92,542.30V543.50M413.44,542.30V543.50M413.89,542.30V543.50M416.98,542.30V543.50M418.55,542.30V543.50M419.66,542.30V543.50M420.52,542.30V543.50M421.23,542.30V543.50M421.82,542.30V543.50M422.34,542.30V543.50M422.79,542.30V543.50M425.88,542.30V543.50M427.45,542.30V543.50M428.56,542.30V543.50M429.42,542.30V543.50M430.13,542.30V543.50M430.72,542.30V543.50M431.24,542.30V543.50M431.69,542.30V543.50" stroke="#111" fill="none" stroke-width="0.55"/>
<text x="374.70" y="553.15" font-size="4.8" fill="#1a1a1a" stroke="#1a1a1a" stroke-width="0.12">10<tspan font-size="2.9" dy="-1.7">0</tspan></text>
<text x="383.60" y="553.15" font-size="4.8" fill="#1a1a1a" stroke="#1a1a1a" stroke-width="0.12">10<tspan font-size="2.9" dy="-1.7">1</tspan></text>
<text x="392.50" y="553.15" font-size="4.8" fill="#1a1a1a" stroke="#1a1a1a" stroke-width="0.12">10<tspan font-size="2.9" dy="-1.7">2</tspan></text>
<text x="401.40" y="553.15" font-size="4.8" fill="#1a1a1a" stroke="#1a1a1a" stroke-width="0.12">10<tspan font-size="2.9" dy="-1.7">3</tspan></text>
<text x="410.30" y="553.15" font-size="4.8" fill="#1a1a1a" stroke="#1a1a1a" stroke-width="0.12">10<tspan font-size="2.9" dy="-1.7">4</tspan></text>
<text x="419.20" y="553.15" font-size="4.8" fill="#1a1a1a" stroke="#1a1a1a" stroke-width="0.12">10<tspan font-size="2.9" dy="-1.7">5</tspan></text>
<text x="428.10" y="553.15" font-size="4.8" fill="#1a1a1a" stroke="#1a1a1a" stroke-width="0.12">10<tspan font-size="2.9" dy="-1.7">6</tspan></text>
<text x="32.30" y="266.04" font-size="6.80" fill="#1a1a1a" textLength="23.20" lengthAdjust="spacingAndGlyphs" stroke="#1a1a1a" stroke-width="0.08">pAKT473</text>
<line x1="58.90" y1="263.70" x2="160.80" y2="263.70" stroke="#222" stroke-width="1.05"/>
<path d="M164.80,263.70 L159.20,261.30 L160.50,263.70 L159.20,266.10 Z" stroke="none" fill="#000" stroke-width="1"/>
<text x="31.20" y="351.34" font-size="6.80" fill="#1a1a1a" textLength="19.00" lengthAdjust="spacingAndGlyphs" stroke="#1a1a1a" stroke-width="0.08">pmTOR</text>
<line x1="53.60" y1="349.00" x2="160.80" y2="349.00" stroke="#222" stroke-width="1.05"/>
<path d="M164.80,349.00 L159.20,346.60 L160.50,349.00 L159.20,351.40 Z" stroke="none" fill="#000" stroke-width="1"/>
<text x="299.00" y="266.24" font-size="6.80" fill="#1a1a1a" textLength="23.30" lengthAdjust="spacingAndGlyphs" stroke="#1a1a1a" stroke-width="0.08">pAKT473</text>
<line x1="325.70" y1="263.90" x2="427.30" y2="263.90" stroke="#222" stroke-width="1.05"/>
<path d="M431.30,263.90 L425.70,261.50 L427.00,263.90 L425.70,266.30 Z" stroke="none" fill="#000" stroke-width="1"/>
<text x="298.00" y="351.34" font-size="6.80" fill="#1a1a1a" textLength="19.00" lengthAdjust="spacingAndGlyphs" stroke="#1a1a1a" stroke-width="0.08">pmTOR</text>
<line x1="320.40" y1="349.00" x2="427.30" y2="349.00" stroke="#222" stroke-width="1.05"/>
<path d="M431.30,349.00 L425.70,346.60 L427.00,349.00 L425.70,351.40 Z" stroke="none" fill="#000" stroke-width="1"/>
<text x="32.30" y="478.24" font-size="6.80" fill="#1a1a1a" textLength="23.20" lengthAdjust="spacingAndGlyphs" stroke="#1a1a1a" stroke-width="0.08">pAKT473</text>
<line x1="58.90" y1="475.90" x2="160.80" y2="475.90" stroke="#222" stroke-width="1.05"/>
<path d="M164.80,475.90 L159.20,473.50 L160.50,475.90 L159.20,478.30 Z" stroke="none" fill="#000" stroke-width="1"/>
<text x="31.20" y="563.54" font-size="6.80" fill="#1a1a1a" textLength="19.00" lengthAdjust="spacingAndGlyphs" stroke="#1a1a1a" stroke-width="0.08">pmTOR</text>
<line x1="53.60" y1="561.20" x2="160.80" y2="561.20" stroke="#222" stroke-width="1.05"/>
<path d="M164.80,561.20 L159.20,558.80 L160.50,561.20 L159.20,563.60 Z" stroke="none" fill="#000" stroke-width="1"/>
<text x="299.00" y="478.44" font-size="6.80" fill="#1a1a1a" textLength="23.30" lengthAdjust="spacingAndGlyphs" stroke="#1a1a1a" stroke-width="0.08">pAKT473</text>
<line x1="325.70" y1="476.10" x2="427.30" y2="476.10" stroke="#222" stroke-width="1.05"/>
<path d="M431.30,476.10 L425.70,473.70 L427.00,476.10 L425.70,478.50 Z" stroke="none" fill="#000" stroke-width="1"/>
<text x="298.00" y="563.54" font-size="6.80" fill="#1a1a1a" textLength="19.00" lengthAdjust="spacingAndGlyphs" stroke="#1a1a1a" stroke-width="0.08">pmTOR</text>
<line x1="320.40" y1="561.20" x2="427.30" y2="561.20" stroke="#222" stroke-width="1.05"/>
<path d="M431.30,561.20 L425.70,558.80 L427.00,561.20 L425.70,563.60 Z" stroke="none" fill="#000" stroke-width="1"/>
<rect x="208.80" y="228.08" width="4.90" height="15.92" fill="#c98676"/>
<rect x="209.10" y="228.38" width="4.30" height="15.62" fill="none" stroke="#b3103a" stroke-opacity="0.22" stroke-width="0.6"/>
<circle cx="209.17" cy="227.68" r="0.90" fill="#b3103a"/>
<circle cx="211.28" cy="228.48" r="0.90" fill="#b3103a"/>
<circle cx="213.45" cy="226.89" r="0.90" fill="#b3103a"/>
<circle cx="210.68" cy="228.08" r="0.90" fill="#b3103a"/>
<circle cx="212.63" cy="228.88" r="0.90" fill="#b3103a"/>
<rect x="216.90" y="225.49" width="4.90" height="18.51" fill="#b7d1ef"/>
<rect x="217.20" y="225.79" width="4.30" height="18.21" fill="none" stroke="#5a9ee0" stroke-opacity="0.22" stroke-width="0.6"/>
<circle cx="217.37" cy="224.50" r="0.90" fill="#5a9ee0"/>
<circle cx="219.79" cy="226.49" r="0.90" fill="#5a9ee0"/>
<circle cx="221.09" cy="225.29" r="0.90" fill="#5a9ee0"/>
<circle cx="218.67" cy="224.10" r="0.90" fill="#5a9ee0"/>
<circle cx="220.23" cy="226.89" r="0.90" fill="#5a9ee0"/>
<rect x="230.10" y="213.75" width="4.90" height="30.25" fill="#c98676"/>
<rect x="230.40" y="214.05" width="4.30" height="29.95" fill="none" stroke="#b3103a" stroke-opacity="0.22" stroke-width="0.6"/>
<circle cx="230.63" cy="211.36" r="0.90" fill="#b3103a"/>
<circle cx="232.93" cy="212.96" r="0.90" fill="#b3103a"/>
<circle cx="234.23" cy="214.15" r="0.90" fill="#b3103a"/>
<circle cx="232.01" cy="214.95" r="0.90" fill="#b3103a"/>
<circle cx="233.74" cy="217.33" r="0.90" fill="#b3103a"/>
<rect x="238.10" y="218.93" width="4.90" height="25.07" fill="#b7d1ef"/>
<rect x="238.40" y="219.23" width="4.30" height="24.77" fill="none" stroke="#5a9ee0" stroke-opacity="0.22" stroke-width="0.6"/>
<circle cx="238.78" cy="216.54" r="0.90" fill="#5a9ee0"/>
<circle cx="241.00" cy="217.33" r="0.90" fill="#5a9ee0"/>
<circle cx="242.48" cy="219.32" r="0.90" fill="#5a9ee0"/>
<circle cx="239.47" cy="220.12" r="0.90" fill="#5a9ee0"/>
<circle cx="241.57" cy="221.71" r="0.90" fill="#5a9ee0"/>
<text x="200.00" y="245.65" font-size="4.80" text-anchor="end" fill="#1a1a1a" textLength="2.80" lengthAdjust="spacingAndGlyphs" stroke="#1a1a1a" stroke-width="0.06">0</text>
<text x="200.00" y="237.69" font-size="4.80" text-anchor="end" fill="#1a1a1a" textLength="11.20" lengthAdjust="spacingAndGlyphs" stroke="#1a1a1a" stroke-width="0.06">2000</text>
<text x="200.00" y="229.73" font-size="4.80" text-anchor="end" fill="#1a1a1a" textLength="11.20" lengthAdjust="spacingAndGlyphs" stroke="#1a1a1a" stroke-width="0.06">4000</text>
<text x="200.00" y="221.77" font-size="4.80" text-anchor="end" fill="#1a1a1a" textLength="11.20" lengthAdjust="spacingAndGlyphs" stroke="#1a1a1a" stroke-width="0.06">6000</text>
<text x="200.00" y="213.81" font-size="4.80" text-anchor="end" fill="#1a1a1a" textLength="11.20" lengthAdjust="spacingAndGlyphs" stroke="#1a1a1a" stroke-width="0.06">8000</text>
<text x="200.00" y="205.85" font-size="4.80" text-anchor="end" fill="#1a1a1a" textLength="14.00" lengthAdjust="spacingAndGlyphs" stroke="#1a1a1a" stroke-width="0.06">10000</text>
<path d="M203.70,244.00H206.20M203.70,236.04H206.20M203.70,228.08H206.20M203.70,220.12H206.20M203.70,212.16H206.20M203.70,204.20H206.20M215.30,244.00V246.40M236.55,244.00V246.40" stroke="#111" fill="none" stroke-width="0.95"/>
<path d="M204.90,240.02H206.20M204.90,232.06H206.20M204.90,224.10H206.20M204.90,216.14H206.20M204.90,208.18H206.20" stroke="#111" fill="none" stroke-width="0.6"/>
<line x1="206.20" y1="201.30" x2="206.20" y2="244.60" stroke="#111" stroke-width="1.2"/>
<line x1="205.60" y1="244.00" x2="246.40" y2="244.00" stroke="#111" stroke-width="1.2"/>
<text x="215.30" y="255.26" font-size="5.40" text-anchor="middle" fill="#1a1a1a" textLength="9.00" lengthAdjust="spacingAndGlyphs" stroke="#1a1a1a" stroke-width="0.06">SPL</text>
<text x="236.55" y="255.26" font-size="5.40" text-anchor="middle" fill="#1a1a1a" textLength="14.00" lengthAdjust="spacingAndGlyphs" stroke="#1a1a1a" stroke-width="0.06">Colon</text>
<text transform="translate(179.60,222.80) rotate(-90)" x="0" y="1.86" font-size="5.40" text-anchor="middle" fill="#1a1a1a" textLength="23.40" lengthAdjust="spacingAndGlyphs" stroke="#1a1a1a" stroke-width="0.06">pAKT MFI</text>
<line x1="231.20" y1="207.30" x2="242.10" y2="207.30" stroke="#222" stroke-width="0.95"/>
<text x="236.65" y="207.53" font-size="5.60" text-anchor="middle" fill="#222" stroke="#222" stroke-width="0.07">**</text>
<rect x="208.80" y="318.60" width="4.90" height="11.20" fill="#c98676"/>
<rect x="209.10" y="318.90" width="4.30" height="10.90" fill="none" stroke="#b3103a" stroke-opacity="0.22" stroke-width="0.6"/>
<circle cx="209.17" cy="317.00" r="0.90" fill="#b3103a"/>
<circle cx="211.28" cy="318.33" r="0.90" fill="#b3103a"/>
<circle cx="213.45" cy="318.87" r="0.90" fill="#b3103a"/>
<circle cx="210.68" cy="319.40" r="0.90" fill="#b3103a"/>
<circle cx="212.63" cy="318.60" r="0.90" fill="#b3103a"/>
<rect x="216.90" y="317.80" width="4.90" height="12.00" fill="#b7d1ef"/>
<rect x="217.20" y="318.10" width="4.30" height="11.70" fill="none" stroke="#5a9ee0" stroke-opacity="0.22" stroke-width="0.6"/>
<circle cx="217.37" cy="317.00" r="0.90" fill="#5a9ee0"/>
<circle cx="219.79" cy="317.53" r="0.90" fill="#5a9ee0"/>
<circle cx="221.09" cy="317.80" r="0.90" fill="#5a9ee0"/>
<circle cx="218.67" cy="318.07" r="0.90" fill="#5a9ee0"/>
<circle cx="220.23" cy="318.33" r="0.90" fill="#5a9ee0"/>
<rect x="230.10" y="301.53" width="4.90" height="28.27" fill="#c98676"/>
<rect x="230.40" y="301.83" width="4.30" height="27.97" fill="none" stroke="#b3103a" stroke-opacity="0.22" stroke-width="0.6"/>
<circle cx="230.63" cy="295.13" r="0.90" fill="#b3103a"/>
<circle cx="232.93" cy="299.13" r="0.90" fill="#b3103a"/>
<circle cx="234.23" cy="301.80" r="0.90" fill="#b3103a"/>
<circle cx="232.01" cy="303.67" r="0.90" fill="#b3103a"/>
<circle cx="233.74" cy="302.60" r="0.90" fill="#b3103a"/>
<rect x="238.10" y="308.47" width="4.90" height="21.33" fill="#b7d1ef"/>
<rect x="238.40" y="308.77" width="4.30" height="21.03" fill="none" stroke="#5a9ee0" stroke-opacity="0.22" stroke-width="0.6"/>
<circle cx="238.78" cy="305.27" r="0.90" fill="#5a9ee0"/>
<circle cx="241.00" cy="306.87" r="0.90" fill="#5a9ee0"/>
<circle cx="242.48" cy="308.47" r="0.90" fill="#5a9ee0"/>
<circle cx="239.47" cy="310.07" r="0.90" fill="#5a9ee0"/>
<circle cx="241.57" cy="311.13" r="0.90" fill="#5a9ee0"/>
<text x="200.10" y="331.45" font-size="4.80" text-anchor="end" fill="#1a1a1a" textLength="2.80" lengthAdjust="spacingAndGlyphs" stroke="#1a1a1a" stroke-width="0.06">0</text>
<text x="200.10" y="318.12" font-size="4.80" text-anchor="end" fill="#1a1a1a" textLength="11.20" lengthAdjust="spacingAndGlyphs" stroke="#1a1a1a" stroke-width="0.06">5000</text>
<text x="200.10" y="304.78" font-size="4.80" text-anchor="end" fill="#1a1a1a" textLength="14.00" lengthAdjust="spacingAndGlyphs" stroke="#1a1a1a" stroke-width="0.06">10000</text>
<text x="200.10" y="291.45" font-size="4.80" text-anchor="end" fill="#1a1a1a" textLength="14.00" lengthAdjust="spacingAndGlyphs" stroke="#1a1a1a" stroke-width="0.06">15000</text>
<path d="M203.80,329.80H206.30M203.80,316.47H206.30M203.80,303.13H206.30M203.80,289.80H206.30M215.30,329.80V332.20M236.55,329.80V332.20" stroke="#111" fill="none" stroke-width="0.95"/>
<path d="M205.00,323.13H206.30M205.00,309.80H206.30M205.00,296.47H206.30" stroke="#111" fill="none" stroke-width="0.6"/>
<line x1="206.30" y1="287.20" x2="206.30" y2="330.40" stroke="#111" stroke-width="1.2"/>
<line x1="205.70" y1="329.80" x2="246.40" y2="329.80" stroke="#111" stroke-width="1.2"/>
<text x="215.30" y="340.66" font-size="5.40" text-anchor="middle" fill="#1a1a1a" textLength="9.00" lengthAdjust="spacingAndGlyphs" stroke="#1a1a1a" stroke-width="0.06">SPL</text>
<text x="236.55" y="340.66" font-size="5.40" text-anchor="middle" fill="#1a1a1a" textLength="14.00" lengthAdjust="spacingAndGlyphs" stroke="#1a1a1a" stroke-width="0.06">Colon</text>
<text transform="translate(180.40,308.50) rotate(-90)" x="0" y="1.86" font-size="5.40" text-anchor="middle" fill="#1a1a1a" textLength="29.60" lengthAdjust="spacingAndGlyphs" stroke="#1a1a1a" stroke-width="0.06">pmTOR MFI</text>
<line x1="231.70" y1="291.80" x2="242.10" y2="291.80" stroke="#222" stroke-width="0.95"/>
<text x="236.90" y="292.03" font-size="5.60" text-anchor="middle" fill="#222" stroke="#222" stroke-width="0.07">****</text>
<rect x="475.30" y="232.37" width="4.90" height="11.93" fill="#c98676"/>
<rect x="475.60" y="232.67" width="4.30" height="11.63" fill="none" stroke="#b3103a" stroke-opacity="0.22" stroke-width="0.6"/>
<circle cx="475.79" cy="229.26" r="0.90" fill="#b3103a"/>
<circle cx="477.96" cy="231.33" r="0.90" fill="#b3103a"/>
<circle cx="479.56" cy="232.37" r="0.90" fill="#b3103a"/>
<circle cx="476.87" cy="233.15" r="0.90" fill="#b3103a"/>
<circle cx="478.64" cy="233.41" r="0.90" fill="#b3103a"/>
<rect x="483.30" y="230.56" width="4.90" height="13.74" fill="#bddca4"/>
<rect x="483.60" y="230.86" width="4.30" height="13.44" fill="none" stroke="#62b040" stroke-opacity="0.22" stroke-width="0.6"/>
<circle cx="484.19" cy="230.04" r="0.90" fill="#62b040"/>
<circle cx="486.23" cy="230.56" r="0.90" fill="#62b040"/>
<circle cx="487.72" cy="230.81" r="0.90" fill="#62b040"/>
<circle cx="484.86" cy="231.07" r="0.90" fill="#62b040"/>
<circle cx="486.79" cy="231.33" r="0.90" fill="#62b040"/>
<rect x="496.20" y="225.63" width="4.90" height="18.67" fill="#c98676"/>
<rect x="496.50" y="225.93" width="4.30" height="18.37" fill="none" stroke="#b3103a" stroke-opacity="0.22" stroke-width="0.6"/>
<circle cx="497.06" cy="224.59" r="0.90" fill="#b3103a"/>
<circle cx="498.86" cy="225.11" r="0.90" fill="#b3103a"/>
<circle cx="500.57" cy="225.63" r="0.90" fill="#b3103a"/>
<circle cx="498.12" cy="226.67" r="0.90" fill="#b3103a"/>
<circle cx="499.59" cy="227.18" r="0.90" fill="#b3103a"/>
<rect x="504.10" y="222.00" width="4.90" height="22.30" fill="#bddca4"/>
<rect x="504.40" y="222.30" width="4.30" height="22.00" fill="none" stroke="#62b040" stroke-opacity="0.22" stroke-width="0.6"/>
<circle cx="504.77" cy="217.85" r="0.90" fill="#62b040"/>
<circle cx="506.73" cy="219.92" r="0.90" fill="#62b040"/>
<circle cx="508.25" cy="221.48" r="0.90" fill="#62b040"/>
<circle cx="505.50" cy="223.03" r="0.90" fill="#62b040"/>
<circle cx="507.81" cy="224.07" r="0.90" fill="#62b040"/>
<text x="465.80" y="245.95" font-size="4.80" text-anchor="end" fill="#1a1a1a" textLength="2.80" lengthAdjust="spacingAndGlyphs" stroke="#1a1a1a" stroke-width="0.06">0</text>
<text x="465.80" y="232.98" font-size="4.80" text-anchor="end" fill="#1a1a1a" textLength="11.20" lengthAdjust="spacingAndGlyphs" stroke="#1a1a1a" stroke-width="0.06">5000</text>
<text x="465.80" y="220.02" font-size="4.80" text-anchor="end" fill="#1a1a1a" textLength="14.00" lengthAdjust="spacingAndGlyphs" stroke="#1a1a1a" stroke-width="0.06">10000</text>
<text x="465.80" y="207.05" font-size="4.80" text-anchor="end" fill="#1a1a1a" textLength="14.00" lengthAdjust="spacingAndGlyphs" stroke="#1a1a1a" stroke-width="0.06">15000</text>
<path d="M469.50,244.30H472.00M469.50,231.33H472.00M469.50,218.37H472.00M469.50,205.40H472.00M481.75,244.30V246.70M502.60,244.30V246.70" stroke="#111" fill="none" stroke-width="0.95"/>
<path d="M470.70,237.82H472.00M470.70,224.85H472.00M470.70,211.88H472.00" stroke="#111" fill="none" stroke-width="0.6"/>
<line x1="472.00" y1="202.20" x2="472.00" y2="244.90" stroke="#111" stroke-width="1.2"/>
<line x1="471.40" y1="244.30" x2="511.40" y2="244.30" stroke="#111" stroke-width="1.2"/>
<text x="481.75" y="255.26" font-size="5.40" text-anchor="middle" fill="#1a1a1a" textLength="9.00" lengthAdjust="spacingAndGlyphs" stroke="#1a1a1a" stroke-width="0.06">SPL</text>
<text x="502.60" y="255.26" font-size="5.40" text-anchor="middle" fill="#1a1a1a" textLength="14.00" lengthAdjust="spacingAndGlyphs" stroke="#1a1a1a" stroke-width="0.06">Colon</text>
<text transform="translate(445.80,223.50) rotate(-90)" x="0" y="1.86" font-size="5.40" text-anchor="middle" fill="#1a1a1a" textLength="23.40" lengthAdjust="spacingAndGlyphs" stroke="#1a1a1a" stroke-width="0.06">pAKT MFI</text>
<line x1="498.40" y1="212.30" x2="507.10" y2="212.30" stroke="#222" stroke-width="0.95"/>
<line x1="498.40" y1="211.90" x2="498.40" y2="214.60" stroke="#222" stroke-width="0.85"/>
<line x1="507.10" y1="211.90" x2="507.10" y2="214.60" stroke="#222" stroke-width="0.85"/>
<text x="502.75" y="212.53" font-size="5.60" text-anchor="middle" fill="#222" stroke="#222" stroke-width="0.07">**</text>
<rect x="475.60" y="309.05" width="4.90" height="20.75" fill="#c98676"/>
<rect x="475.90" y="309.35" width="4.30" height="20.45" fill="none" stroke="#b3103a" stroke-opacity="0.22" stroke-width="0.6"/>
<line x1="478.05" y1="309.05" x2="478.05" y2="305.62" stroke="#b3103a" stroke-width="0.7"/>
<line x1="476.75" y1="305.62" x2="479.35" y2="305.62" stroke="#b3103a" stroke-width="0.7"/>
<circle cx="476.14" cy="300.94" r="0.90" fill="#b3103a"/>
<circle cx="478.60" cy="306.40" r="0.90" fill="#b3103a"/>
<circle cx="480.06" cy="307.18" r="0.90" fill="#b3103a"/>
<circle cx="477.42" cy="312.64" r="0.90" fill="#b3103a"/>
<circle cx="479.00" cy="314.98" r="0.90" fill="#b3103a"/>
<rect x="483.30" y="307.96" width="4.90" height="21.84" fill="#bddca4"/>
<rect x="483.60" y="308.26" width="4.30" height="21.54" fill="none" stroke="#62b040" stroke-opacity="0.22" stroke-width="0.6"/>
<line x1="485.75" y1="307.96" x2="485.75" y2="304.06" stroke="#62b040" stroke-width="0.7"/>
<line x1="484.45" y1="304.06" x2="487.05" y2="304.06" stroke="#62b040" stroke-width="0.7"/>
<circle cx="484.19" cy="298.60" r="0.90" fill="#62b040"/>
<circle cx="486.23" cy="299.38" r="0.90" fill="#62b040"/>
<circle cx="487.72" cy="311.08" r="0.90" fill="#62b040"/>
<circle cx="484.86" cy="311.86" r="0.90" fill="#62b040"/>
<circle cx="486.79" cy="314.20" r="0.90" fill="#62b040"/>
<rect x="496.20" y="318.88" width="4.90" height="10.92" fill="#c98676"/>
<rect x="496.50" y="319.18" width="4.30" height="10.62" fill="none" stroke="#b3103a" stroke-opacity="0.22" stroke-width="0.6"/>
<line x1="498.65" y1="318.88" x2="498.65" y2="316.54" stroke="#b3103a" stroke-width="0.7"/>
<line x1="497.35" y1="316.54" x2="499.95" y2="316.54" stroke="#b3103a" stroke-width="0.7"/>
<circle cx="497.06" cy="313.42" r="0.90" fill="#b3103a"/>
<circle cx="498.86" cy="314.98" r="0.90" fill="#b3103a"/>
<circle cx="500.57" cy="320.44" r="0.90" fill="#b3103a"/>
<circle cx="498.12" cy="322.00" r="0.90" fill="#b3103a"/>
<circle cx="499.59" cy="322.78" r="0.90" fill="#b3103a"/>
<rect x="504.10" y="316.54" width="4.90" height="13.26" fill="#bddca4"/>
<rect x="504.40" y="316.84" width="4.30" height="12.96" fill="none" stroke="#62b040" stroke-opacity="0.22" stroke-width="0.6"/>
<line x1="506.55" y1="316.54" x2="506.55" y2="312.64" stroke="#62b040" stroke-width="0.7"/>
<line x1="505.25" y1="312.64" x2="507.85" y2="312.64" stroke="#62b040" stroke-width="0.7"/>
<circle cx="504.77" cy="306.40" r="0.90" fill="#62b040"/>
<circle cx="506.73" cy="311.86" r="0.90" fill="#62b040"/>
<circle cx="508.25" cy="318.88" r="0.90" fill="#62b040"/>
<circle cx="505.50" cy="322.78" r="0.90" fill="#62b040"/>
<circle cx="507.81" cy="320.44" r="0.90" fill="#62b040"/>
<text x="465.80" y="331.45" font-size="4.80" text-anchor="end" fill="#1a1a1a" textLength="11.20" lengthAdjust="spacingAndGlyphs" stroke="#1a1a1a" stroke-width="0.06">2000</text>
<text x="465.80" y="323.65" font-size="4.80" text-anchor="end" fill="#1a1a1a" textLength="11.20" lengthAdjust="spacingAndGlyphs" stroke="#1a1a1a" stroke-width="0.06">2500</text>
<text x="465.80" y="315.85" font-size="4.80" text-anchor="end" fill="#1a1a1a" textLength="11.20" lengthAdjust="spacingAndGlyphs" stroke="#1a1a1a" stroke-width="0.06">3000</text>
<text x="465.80" y="308.05" font-size="4.80" text-anchor="end" fill="#1a1a1a" textLength="11.20" lengthAdjust="spacingAndGlyphs" stroke="#1a1a1a" stroke-width="0.06">3500</text>
<text x="465.80" y="300.25" font-size="4.80" text-anchor="end" fill="#1a1a1a" textLength="11.20" lengthAdjust="spacingAndGlyphs" stroke="#1a1a1a" stroke-width="0.06">4000</text>
<text x="465.80" y="292.45" font-size="4.80" text-anchor="end" fill="#1a1a1a" textLength="11.20" lengthAdjust="spacingAndGlyphs" stroke="#1a1a1a" stroke-width="0.06">4500</text>
<path d="M469.50,329.80H472.00M469.50,322.00H472.00M469.50,314.20H472.00M469.50,306.40H472.00M469.50,298.60H472.00M469.50,290.80H472.00M481.90,329.80V332.20M502.60,329.80V332.20" stroke="#111" fill="none" stroke-width="0.95"/>
<path d="M470.70,325.90H472.00M470.70,318.10H472.00M470.70,310.30H472.00M470.70,302.50H472.00M470.70,294.70H472.00" stroke="#111" fill="none" stroke-width="0.6"/>
<line x1="472.00" y1="288.40" x2="472.00" y2="330.40" stroke="#111" stroke-width="1.2"/>
<line x1="471.40" y1="329.80" x2="511.40" y2="329.80" stroke="#111" stroke-width="1.2"/>
<text x="481.90" y="340.66" font-size="5.40" text-anchor="middle" fill="#1a1a1a" textLength="9.00" lengthAdjust="spacingAndGlyphs" stroke="#1a1a1a" stroke-width="0.06">SPL</text>
<text x="502.60" y="340.66" font-size="5.40" text-anchor="middle" fill="#1a1a1a" textLength="14.00" lengthAdjust="spacingAndGlyphs" stroke="#1a1a1a" stroke-width="0.06">Colon</text>
<text transform="translate(448.70,308.80) rotate(-90)" x="0" y="1.86" font-size="5.40" text-anchor="middle" fill="#1a1a1a" textLength="29.60" lengthAdjust="spacingAndGlyphs" stroke="#1a1a1a" stroke-width="0.06">pmTOR MFI</text>
<rect x="209.20" y="441.34" width="5.60" height="15.06" fill="#9a85ae"/>
<rect x="209.50" y="441.64" width="5.00" height="14.76" fill="none" stroke="#3d1a6a" stroke-opacity="0.22" stroke-width="0.6"/>
<circle cx="210.09" cy="439.57" r="0.90" fill="#3d1a6a"/>
<circle cx="212.60" cy="440.89" r="0.90" fill="#3d1a6a"/>
<circle cx="214.20" cy="441.78" r="0.90" fill="#3d1a6a"/>
<circle cx="211.38" cy="442.22" r="0.90" fill="#3d1a6a"/>
<circle cx="213.24" cy="441.34" r="0.90" fill="#3d1a6a"/>
<rect x="218.20" y="439.57" width="5.60" height="16.83" fill="#efc98c"/>
<rect x="218.50" y="439.87" width="5.00" height="16.53" fill="none" stroke="#e0982a" stroke-opacity="0.22" stroke-width="0.6"/>
<circle cx="219.27" cy="437.35" r="0.90" fill="#e0982a"/>
<circle cx="221.32" cy="438.68" r="0.90" fill="#e0982a"/>
<circle cx="222.86" cy="439.57" r="0.90" fill="#e0982a"/>
<circle cx="220.33" cy="440.01" r="0.90" fill="#e0982a"/>
<circle cx="222.02" cy="440.45" r="0.90" fill="#e0982a"/>
<rect x="233.00" y="424.95" width="5.60" height="31.45" fill="#9a85ae"/>
<rect x="233.30" y="425.25" width="5.00" height="31.15" fill="none" stroke="#3d1a6a" stroke-opacity="0.22" stroke-width="0.6"/>
<circle cx="234.25" cy="422.73" r="0.90" fill="#3d1a6a"/>
<circle cx="236.01" cy="423.62" r="0.90" fill="#3d1a6a"/>
<circle cx="237.88" cy="425.39" r="0.90" fill="#3d1a6a"/>
<circle cx="234.95" cy="426.72" r="0.90" fill="#3d1a6a"/>
<circle cx="236.84" cy="427.16" r="0.90" fill="#3d1a6a"/>
<rect x="241.70" y="425.39" width="5.60" height="31.01" fill="#efc98c"/>
<rect x="242.00" y="425.69" width="5.00" height="30.71" fill="none" stroke="#e0982a" stroke-opacity="0.22" stroke-width="0.6"/>
<circle cx="242.55" cy="421.85" r="0.90" fill="#e0982a"/>
<circle cx="244.82" cy="424.06" r="0.90" fill="#e0982a"/>
<circle cx="246.33" cy="424.95" r="0.90" fill="#e0982a"/>
<circle cx="243.64" cy="425.39" r="0.90" fill="#e0982a"/>
<circle cx="245.45" cy="425.83" r="0.90" fill="#e0982a"/>
<text x="199.60" y="458.05" font-size="4.80" text-anchor="end" fill="#1a1a1a" textLength="2.80" lengthAdjust="spacingAndGlyphs" stroke="#1a1a1a" stroke-width="0.06">0</text>
<text x="199.60" y="449.19" font-size="4.80" text-anchor="end" fill="#1a1a1a" textLength="11.20" lengthAdjust="spacingAndGlyphs" stroke="#1a1a1a" stroke-width="0.06">2000</text>
<text x="199.60" y="440.33" font-size="4.80" text-anchor="end" fill="#1a1a1a" textLength="11.20" lengthAdjust="spacingAndGlyphs" stroke="#1a1a1a" stroke-width="0.06">4000</text>
<text x="199.60" y="431.47" font-size="4.80" text-anchor="end" fill="#1a1a1a" textLength="11.20" lengthAdjust="spacingAndGlyphs" stroke="#1a1a1a" stroke-width="0.06">6000</text>
<text x="199.60" y="422.61" font-size="4.80" text-anchor="end" fill="#1a1a1a" textLength="11.20" lengthAdjust="spacingAndGlyphs" stroke="#1a1a1a" stroke-width="0.06">8000</text>
<text x="199.60" y="413.75" font-size="4.80" text-anchor="end" fill="#1a1a1a" textLength="14.00" lengthAdjust="spacingAndGlyphs" stroke="#1a1a1a" stroke-width="0.06">10000</text>
<path d="M203.30,456.40H205.80M203.30,447.54H205.80M203.30,438.68H205.80M203.30,429.82H205.80M203.30,420.96H205.80M203.30,412.10H205.80M216.50,456.40V458.80M240.15,456.40V458.80" stroke="#111" fill="none" stroke-width="0.95"/>
<path d="M204.50,451.97H205.80M204.50,443.11H205.80M204.50,434.25H205.80M204.50,425.39H205.80M204.50,416.53H205.80" stroke="#111" fill="none" stroke-width="0.6"/>
<line x1="205.80" y1="409.40" x2="205.80" y2="457.00" stroke="#111" stroke-width="1.2"/>
<line x1="205.20" y1="456.40" x2="250.50" y2="456.40" stroke="#111" stroke-width="1.2"/>
<text x="216.50" y="467.06" font-size="5.40" text-anchor="middle" fill="#1a1a1a" textLength="9.00" lengthAdjust="spacingAndGlyphs" stroke="#1a1a1a" stroke-width="0.06">SPL</text>
<text x="240.15" y="467.06" font-size="5.40" text-anchor="middle" fill="#1a1a1a" textLength="14.00" lengthAdjust="spacingAndGlyphs" stroke="#1a1a1a" stroke-width="0.06">Colon</text>
<text transform="translate(179.30,432.60) rotate(-90)" x="0" y="1.86" font-size="5.40" text-anchor="middle" fill="#1a1a1a" textLength="23.40" lengthAdjust="spacingAndGlyphs" stroke="#1a1a1a" stroke-width="0.06">pAKT MFI</text>
<rect x="209.20" y="523.17" width="5.60" height="18.73" fill="#9a85ae"/>
<rect x="209.50" y="523.47" width="5.00" height="18.43" fill="none" stroke="#3d1a6a" stroke-opacity="0.22" stroke-width="0.6"/>
<line x1="212.00" y1="523.17" x2="212.00" y2="520.05" stroke="#3d1a6a" stroke-width="0.7"/>
<line x1="210.70" y1="520.05" x2="213.30" y2="520.05" stroke="#3d1a6a" stroke-width="0.7"/>
<circle cx="210.09" cy="516.92" r="0.90" fill="#3d1a6a"/>
<circle cx="212.60" cy="522.28" r="0.90" fill="#3d1a6a"/>
<circle cx="214.20" cy="524.06" r="0.90" fill="#3d1a6a"/>
<circle cx="211.38" cy="524.95" r="0.90" fill="#3d1a6a"/>
<circle cx="213.24" cy="525.84" r="0.90" fill="#3d1a6a"/>
<rect x="218.20" y="525.40" width="5.60" height="16.50" fill="#efc98c"/>
<rect x="218.50" y="525.70" width="5.00" height="16.20" fill="none" stroke="#e0982a" stroke-opacity="0.22" stroke-width="0.6"/>
<line x1="221.00" y1="525.40" x2="221.00" y2="523.61" stroke="#e0982a" stroke-width="0.7"/>
<line x1="219.70" y1="523.61" x2="222.30" y2="523.61" stroke="#e0982a" stroke-width="0.7"/>
<circle cx="219.27" cy="522.72" r="0.90" fill="#e0982a"/>
<circle cx="221.32" cy="524.51" r="0.90" fill="#e0982a"/>
<circle cx="222.86" cy="524.95" r="0.90" fill="#e0982a"/>
<circle cx="220.33" cy="525.84" r="0.90" fill="#e0982a"/>
<circle cx="222.02" cy="526.74" r="0.90" fill="#e0982a"/>
<rect x="233.00" y="514.69" width="5.60" height="27.21" fill="#9a85ae"/>
<rect x="233.30" y="514.99" width="5.00" height="26.91" fill="none" stroke="#3d1a6a" stroke-opacity="0.22" stroke-width="0.6"/>
<line x1="235.80" y1="514.69" x2="235.80" y2="512.91" stroke="#3d1a6a" stroke-width="0.7"/>
<line x1="234.50" y1="512.91" x2="237.10" y2="512.91" stroke="#3d1a6a" stroke-width="0.7"/>
<circle cx="234.25" cy="511.57" r="0.90" fill="#3d1a6a"/>
<circle cx="236.01" cy="512.91" r="0.90" fill="#3d1a6a"/>
<circle cx="237.88" cy="514.25" r="0.90" fill="#3d1a6a"/>
<circle cx="234.95" cy="516.03" r="0.90" fill="#3d1a6a"/>
<circle cx="236.84" cy="516.92" r="0.90" fill="#3d1a6a"/>
<rect x="241.70" y="512.91" width="5.60" height="28.99" fill="#efc98c"/>
<rect x="242.00" y="513.21" width="5.00" height="28.69" fill="none" stroke="#e0982a" stroke-opacity="0.22" stroke-width="0.6"/>
<line x1="244.50" y1="512.91" x2="244.50" y2="510.68" stroke="#e0982a" stroke-width="0.7"/>
<line x1="243.20" y1="510.68" x2="245.80" y2="510.68" stroke="#e0982a" stroke-width="0.7"/>
<circle cx="242.55" cy="507.11" r="0.90" fill="#e0982a"/>
<circle cx="244.82" cy="511.57" r="0.90" fill="#e0982a"/>
<circle cx="246.33" cy="512.46" r="0.90" fill="#e0982a"/>
<circle cx="243.64" cy="515.14" r="0.90" fill="#e0982a"/>
<circle cx="245.45" cy="516.92" r="0.90" fill="#e0982a"/>
<text x="199.90" y="543.55" font-size="4.80" text-anchor="end" fill="#1a1a1a" textLength="2.80" lengthAdjust="spacingAndGlyphs" stroke="#1a1a1a" stroke-width="0.06">0</text>
<text x="199.90" y="534.63" font-size="4.80" text-anchor="end" fill="#1a1a1a" textLength="11.20" lengthAdjust="spacingAndGlyphs" stroke="#1a1a1a" stroke-width="0.06">1000</text>
<text x="199.90" y="525.71" font-size="4.80" text-anchor="end" fill="#1a1a1a" textLength="11.20" lengthAdjust="spacingAndGlyphs" stroke="#1a1a1a" stroke-width="0.06">2000</text>
<text x="199.90" y="516.79" font-size="4.80" text-anchor="end" fill="#1a1a1a" textLength="11.20" lengthAdjust="spacingAndGlyphs" stroke="#1a1a1a" stroke-width="0.06">3000</text>
<text x="199.90" y="507.87" font-size="4.80" text-anchor="end" fill="#1a1a1a" textLength="11.20" lengthAdjust="spacingAndGlyphs" stroke="#1a1a1a" stroke-width="0.06">4000</text>
<text x="199.90" y="498.95" font-size="4.80" text-anchor="end" fill="#1a1a1a" textLength="11.20" lengthAdjust="spacingAndGlyphs" stroke="#1a1a1a" stroke-width="0.06">5000</text>
<path d="M203.60,541.90H206.10M203.60,532.98H206.10M203.60,524.06H206.10M203.60,515.14H206.10M203.60,506.22H206.10M203.60,497.30H206.10M216.50,541.90V544.30M240.15,541.90V544.30" stroke="#111" fill="none" stroke-width="0.95"/>
<path d="M204.80,537.44H206.10M204.80,528.52H206.10M204.80,519.60H206.10M204.80,510.68H206.10M204.80,501.76H206.10" stroke="#111" fill="none" stroke-width="0.6"/>
<line x1="206.10" y1="495.20" x2="206.10" y2="542.50" stroke="#111" stroke-width="1.2"/>
<line x1="205.50" y1="541.90" x2="251.10" y2="541.90" stroke="#111" stroke-width="1.2"/>
<text x="216.50" y="552.76" font-size="5.40" text-anchor="middle" fill="#1a1a1a" textLength="9.00" lengthAdjust="spacingAndGlyphs" stroke="#1a1a1a" stroke-width="0.06">SPL</text>
<text x="240.15" y="552.76" font-size="5.40" text-anchor="middle" fill="#1a1a1a" textLength="14.00" lengthAdjust="spacingAndGlyphs" stroke="#1a1a1a" stroke-width="0.06">Colon</text>
<text transform="translate(181.20,518.00) rotate(-90)" x="0" y="1.86" font-size="5.40" text-anchor="middle" fill="#1a1a1a" textLength="29.60" lengthAdjust="spacingAndGlyphs" stroke="#1a1a1a" stroke-width="0.06">pmTOR MFI</text>
<rect x="476.00" y="447.78" width="4.90" height="8.72" fill="#8e9bc9"/>
<rect x="476.30" y="448.08" width="4.30" height="8.42" fill="none" stroke="#2a4a9a" stroke-opacity="0.22" stroke-width="0.6"/>
<circle cx="476.41" cy="443.47" r="0.90" fill="#2a4a9a"/>
<circle cx="479.00" cy="446.48" r="0.90" fill="#2a4a9a"/>
<circle cx="480.16" cy="447.48" r="0.90" fill="#2a4a9a"/>
<circle cx="477.52" cy="449.48" r="0.90" fill="#2a4a9a"/>
<circle cx="479.68" cy="451.49" r="0.90" fill="#2a4a9a"/>
<rect x="484.00" y="441.96" width="4.90" height="14.54" fill="#efc98c"/>
<rect x="484.30" y="442.26" width="4.30" height="14.24" fill="none" stroke="#e0982a" stroke-opacity="0.22" stroke-width="0.6"/>
<circle cx="484.48" cy="438.45" r="0.90" fill="#e0982a"/>
<circle cx="486.85" cy="440.46" r="0.90" fill="#e0982a"/>
<circle cx="488.39" cy="441.46" r="0.90" fill="#e0982a"/>
<circle cx="485.80" cy="442.46" r="0.90" fill="#e0982a"/>
<circle cx="487.79" cy="443.47" r="0.90" fill="#e0982a"/>
<rect x="497.40" y="431.94" width="4.90" height="24.56" fill="#8e9bc9"/>
<rect x="497.70" y="432.24" width="4.30" height="24.26" fill="none" stroke="#2a4a9a" stroke-opacity="0.22" stroke-width="0.6"/>
<circle cx="498.09" cy="428.43" r="0.90" fill="#2a4a9a"/>
<circle cx="500.07" cy="429.43" r="0.90" fill="#2a4a9a"/>
<circle cx="502.03" cy="431.44" r="0.90" fill="#2a4a9a"/>
<circle cx="498.99" cy="433.44" r="0.90" fill="#2a4a9a"/>
<circle cx="500.92" cy="435.45" r="0.90" fill="#2a4a9a"/>
<rect x="504.90" y="423.92" width="4.90" height="32.58" fill="#efc98c"/>
<rect x="505.20" y="424.22" width="4.30" height="32.28" fill="none" stroke="#e0982a" stroke-opacity="0.22" stroke-width="0.6"/>
<circle cx="505.48" cy="422.41" r="0.90" fill="#e0982a"/>
<circle cx="507.60" cy="423.42" r="0.90" fill="#e0982a"/>
<circle cx="509.35" cy="423.92" r="0.90" fill="#e0982a"/>
<circle cx="506.43" cy="424.42" r="0.90" fill="#e0982a"/>
<circle cx="508.74" cy="425.42" r="0.90" fill="#e0982a"/>
<text x="466.30" y="458.15" font-size="4.80" text-anchor="end" fill="#1a1a1a" textLength="11.20" lengthAdjust="spacingAndGlyphs" stroke="#1a1a1a" stroke-width="0.06">4000</text>
<text x="466.30" y="448.13" font-size="4.80" text-anchor="end" fill="#1a1a1a" textLength="11.20" lengthAdjust="spacingAndGlyphs" stroke="#1a1a1a" stroke-width="0.06">5000</text>
<text x="466.30" y="438.10" font-size="4.80" text-anchor="end" fill="#1a1a1a" textLength="11.20" lengthAdjust="spacingAndGlyphs" stroke="#1a1a1a" stroke-width="0.06">6000</text>
<text x="466.30" y="428.08" font-size="4.80" text-anchor="end" fill="#1a1a1a" textLength="11.20" lengthAdjust="spacingAndGlyphs" stroke="#1a1a1a" stroke-width="0.06">7000</text>
<text x="466.30" y="418.05" font-size="4.80" text-anchor="end" fill="#1a1a1a" textLength="11.20" lengthAdjust="spacingAndGlyphs" stroke="#1a1a1a" stroke-width="0.06">8000</text>
<path d="M470.00,456.50H472.50M470.00,446.48H472.50M470.00,436.45H472.50M470.00,426.42H472.50M470.00,416.40H472.50M482.45,456.50V458.90M503.60,456.50V458.90" stroke="#111" fill="none" stroke-width="0.95"/>
<path d="M471.20,451.49H472.50M471.20,441.46H472.50M471.20,431.44H472.50M471.20,421.41H472.50" stroke="#111" fill="none" stroke-width="0.6"/>
<line x1="472.50" y1="413.50" x2="472.50" y2="457.10" stroke="#111" stroke-width="1.2"/>
<line x1="471.90" y1="456.50" x2="512.10" y2="456.50" stroke="#111" stroke-width="1.2"/>
<text x="482.45" y="466.96" font-size="5.40" text-anchor="middle" fill="#1a1a1a" textLength="9.00" lengthAdjust="spacingAndGlyphs" stroke="#1a1a1a" stroke-width="0.06">SPL</text>
<text x="503.60" y="466.96" font-size="5.40" text-anchor="middle" fill="#1a1a1a" textLength="14.00" lengthAdjust="spacingAndGlyphs" stroke="#1a1a1a" stroke-width="0.06">Colon</text>
<text transform="translate(448.70,434.10) rotate(-90)" x="0" y="1.86" font-size="5.40" text-anchor="middle" fill="#1a1a1a" textLength="23.40" lengthAdjust="spacingAndGlyphs" stroke="#1a1a1a" stroke-width="0.06">pAKT MFI</text>
<line x1="477.20" y1="435.60" x2="485.90" y2="435.60" stroke="#222" stroke-width="0.95"/>
<text x="481.55" y="435.83" font-size="5.60" text-anchor="middle" fill="#222" stroke="#222" stroke-width="0.07">**</text>
<line x1="498.10" y1="419.70" x2="507.10" y2="419.70" stroke="#222" stroke-width="0.95"/>
<text x="502.60" y="419.93" font-size="5.60" text-anchor="middle" fill="#222" stroke="#222" stroke-width="0.07">**</text>
<rect x="476.00" y="520.65" width="4.90" height="21.25" fill="#8e9bc9"/>
<rect x="476.30" y="520.95" width="4.30" height="20.95" fill="none" stroke="#2a4a9a" stroke-opacity="0.22" stroke-width="0.6"/>
<line x1="478.45" y1="520.65" x2="478.45" y2="514.43" stroke="#2a4a9a" stroke-width="0.7"/>
<line x1="477.15" y1="514.43" x2="479.75" y2="514.43" stroke="#2a4a9a" stroke-width="0.7"/>
<circle cx="476.41" cy="505.81" r="0.90" fill="#2a4a9a"/>
<circle cx="479.00" cy="514.83" r="0.90" fill="#2a4a9a"/>
<circle cx="480.16" cy="523.86" r="0.90" fill="#2a4a9a"/>
<circle cx="477.52" cy="529.87" r="0.90" fill="#2a4a9a"/>
<circle cx="479.68" cy="532.88" r="0.90" fill="#2a4a9a"/>
<rect x="484.00" y="520.65" width="4.90" height="21.25" fill="#efc98c"/>
<rect x="484.30" y="520.95" width="4.30" height="20.95" fill="none" stroke="#e0982a" stroke-opacity="0.22" stroke-width="0.6"/>
<line x1="486.45" y1="520.65" x2="486.45" y2="516.84" stroke="#e0982a" stroke-width="0.7"/>
<line x1="485.15" y1="516.84" x2="487.75" y2="516.84" stroke="#e0982a" stroke-width="0.7"/>
<circle cx="484.48" cy="513.83" r="0.90" fill="#e0982a"/>
<circle cx="486.85" cy="519.85" r="0.90" fill="#e0982a"/>
<circle cx="488.39" cy="523.86" r="0.90" fill="#e0982a"/>
<circle cx="485.80" cy="525.86" r="0.90" fill="#e0982a"/>
<circle cx="487.79" cy="521.85" r="0.90" fill="#e0982a"/>
<rect x="497.40" y="516.84" width="4.90" height="25.06" fill="#8e9bc9"/>
<rect x="497.70" y="517.14" width="4.30" height="24.76" fill="none" stroke="#2a4a9a" stroke-opacity="0.22" stroke-width="0.6"/>
<line x1="499.85" y1="516.84" x2="499.85" y2="513.43" stroke="#2a4a9a" stroke-width="0.7"/>
<line x1="498.55" y1="513.43" x2="501.15" y2="513.43" stroke="#2a4a9a" stroke-width="0.7"/>
<circle cx="498.09" cy="512.83" r="0.90" fill="#2a4a9a"/>
<circle cx="500.07" cy="513.83" r="0.90" fill="#2a4a9a"/>
<circle cx="502.03" cy="514.83" r="0.90" fill="#2a4a9a"/>
<circle cx="498.99" cy="527.87" r="0.90" fill="#2a4a9a"/>
<circle cx="500.92" cy="517.84" r="0.90" fill="#2a4a9a"/>
<rect x="504.90" y="507.81" width="4.90" height="34.08" fill="#efc98c"/>
<rect x="505.20" y="508.12" width="4.30" height="33.78" fill="none" stroke="#e0982a" stroke-opacity="0.22" stroke-width="0.6"/>
<circle cx="505.48" cy="505.81" r="0.90" fill="#e0982a"/>
<circle cx="507.60" cy="507.81" r="0.90" fill="#e0982a"/>
<circle cx="509.35" cy="508.82" r="0.90" fill="#e0982a"/>
<circle cx="506.43" cy="506.81" r="0.90" fill="#e0982a"/>
<circle cx="508.74" cy="509.82" r="0.90" fill="#e0982a"/>
<text x="466.30" y="543.55" font-size="4.80" text-anchor="end" fill="#1a1a1a" textLength="11.20" lengthAdjust="spacingAndGlyphs" stroke="#1a1a1a" stroke-width="0.06">2500</text>
<text x="466.30" y="533.53" font-size="4.80" text-anchor="end" fill="#1a1a1a" textLength="11.20" lengthAdjust="spacingAndGlyphs" stroke="#1a1a1a" stroke-width="0.06">3000</text>
<text x="466.30" y="523.50" font-size="4.80" text-anchor="end" fill="#1a1a1a" textLength="11.20" lengthAdjust="spacingAndGlyphs" stroke="#1a1a1a" stroke-width="0.06">3500</text>
<text x="466.30" y="513.48" font-size="4.80" text-anchor="end" fill="#1a1a1a" textLength="11.20" lengthAdjust="spacingAndGlyphs" stroke="#1a1a1a" stroke-width="0.06">4000</text>
<text x="466.30" y="503.45" font-size="4.80" text-anchor="end" fill="#1a1a1a" textLength="11.20" lengthAdjust="spacingAndGlyphs" stroke="#1a1a1a" stroke-width="0.06">4500</text>
<path d="M470.00,541.90H472.50M470.00,531.88H472.50M470.00,521.85H472.50M470.00,511.82H472.50M470.00,501.80H472.50M482.45,541.90V544.30M503.60,541.90V544.30" stroke="#111" fill="none" stroke-width="0.95"/>
<path d="M471.20,536.89H472.50M471.20,526.86H472.50M471.20,516.84H472.50M471.20,506.81H472.50" stroke="#111" fill="none" stroke-width="0.6"/>
<line x1="472.50" y1="498.90" x2="472.50" y2="542.50" stroke="#111" stroke-width="1.2"/>
<line x1="471.90" y1="541.90" x2="512.10" y2="541.90" stroke="#111" stroke-width="1.2"/>
<text x="482.45" y="552.46" font-size="5.40" text-anchor="middle" fill="#1a1a1a" textLength="9.00" lengthAdjust="spacingAndGlyphs" stroke="#1a1a1a" stroke-width="0.06">SPL</text>
<text x="503.60" y="552.46" font-size="5.40" text-anchor="middle" fill="#1a1a1a" textLength="14.00" lengthAdjust="spacingAndGlyphs" stroke="#1a1a1a" stroke-width="0.06">Colon</text>
<text transform="translate(448.70,518.80) rotate(-90)" x="0" y="1.86" font-size="5.40" text-anchor="middle" fill="#1a1a1a" textLength="29.60" lengthAdjust="spacingAndGlyphs" stroke="#1a1a1a" stroke-width="0.06">pmTOR MFI</text>
<line x1="498.10" y1="503.30" x2="507.10" y2="503.30" stroke="#222" stroke-width="0.95"/>
<text x="502.60" y="503.53" font-size="5.60" text-anchor="middle" fill="#222" stroke="#222" stroke-width="0.07">*</text>
</svg>
<div id="frame"></div>
</body></html>
